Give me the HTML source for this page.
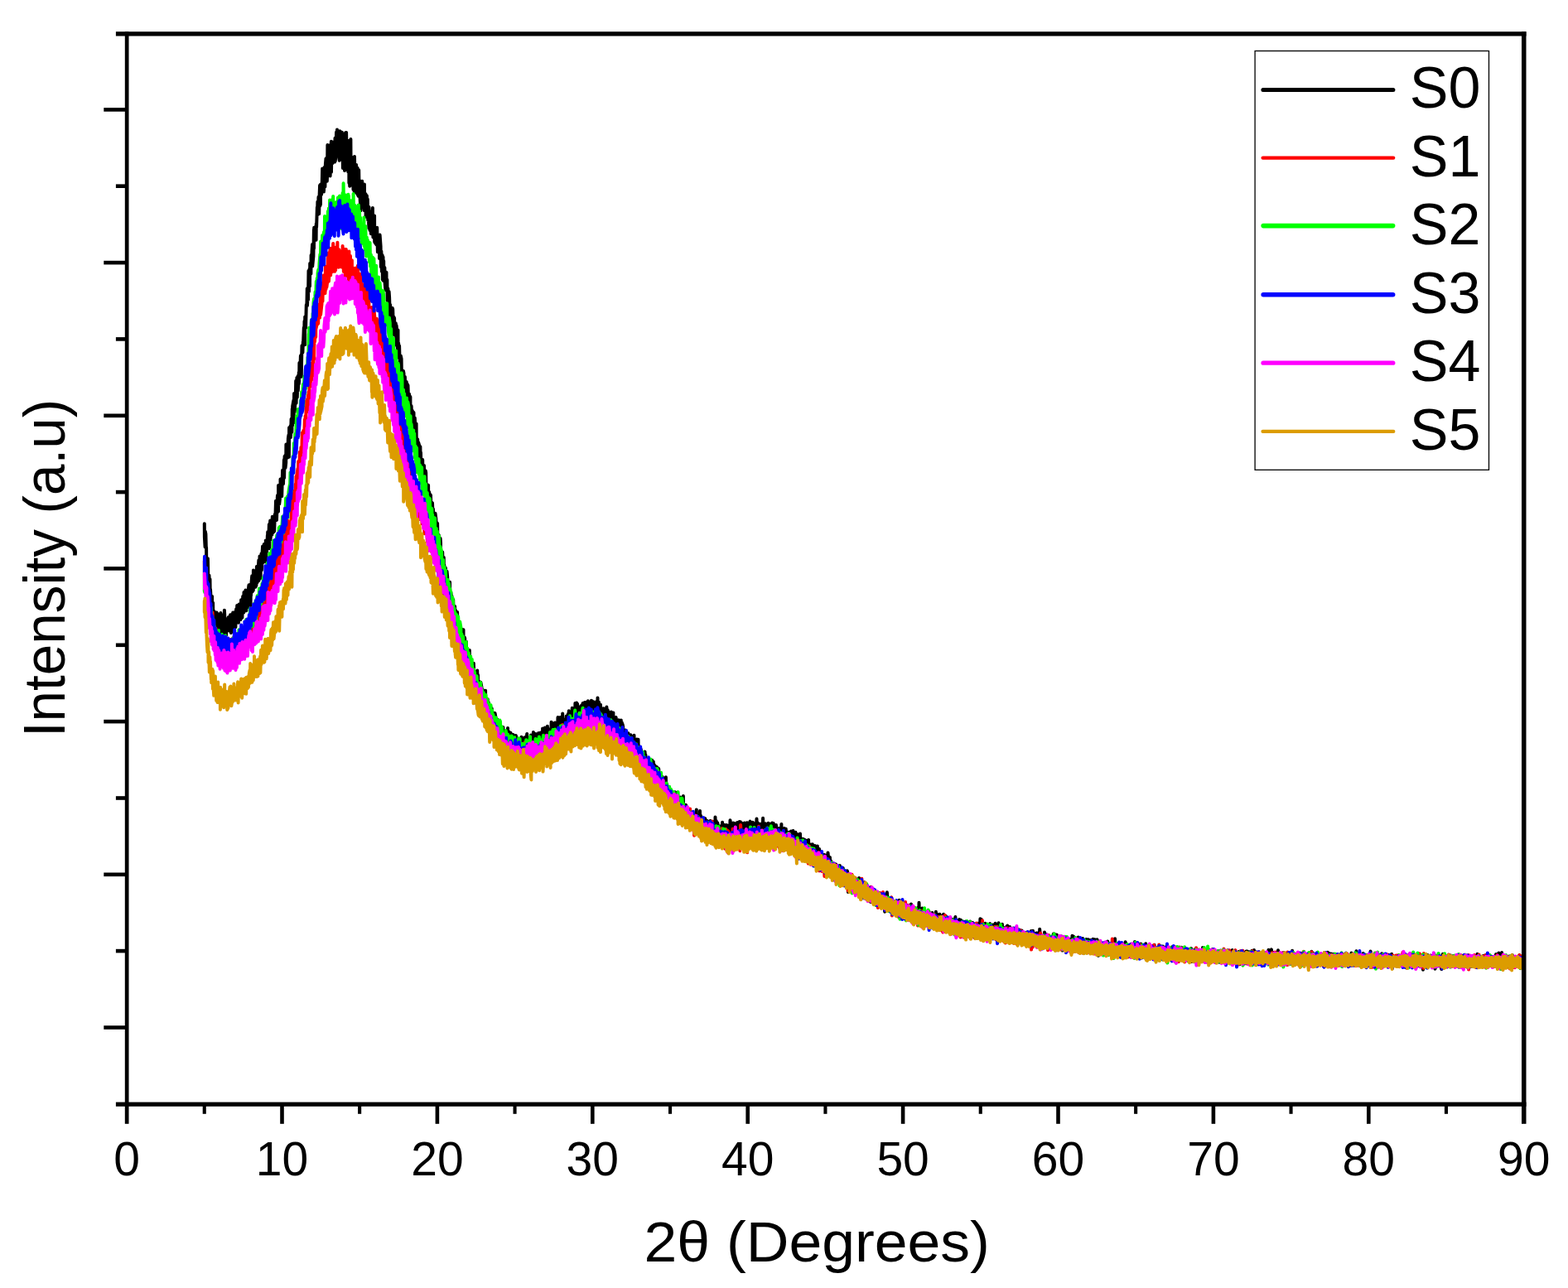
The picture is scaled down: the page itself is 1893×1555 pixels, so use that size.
<!DOCTYPE html>
<html><head><meta charset="utf-8"><title>XRD</title>
<style>
html,body{margin:0;padding:0;background:#fff;}
body{width:1893px;height:1555px;overflow:hidden;}
svg{display:block;}
text{font-family:"Liberation Sans",Arial,sans-serif;fill:#000;}
</style></head><body>
<svg width="1893" height="1555" viewBox="0 0 1893 1555">
<rect width="1893" height="1555" fill="#fff"/>
<g fill="none" stroke-linejoin="round" stroke-linecap="round">
<path d="M246.8 632.3l.1 16.1 .7 12.1 .2-18.9 .6 3 .4 15.2 .3 1.7 .1 16.4 1.2 5.6 .5-9.3 .2 9.6 .3 21.1 1.1-10.2 .3 16.7 .7-12.1 .3 24.5 .2-12.5 .9 15.8 .2-5.6 .7 12.1 .3-13.5 .1 19.4 .9-11.8 .3 17.3 1-7 .4 11.9 .2 2.3 .5-10 1 17.4 .1-20 .4 16.3 .6-16.4 .6 1.4 .2 15.9 .6 9.9 .5-19.5 1 13.6 .3-11.4 .6-8.1 .5 22.1 .5-23.5 .1 27.7 .6-6.4 .8-18.8 .3 4.7 .3 12.8 .7 6.5 .7-20.7 .1 23.6 .9-32.6 .3 4.9 .2 21.5 1-16 .1 11.8 .6 8.1 .7-19.6 .8-.1 .2 11.1 .3-1.4 .5-11.7 .6 .2 .2 15.7 .8-.3 .3-15.7 .6-3 .5 21 .4 .8 .1-21.7 1.1 1 .2 12.1 .8-15.9 .4 22.7 1-19.2 .2 14.3 .3-18 .5 14.5 .8 3.4 .4-18.4 .4-3.5 .4 12.5 .4 4 .2-20.7 1.4 5.8 .2 12.4 .2 2.4 .6-22.3 .4 12.9 .5-11.2 .9 17 .5-16.8 .2-7.1 .1 22.3 1-20 .2 19.2 .8-25.8 .2 17.6 .7 2.1 .4-24.6 .7 9.7 .2 12.5 1-24.6 .1 24.8 .9-.2 .1-23.3 .7 15.6 .7-16.7 .1 20.5 .5-19.8 1-7.3 .4 21.3 .6 .9 .3-22.7 .8 25.3 .2-25 .2 13.2 .5-15.8 .7-8.1 .4 19.2 1.2-1.8 .1-24.1 .2 20.1 .3-18.3 1 15.5 .5-16.6 .6 19.5 .4-16.2 .5 14.3 .5-22.9 .3 2.3 .4 17 .6-6.4 .6-12.8 .6-7.9 .1 24.8 .9-10.5 .1-19.1 1.1 26.6 .3-21.5 .6-8.2 .3 20.3 .4-4.8 .2-13.7 .7-10.7 .8 19.6 .5-1.8 .4-20.3 .6 2.4 .2 15.6 1-.5 .2-21.8 .2 25.9 .5-22.2 .6 9.8 .8-20 .1 14.7 .2-18.6 .8 16.4 .9-25.5 .5 29.2 .1-21.2 .7-12.5 .2 23.2 .6-4.9 .8-14.7 .7 13.3 .3-21.8 .3 19.7 .4-16.4 .7-2.9 .3 18.1 .7-1 .6-20.3 .6 3.8 .5-16 .1-4 .6 19.7 .4 3.5 .8-26.4 .2-3.4 .4 18.9 .6 .6 .1-31.6 .9 .9 .2 21.7 1.2-10.5 .1-19.6 .5 21 .8-16.3 .2-5.2 .2 21.1 .9-31.4 .7 15.6 .2 .9 .9-29.2 .2 21.9 .5-25.9 .8-1.2 .1 15.3 .7-6.4 .2-22.1 1.1 16.4 .4-16.7 .3 16.2 .7-23.2 .6-4.4 .4 26.8 .2-35.5 .5 10.8 .8-.1 .2-12.7 .4 13.7 .6-22.2 .8 15.9 .4-28.2 .2 20.5 .2-23.6 1.3-7.3 .1 27.2 .5-35.1 .8 21.8 .1-4 .9-14.5 .3-18.7 .4 27.1 .8-30.9 .4 23.8 .8-25.6 .2 17.4 .3-4.5 .7-17.6 .3 13.5 .3-24.8 .6 17.3 .9-25.6 .7-1.3 .2 26.2 .2-15.5 .5-21.9 .9 8.5 .5-13.6 .1 4.8 .8-21.5 .3 15.2 .4-22.9 .6 28.5 .1-33.7 .9 13.2 .7-27.8 .6 1.4 .4-21.1 .2 20.7 .6-15.8 .4 8.7 .5-35 .5 25 .5-26.8 .5 20.3 .2-27.5 1.2 12.5 .2-22.4 .5 10.9 .5-15.9 .5-7.9 .1 26.5 1.2-12.1 .5-32.4 .1 23 .2-25.4 1 14.4 .7-15 .7 15.7 .2-19.8 .3 4.3 .8-24.2 .2 9.5 .3-16.1 .7 9.3 .4-15 .7 20.5 .4-22.4 .5-12.2 .1 25.2 .8-2.3 .1-24 1 12.4 .7-14.7 .4-16.8 .7 25.9 .3 .1 .4-23.9 .4 25.8 .8-29.6 .6 23.7 .5-27.2 .6-6.9 .1 26.6 .6-27.2 .6 27.9 .2-4.5 .4-39.2 .7 9.3 .7 26.7 .2 .6 .5-36.1 .5 5.3 .6 31.6 .5-11.7 .8-29.9 .1 36.9 .4-30.2 .6-6 .6 25.4 .9-21.2 .1 17.3 .5-1.8 .7-20.1 .3 24.5 .4-28.8 .5 27.1 .9-28.6 .2-5.8 .7 22.7 .2-25.7 .5 21.2 .5-10.5 .1 16.9 1.7 9.7 .1-30.8 .3-4.7 .6 33.2 .3-32.6 .8 31.6 .6-7.1 .4-23.6 .6 10.4 .4 32.9 .3-37.2 .2 25.7 .8-21.1 .3 26.1 .5 9.3 .2-35.1 .8-10.5 .8 39.9 .3-40.3 .8 44.8 .5-34.5 .4 27.6 .3-28 .3 37.9 .8-32.4 .2 45.7 .7-50.5 .1 54.2 1.2-56.8 .2 30.7 .4-4.9 .8 23.3 .4 6.6 .4-33.3 .9 38.7 .1-38.6 1 5.8 .2 35.5 .2-42.6 .6 33.7 .6-18.5 .3 19 .6-24.3 .1 33.9 1.4-30.2 .2 32.3 .8 1.7 .3-25.5 .3-5.9 .4 23.4 .5-10.7 .5 21 .9 15.3 .4-32.7 .3 18.3 .2-14.9 .8-6.2 .6 27.2 .6 4.5 .1-21.5 1.3 25.1 .1-31.7 .2 12.2 .8 17.9 .6-18.2 .1 27.4 1.2-3 .1-22.4 .3 25.6 .6-21.3 .4 25.1 .2-13.7 1 23.7 .1-25.6 1 27.8 .1-23 .4 .7 .9 26.6 .3-27 .3 24 1.1 1.3 .3-29.5 .2 19.1 .3 16.4 1.2-2.6 .2-11.6 .3-11.8 .1 31.6 1.3 1.9 .3-15 .2-3.1 .4 19.6 .8-20.8 .7 29.5 .5-19.2 .2 14.1 1.2 6.2 .1-19.5 .1 26.1 .6-28.3 1 13.8 .3 24.9 .5-18.8 .5 24.2 .7-19.6 .3 29.7 .6-27.6 .1 28.5 .6-23.8 .2 22.7 1-14.6 .2 18 .8 9.2 .2-20.8 .9-.5 .1 18.4 .8-9.5 .2 25.3 .8-14.9 .4 12.5 .3 21.2 .5-29.9 .5 7.1 .8 23.9 .3-15 .6 10.2 .4-6.5 .2 14.2 .8 12.8 .6-26.6 .4 1.3 .7 21.9 .2 9.2 .4-21.7 .6 1.3 .4 19.4 1.1 .9 .2-14.1 .7 26.4 .1-23.7 .5 5.5 .7 24.1 .7-24 .1 23.7 .6-7.8 .7 17.8 .2-14.7 .8 29.9 .2-4.9 .7-13.1 .8 3.6 .3 22.9 .2-7.4 .8 11.9 .9 3.1 .1-15.9 .6 3 .4 13.7 .6 23.4 .4-32.9 .5 25 .2-17.5 .8 19.9 .4-21.3 1 27.4 .1-24.5 .3 33.2 .3-32.1 1.3 41.2 .1-21.3 .2-9.2 .8 30.5 .5-27.2 .1 22.5 .9 8.9 .2-20.4 1 20.7 .2-14.9 .4 1.3 .6 20.4 .7-19.5 .3 27.4 .7-.1 .3-20.8 .6 11.2 .2 19.5 1-23.6 .3 40.5 .1-23.7 .4 14.8 .8-12.6 .3 16.6 .6 .1 .1-13.1 1.2 4.4 .2 20.9 .8-20.2 .4 23.9 .2-16.9 .5 24.1 .7-11.8 .7 13.8 .3-17.4 .3 18 .5-9.6 .9 21.3 .1-22.6 .8 26.3 .3 4.1 .7-24.2 .4 2.4 .3 18.1 .9-4 .4 15.9 .4-.6 .7-13.5 .2-.9 .1 22.2 1-13.9 .3 27.7 .5-25.2 .8 18.9 .2-17.6 .6 27.6 .6 2.6 .2-19.3 .6-1.5 .8 20.1 .2-12.7 .6 22.5 .4-9.9 .1 12.9 .9-1.9 .5-18.4 .9 6.7 .4 20 .4 .1 .3-15.5 .6 .8 .4 21.7 .5 4.2 .8-11.7 .4 1.4 .2 16.2 .7 .5 .5-14.2 .4 5.3 .2 18.7 .9-7.1 .4 17.3 .7-17.7 .7 27.6 .9-21.1 .1 14.4 .2 11.6 .1-17.5 1.2 15.8 .1-12.2 .5 .7 .8 23.5 .2 2.4 .5-21.9 .7 6.7 .2 16.6 1-9.7 .4 15.8 .4-7.3 .7 9.6 .2-18.7 .1 21.9 1.3-8.7 .1 13.6 .8-10.2 .4 16.2 .4 7.5 .2-18.5 .8-.5 .4 22.7 .5-2.3 .3-12 .7-.5 .5 20.1 .5-15.3 .5 13.7 .9-9.6 .1 19.2 .5-21.1 .7 33.1 .6-20.1 .4 13.5 .3-13.7 .7 16 .4-10.6 .3 16.7 .7-13.9 .2 11.5 1.2 5.7 .2-17.4 .2 3.6 .9 16.6 .6-19.8 .1 30.5 1-.7 .3-20.5 .3 1.3 .3 18.9 .5 .6 .9-15.5 .2 12.4 .7 7.2 .6 7.6 .4-16.9 .2 .4 .4 17.2 1-.7 .4-17.1 .2 13.1 .4 16.7 .6-21.4 .5 20.4 .6-10.8 .4 12.8 1.3 7.1 .1-19.9 .1 17.4 .8-19.6 .2 5 .4 22.2 .8 .1 .3-15.8 .5-1.2 .5 9.2 .5 11.3 .6-11.2 .6-10.8 .6 22.3 .3-16.7 .1 18.7 1.3-2.7 .4-8.2 .3 18.4 .2-17.9 .7 20.8 .3-20.4 1.1 6 .4 17.9 .5-3.9 .5-11 .2 .7 .7 12.4 .6-8.6 .1 17.2 .7-1.1 .7-16.2 .2-3.4 .1 22.2 .9-9.9 .3 16 1-2.4 .4-15.5 .2 17.4 .9-11.5 .2-1.6 .7 16.2 .6-12.5 .4 14.5 .6-13.9 .1 20.9 .7-2.3 .6-15.8 .2 21.8 .9-17.3 .3 16.1 .3-15.4 .7 3.7 .7 14.3 .1 .9 .6-18.7 .8 4.8 .2 17.1 1.2-10.6 .1 13 .5-16.7 .2 17.9 .5-14.8 .8 13.1 .2-8.2 .8 14.6 .1-17.3 .8 11.3 .3 1.1 .3-7.5 .6 2.1 .5 10.7 .9-8.7 .4 12.7 .6-17.6 .2 29.3 .9-25.1 .3 14.1 .7 4.1 .1-15.8 1 1.5 .3 13.9 .1-16.3 .5 14.6 1-.1 .4-12.1 .1-7 .4 20.1 .6-2.9 .5-12.7 1.1 7.8 .3 10 .6-16.7 .1 16.2 1.2-14.5 .1 19.7 .2-16.8 .8 16.9 .1 2.8 .6-22.1 .8 5.5 .5 14.8 .5-1 .5-11.4 .2 8.7 .7-15.5 .3 1.4 .4 16.2 .5-14.1 .1 19.8 1-2.7 .8-11 .1-3.6 .5 13.7 .7-.7 .7-13.5 .2 1.4 .5 12.8 .5 2.3 .4-20.3 1 25.1 .1-23.6 .4 14.2 .2-12.6 1.6 11.7 .1-10.1 .2 12.2 .3-16.3 .6 15 .9-8.4 .1 11 .4-13.4 .8-8.6 .3 21.1 1.3 1.4 .1-16 .7 .6 .2 14 .2-12.6 .6 11.2 .9-2.8 .3-10.2 .2-5 .1 20.5 1.5-15.5 .3 22.7 .9-12.6 .1-18.8 .5 10.4 .2 10.3 .6-2.5 .7-13.8 .1 15.7 .8-18.1 .4 5.2 .7 10.8 .1-12.4 .1 12.5 1.4-2.2 .4-7.7 .2-7.1 .8 16 .1 7.1 .1-18.2 1.3 6.8 .2-12.3 .5 14.9 .5-13.9 .6 5.1 .2 13.3 .6-5.1 .1-19.3 1.3 15.6 .5-7.5 .3 16.7 .7-25.6 .9 4.9 .1 11.5 .1-15.5 .4 14.4 1.2-2.2 .3-15 .3 18.5 .6-15.5 .2 19.9 .8-17.3 .2-1.2 .6 11.1 .6-9.2 .3 13.3 .9 .6 .2-25.2 .6 21.2 .3-17.1 .9 3.6 .5 11.7 .6-17.9 .1 17.5 .5 5.7 .5-21.9 .4-2.1 .8 21.8 .4-4.3 .3-12.8 1-4 .4 10.6 .6-17.6 .1 17.3 .6-2.9 .6-10.4 .2 18.4 .5-14.4 .7 14.8 .2-22.8 .6 17.9 .1-12.5 1.1-4.5 .3 18.6 .7-24.1 .7 18.9 .3-12.1 .2 18.3 1.1-6.1 .4-8.9 .5-2.2 .5 13.4 .3-3.5 .6-14.8 1 5.6 .1 7.8 .6 6.2 .3-22.1 .3 10.1 .7-13.9 .6 22.7 .2-15.5 .4-1.1 .1 17.6 .9-19 .5 16.9 .5-7.6 .8-17.5 .6 3.8 .1 12.1 .9-.8 .5-11.6 .2 10.5 .4-12.4 .5 18.9 .4-26.3 .6 8.7 .2 14 .9-23 .7 26.9 .3-25.8 .3 11 1.2 3.2 .2-6 .8-2.2 .3 10.6 .2 1.5 .7-14.7 .6 16.8 .4-16 .3-2.3 .3 12.1 1.2-14.8 .2 13.5 .4-11.5 .2 13.6 .6-.7 .9-15.7 .3 2.5 .4 10.3 .4-9.7 .2 13.4 1.2-3.1 .1-14 .7 12.6 .7-13.8 .7 2.5 .3 15.9 .2 2.4 .8-15.4 .3-1.5 .7 15.1 .3-6.2 .7-13.3 .1 17.6 .8-12.2 .2-4.7 .1 20.4 1.3-19.6 .4 24.7 .6-19.4 .5 10.2 .6-2.9 .3-8 .2 .6 .8 7.6 .2 4.2 .1-17.4 1.3 15.1 .1-19.4 .5 22 .4-16.3 .7-.4 .1 16.7 1 .8 .7-11.4 .1-3.2 .5 13 .5 4.5 .1-13 .9 1.3 .2 11.6 .8-.5 .5-12.4 .7 18.4 .3-16.3 .6-1.7 .4 14.6 1.1-14.2 .2 13.6 .3 .8 .3-17 .6 21.1 .5-17.7 .6 2.2 .1 12.2 1.2 0 .5-11.2 .3 15.8 .2-11.6 1.1 8 .4-12.7 .9 21 .1-19.8 .5 19.6 .5-13.7 .5-6.3 .2 19.1 .5 3.9 .8-12.7 .5-3.5 .5 17.8 .1-4.5 .6-14.6 1.2 11.6 .1-5.7 .9-.2 .1 10.2 .5 9.8 .5-22.4 .1 4.2 .5 16.7 .5-12.2 .2 14.2 1.3-4.7 .3-18 .4 21.2 .7-18.1 .5 20.6 .2-18.8 .6 3 .6 21 .4-3.8 .4-11 .4-1.6 .8 15.2 .3-15.7 .4 24 .5-21.3 .5 15.6 .6-1 .1-13.1 1.2-.4 .2 12 .5-7.9 .3 9.6 .8 10.7 .6-19 .7-3.4 .4 12.3 .1-10.7 .5 14.3 .5-10.7 .8 13.9 .3-6 .7-7.1 .7-5.5 .3 18.9 .2-13.6 .1 10.6 1.1-9.5 .7 11.2 .7 .1 .2-12.8 .3 .6 .4 23 1-23.4 .3 16 .2-8.5 .1 12.9 1-6.7 .3 8 .8 2.7 .4-12.9 .5 1.9 .8 13.2 .1-11 .1 19.1 1 .2 .8-17.4 .5 11 .4-12.5 .8-1.2 .3 18.4 .5-14.8 .4 11.4 .3 7.9 .3-13.5 1.2 9.8 .3-10.1 .5 .9 .4 14.1 .7 .2 .3-11.1 .3 15.6 .4-16 .7 1 .3 13.7 .5-13.1 .1 11.9 1.1-16.2 .6 19.3 .8 1.1 .2-18.5 .2 18.4 .6-15.3 .6 2.1 .2 11.9 .6-11.9 .5 9.6 1 4.6 .1-11.9 .6-.9 .7 13.5 .1-10.8 .6 8.7 .6-9.6 .7 13.4 .1-9 .8 15.6 .8-14 .2 12.3 .6 2.1 .1-11.6 .9 8.5 .4-7.4 .8 4.4 .2 18.4 .4-15 .6 7.8 1 3.3 .1-15.9 .6 20.9 .4-23.6 .2 10.6 .3 11.4 .6-14 .9 18.7 .1-16 .8 11 .7 6.9 .3-13.5 .3 10.9 .7-11.7 .2 3.3 .5 13.8 .7-15.6 .6 12 .3-9.6 .3 10.3 1.1-8.6 .3 13.9 .2-13.8 .6 11.3 .8 2.4 .4-15.7 .3 .7 .5 17.2 .4 .4 .6-13.2 1-4.5 .2 15.6 .4-12.8 .3 14.6 .6 9.7 .8-20.9 .5 3.4 .5 14.8 .5-18.7 .5 14.5 .7-10.2 .2 20.6 .6-5.6 .2-9.3 .8 16 .5-27.5 .1 8.4 .6 12 .5-5.9 .1 6.8 1.2 2.6 .2-11.9 .5-1.2 .5 15.3 .4 1.5 .8-10.5 .3 .2 .5 10.6 .4-12.4 .8 16 .4-2.7 .7-12.9 .5 3.2 .2 13.3 .4-.4 .8-10.4 .3-.8 .5 10.6 .6-9 .3 10.3 .6-2.5 .5-7.2 .5 11.4 .1-11.4 1.3 4.8 .3 10.2 .2-.3 .8-21.2 .3 19.7 .7-11.7 .2 1.2 .8 7.5 .3-7.8 .8 9.8 .6-6.1 .3 10.3 .2-21.5 .5 26.6 .6-20.7 .8 10.9 .5-6.5 .4 9.2 .7-2 .3-8.2 .3 3.7 .7 13.3 .3 0 .1-17.5 1.2 .6 .1 13.4 1-8.8 .1 8.8 .6 2.3 .6-12.9 .8 15.2 .3-11.6 .2 .1 .7 13.2 .2-1.7 .4-8.8 1-6.4 .2 14.4 .4-1.4 .8-7.2 .2-2.8 .4 12.8 .8-2.6 .4-12.2 1 2.5 .3 9.7 .7 3.9 .3-13.4 .5 13.9 .1-22.1 .6 23.7 .7-19 .2 9.7 .5 8.3 .5-2.4 .4-13.3 .8 7.9 .3 9.8 1-4.1 .1-9.8 .6 11.2 .3-5 .5 0 .9-6.5 .1 17.7 .9-19.5 .2-2.5 .8 16.8 .7-.9 .2-7.7 .8-5 .2 15.1 .8-12.7 .3 10.8 .7-12.3 .3 18.4 .1-19.4 .5 13.5 .7-13 .2 10.2 1 4 .1-11 .5-.6 .9 18.4 .1-5.5 .5-21.6 .9 6.7 .4 9 .2-8.2 .8 12.8 .8-14 .2 10.3 .4-13.4 .3 12.1 .9 2.3 .4-13.8 .4 2.6 .3 13.6 .9-14 .4 10.4 .4-4 .4 4.3 .5-14 .3 11.1 .6 6 .8-15.2 1-2.8 .1 15.7 .6 1.2 .4-16.8 .2 6.8 .8 12.3 .3-17.7 .4 11 .6-9 .6 14.4 .3-10.6 .4 16.5 1.3-22.5 .1 16 .2-12.4 .3 13.6 .8-14.1 .2 10.7 1.4-13.9 .1 11.1 .5 9 .5-17.6 .1 .2 .1 12.7 1.7-2.4 .1-12.2 .7-2.5 .2 14.4 .6 0 .5-8.9 .2 12.7 .8-14 .6 4.8 .3-7.9 .2 1.7 .2 13 .8-11.6 .6 12.5 .5-13.7 .8 13.4 .9-.6 .1-8.6 .6-10.3 .4 13.1 .3 2.3 .4-10.7 .9 2.4 .3 17.1 .4-2.4 .2-15.8 1 12.1 .1-6.1 .9 9.5 .2-15.2 .4 14.7 .8-10.3 .7-5.1 .1 15.3 .5-21.7 .7 25.2 .3-16.1 .5 11.2 .5-11.5 .3 10.1 .6-12.3 .6 13.3 .9 5.8 .3-17.2 .2 3.1 .5 20.9 1.1-26.4 .2 18.8 .2-1.7 .5-13.7 .9-1.7 .1 14.5 1.1-4.7 .2-9.1 .2-1.8 .4 10.4 .8-11.4 .4 10.2 .6 .7 .6-10.3 .4 11.8 .2-7.6 .8 9.8 .4-9.8 .4 10.2 .9-8.7 .1-3.7 .5 15.6 .6-8 .7 12 .2-12.3 .5 5.9 .7-9.3 .2 9.5 .8-5.2 .2 13 .6-15.6 .9 14.2 .5-20.9 .4 20.6 .3-2.4 .3-12.4 1.1 11.9 .3-7 .4 7 .7-12.5 .7 2.2 .3 16.1 .1-7.1 .8-10.5 .2 4.5 .5 7.5 .6-5.8 .5 8.7 1.2-9.1 .1 9.5 .1-11.4 .5 14.7 .9-4.7 .2-9.8 .9 2.3 .1 8.6 .4-12.4 .8 12 .7 3.4 .3-9.3 .7-6.6 .3 17.2 .8-4.5 .3-7.7 .7-1.4 .2 14.1 .7-15.8 .3 14.5 .3-10.2 .8 10.3 .3 1.7 .7-13.9 .3 15.3 .4-10.5 .5-1.2 .7 9.8 .4-4.9 .7 6.4 .1-15.5 .6 19.2 .5-13.7 .5 10.8 .6-7.1 .6 13.5 .4-2.4 .7-14 .5 1.2 .4 13.1 .2 2.7 .8-15.8 .3 13.1 .1-8.5 1.3-3.7 .1 13.7 .4-10.6 .1 11.9 1.5 4.6 .2-16.3 .3-4.4 .3 16.7 1-.5 .1-7.6 .6-.8 .5 8.6 .4-10.8 .6 14.9 .6 3.7 .7-18.9 .5 18.9 .1-12.1 .9 5.5 .2-7 .6 7 .7-10.4 .5 13.6 .4-11.7 .2 1.4 .5 6.3 .6 3.2 .8-12.3 .3 6.8 .7 16.1 .9-17 .1 12 .2-14.4 .3 16.5 .6-10.3 .8 12.6 1-3.5 .1-12 .2 2 .8 13.2 .3-11.4 .4 10.7 .6-1 .3-10 .7 .1 .7 14.4 .3-9.2 .4 3.9 .8 11.5 .5-14.5 .9 6.5 .1-12.8 .3 15.8 .3-18.1 1 9 .4 13.9 .6-2.3 .4-15.2 .5 7.1 .4 4.7 .3 2.1 .1-9.3 .8 14.2 .4-9.4 .6 10.8 .2-11.4 1.3 0 .4 14.4 .1-5.5 .4-9.6 .6 1.5 .5 10 .7-10.9 .2 14.8 .8-11.7 .6 10 .6-8 .2 8.2 .6-5.7 .6 8.8 .6-.2 .5-14.7 .3 5.2 .3 12.8 .6-15.6 .5 13.8 .8 0 .5-8.9 .9-4.5 .1 13.7 .2 .7 .1-12.5 .9 1.7 .5 15 .5-14.4 .5 8.7 .4-7 .9 13.8 .2 2.5 .7-18.8 .7 2.6 .4 23 .3-15.1 .2 8.4 1.1-12.9 .3 11 .2-12.2 .9 5.8 .5 10 .5-8.8 .7-1.4 .2 7 .3 5 .7-13.4 .6-.5 .5 11.9 .5 1.6 .5-13.2 .3 12.1 .7-9.1 .3 12.1 .2-10.1 1.2 11.9 .2-13.3 .3 13.6 .3-12.8 .6 8.1 .4 4.3 .7-17 .3 22.3 .7-2.5 .7-9.9 .7-1.9 .1 17.6 .5-5.7 .1-9 1 8 .6-10.3 .4 4.3 .6 6.5 .7-14.1 .3 16.2 .2 .5 .4-11.6 1.1 11.9 .4-8.5 .1-3.3 .5 9.2 .5-4.6 .4 9 1.1-8 .3 8.4 .7-1.1 .1-10.2 .6 13.4 .7-15.3 .2 17.8 .3-12.6 .7-2.2 .1 9.4 .8 2.6 .2-11.5 1 9.4 .7-7.4 .2 2.3 .5 8.4 .5-9.7 .3 9.4 .6 .7 .8-10.6 .8 1.5 .2 10.9 .3-11 .8 13.5 .6 .6 .4-10.7 .6 10.6 .1-10 .5-1.9 .4 9.2 1.3-6.4 .1 8.3 .1-8.6 .9 8.9 .6-2.8 .1-7.9 .8 13.8 .4-11.1 .2 .8 .4 8.5 .8 7.3 .7-20 .3 0 .2 12.5 1.1-1.6 .4-14.3 .6 8 .1 11.2 .5-10.9 .8 10.3 .5-.3 .2-7.9 .6 3.1 .6 7.3 .3-9.7 .5 9.1 .5-12.6 .1 11.7 1 5.4 .6-14.2 .4 13 .3-12.6 .6 9 .3-6.3 .7 10.1 .3-11 1 8.5 .4-6.4 .6-1.7 .4 13 .4-.8 .7-11.5 .1 3.9 .1 5.5 1.4 .9 .1-14.7 .6 14.4 .6-11.5 .3 14.7 .3-11.4 1-5 .5 10.9 .1-2.9 .2 7.9 1-.9 .4-9.1 .6-1.6 .7 10.2 .1 1.3 .2-11.2 .9-1.9 .7 12.4 1-8 .1 11.3 .2-12.8 .4 11.4 .6 .9 .4-8.7 .5-4.1 .1 12.1 1-10.9 .8 11.4 .5-10.1 .5 9.4 .1-13.3 .9 15.5 .9 0 .1-9.1 .6-.6 .1 9.4 .5-10.6 .5 14.6 .6-13.2 .2 8.3 .7-7 .1 5 1.3 7.9 .3-13.1 .4 11.6 .3-12 .9 11.8 .1-14.3 .6 14.5 .4-20.6 .6 19.7 .7-12.6 .2 16.6 .8-12.9 .6 10.1 .1-7.8 .9-6.2 .2 14.1 1.2-1.2 .1-9.6 .1 15.3 .6-12.2 .9-3.8 .1 10.3 .8 4.1 .1-11.8 .6 13.8 .5-14.3 .4 11.6 .6-11.2 1-.4 .2 8.2 .4 1.4 .3-10.5 .5 14.3 .8-10.3 .4 9.2 .6-7.3 .3-.4 .8 7.6 .6-11.4 .3 8.8 .6 1.7 .2-7.4 .5 1.1 .1 8.5 1-10.5 .4 11.6 1.2 1.1 .1-16.2 .1 14.6 .2-7.4 1.2-4.3 .4 13.5 .7-11.2 .4 8.1 .1-3.9 .2 5.5 1 1.4 .3-13.4 1.1 14.3 .2-12.6 .4 6.1 .4 9.9 .6-12.2 .7 11.3 .5-5.7 .2-8.7 .5-2.4 .3 12.4 .7-10.9 .5 14 .5-1.4 .8-11.7 .2 5.5 .5 9.4 .4-10.3 .5 13.3 .7-7.8 .4-7.3 .5 11.4 .5-7.5 .6 11.1 .4-13.2 .5 6.7 .7-8.1 .3 12.4 .5-8.6 .9 7.4 .3-10.6 .6 9.3 .2-8.3 .6 9.8 .3-6.3 1.3 3.7 .1-7.1 .5-4 .4 15 .6-10.5 .1 8.7 1 .2 .3-8.3 .3 13 .4-9.1 .7-1.3 .7 7.6 .2-12.3 .1 11.6 .8-7.8 .9 11.3 .1-.1 .1-14.2 .9 5.9 .6 6.5 1-10.6 .2 7.3 .8 2.6 .3-8.1 .3 1.6 .7 8.7 .9-12.2 .1 9.1 .7-6.5 .3 8.1 .1-7.7 .8 9.5 .2-2.3 .8-8.1 .7 6 .4-3.3 .2-.8 .3 13.6 .8-17.6 .2 8.2 1-3.7 .1 6.3 .7-.4 .3-8.4 .6-.7 .4 7.2 .5-4.4 .8 11.8 .6 1.2 .4-14.1 .3 2.9 .4 5 .9 2 .2-7.3 .5-.8 .4 11.1 1-13.7 .4 12.7 .6-1.3 .1-8.7 .4-2.5 .9 7.9 .5-13.6 .2 15.8 .4 2.2 .8-17.2 .4 15.9 .6-8 .7 6.7 .4-6.6 .3 1.7 .4 6.9 .8-.9 .1-8.9 .6 7.7 .3-9.8 .8 14.7 .2-13.4 .7 10.1 .7-5.7 .2-2.9 .5 10.6 .9-11.7 .5 12.1 .6 1.9 .1-10.7 .8-4.6 .1 12.4 .9 2.8 .5-11.9 .5 2.2 .4 6.5 .3-1.8 .5-8.9 .6 14.1 .2-12.5 .6 2.2 .6 6.3 1-11.7 .2 12 1 4 .1-8.5 .1-2.4 .6 10.5 .6-9 .7 12.4 .7-19.6 .2 16.5 .7-.8 .3-7.1 .3-4.2 .5 8.1 .6-4.7 .7 11.7 .9-3.1 .1-14.8 .5 16.7 .2-6.4 1.2 5.1 .1-7.4 .1-2 .2 9.4 1.2-2.4 .5-9.4 .1 3.4 .6 8.7 1.2 2.9 .1-9.7 .3-7.2 .3 13.1 .9-5.8 .4 5.8 .6-1.9 .2-5.6 .5-4.1 .4 7.3 .6 9.1 .7-10.3 .8-2.4 .2 9.8 .3-9 .3 10.9 .7-13.9 .3 11.3 1.1-8.4 .1 10.2 .5-2 .5-10.8 1 6.2 .2 7.7 .6-11.4 .2 6.6 .4-3.2 .2 6.4 .8 0 .9-8.3 .2 7.8 .1-7.2 .8-2.8 .8 14.6 .3-10.6 .5 9.4 .6 .4 .3-13 .7 1.6 .6 7.8 .2 .1 .6-5.2 .6 5.9 .7-7.3 .1 2.5 .2 5.3 .9 1.1 .4-9.4 .5 10 .9-8.2 .3-2.2 .7 7.7 .2 1.3 .7-8.5 .8 1.7 .3 8.9 .3-2.5 .2-6.9 .6 8.2 .8-11.2 .3 .7 .7 17.2 .6-16.4 .1 10.7 .5-12.5 .6 11.8 1.2 1.8 .1-9 .2-1.5 .4 13.4 .5-1.6 .9-12.2 .5 8.9 .4-9 .6 13.9 .2-11.2 .8 2 .2 7.6 .6 3.7 .3-16.8 .6 12.7 .1-16.5 .8 10.6 .2 8.2 1.2-1.5 .1-9.2 .5 9.1 .4-7.1 1 9.4 .4-7.9 .4-2.3 .3 10.6 .5-16.1 .4 13.2 .8-5.1 .2 8 1-13.4 .1 13.1 .5-11.2 .6 9.7 1 0 .3-8.9 .3 11.2 .6-8.1 .3 6.9 .7-7.9 .6-.1 .4 10.3 .2-1.1 .8-10.5 .8-.2 .3 10.1 .9-14.2 .1 11.3 .7 1 .3-12.2 .5 11.3 .4-10.2 .2 11.4 .1-8.1 1.4 6.9 .3-10.2 .4 11.7 .7-5.8 .2-1.8 .7 12.8 .4-4.3 .7-10 .2 8.1 .7-4 .4 5.6 .7-10.4 .5 4.6 .5 5.6 .2-5.7 .5 12.6 .8-14.7 .2 4.3 .5 4.2 .5-8 .8 2.8 .1 8.2 .6-9.5 .3 8.2 .7-7.9 .7 8.7 .6-9.6 .2 10 .5 1.5 .5-11.4 .5 11.3 .7-10.6 .3 8.6 .5-6.2 .5-3.5 .3 8.2 .7 3.4 .7-9.3 .2 5.4 .5-12 1 6.6 .3 8.8 .2-14.5 .6 15.2 .5-14.1 .1 12.1 1.6-7.5 .1 8 .6-6.1 .3 6.6 .4-7.1 .4 6.6 1-1.1 .2-11.6 .4 7.4 .2 5.8 .7-10.8 .8 9.4 .6-8.7 .1 10.9 .5-11.5 .8 12.3 .7-10.6 .3 14.3 .1-8.8 .1-8.2 1 3.5 .8 11.5 .1-12.2 .6 10.6 .4-10.3 .2 10.9 1.2-13.2 .2 13.6 .6-3.2 .7-7.4 .3 9.4 .7-12 .5 9.6 .4-7.2 .6 7.6 .2-5.6 .6 4.7 .6-8.3 .3 12.6 .7-9.3 .2 6.7 .6-4.5 .8-6.8 .4 9.6 .3-4.1 .1 7.5 1.4-12.6 .2 11.6 .4-6.9 .2 6.6 .8-7.2 .6 7.7 .2-.1 .5-11.6 1 4.3 .3 11.5 .3 3.7 .8-12.3 .5-2.7 .1 5.2 .5-6.6 .8 11.2 .4 2.8 .6-13.2 .2 0 .2 8.5 .8 1.3 .9-8.7 .3 2 .4 5.9 .9-8.1 .1 9.6 .5-2.9 .5-7.2 .5-.8 .4 11.3 1.1-12 .3 13.2 .3-13.8 .4 11.7 .5-8.9 .5 11.6 1.2-3.1 .1-7.5 .1 .8 .9 7.1 .7-5.1 .2 6.5 .3-1.3 .4-5.6 .9 5.9 .2-12.9 .6 2.6 .2 9.2 1-5.1 .5 9.7 .2-18.8 .5 14.9 .4 .3 .4-6.8 .6 5.2 .1-5.5 .9 9.6 .2-8.6 .8-1 .6 6.3 .6 2.9 .6-11.7 .8 12.8 .2-11.8 .6 2.4 .4 9.1 .6-8.4 .2 6.7 .6-6.8 .7 7.1 .7-.8 .3-7.4 .1 5.6 .9-7.8 .2 11.1 .5-13.4 1 2.4 .3 11.3 .3-10.6 .2 12.5 .8-10.8 .4 9.4 1-8.6 .3 6.2 .1 3.9 .2-9.6 1.2-2.1 .4 7.4 .6 .7 .1-9.6 .6 5 .8 7.8 .2-10.5 .1 8.9 1.2-6.2 .5 7.6 .6-3.9 .4-4.5 .1-6.9 .6 13.9 .8 2 .4-11.4 .2 11.6 .8-9.9 .3 8 .8-11.8 .1 13.5 .6-10.3 .8 2 .2 5.8 .4-1.2 .9-5.1 .3-4.8 .7 13.6 .1-9.8 .9 9.5 .7-.4 .2-9 .6 9.6 .5-9.8 .6 10.8 .4-8.4 .1 7.2 .6-7.7 .6-5.8 .6 14.5 .4-1.8 .7-9.5 .2 10 .7-8.2 .6 2.5 .5 5.6 .3-6.8 .4 5.7 .5-7.2 .3 10.3 1.1-12.6 .4 9.4 .2 1.8 .7-9.6 .2-1.4 .2 13.9 1-13 .7 7.3 .7-9.3 .3 14.3 .5-11.3 .5 10 .5-8.9 .2 7 .6-7.2 .6 10 .3-3.6 .8-5.5 .1-1.2 .5 7.9 .5-9.9 .9 10 .5-10.3 .4 14 .6-11.2 .4 8.4 .2-5.7 .5 7 .6-2.8 .7-9.3 .3 13.6 .4-10.7 .6 1.2 .8 5.5 .7 .7 .2-7.5 .7 .5 .1 9.3 .4-12.2 .8 10.3 .7 1.4 .1-5.7 .8 3.8 .1-5.5 .5-2 .8 9.5 .7-2.1 .4-4.6 .3 7.1 .7-9.1 .6 11.3 .1-12.3 .4-1.6 .9 8.1 .6 3.6 .4-9.8 .2 4.5 .4 4 .9-7 .5 11.9 .3-13.1 .7 9 .2-11 .7 12.3 .6-10.2 .1 12 .5-10.3 .6 8.9 .4-.1 .9-5.2 .1 4.7 .4-11.2 .7 1.2 .1 10.2 1-12.1 .6 12.3 .3 1.1 .5-8 .5-1 .5 5.3 .9 1.8 .3-9.5 .2 3.2 .2 5 1.2 1.3 .5-7 .5 7.5 .4-9.9 .7 1.5 .1 8.7 .8 1.2 .1-9.7 .7 1.1 .7 8 .1-10.4 .4 9.1 .7-.8 .8-7.1 .1-2.6 .8 16.2 .3-11.8 .5 8.7 .4 0 .5-7.8 .5-.8 .6 10.1 .6-12.9 .4 9.6 .8-8.9 .5 10.1 .1-.5 .5-9.3 .5 9 .9-6.4 .6-1.6 .3 7.5 .2-5.9 .4 6.3 .6 2.1 .4-10.8 1 2.9 .2 6.2 1.2 1.3 .1-9.2 .6-.9 .4 7.5 .1-11.6 .2 14.8 1.3-3.1 .3-9.3 .7 9.7 .4-8.4 .2 1.2 .3 12.3 1.2-12.2 .3 7.7 .3 4.9 .3-14.9 .7 10.3 .2-5.3 1-2.8 .1 10.4 .9 2.6 .5-14.3 .5 0 .2 12.9 .9-5 .4-7.5 .7 12 .3-14 .1 5.1 .4 4.7 1.1-7.8 .3 9.4 .6-.4 .5-4 .1 3.6 .9-5.2 .3-1.8 .4 8.6 1-3.4 .3 5.9 .3-4 .2-8.5 1 2.8 .2 6.9 .4 3.8 .5-11.3 1.1 10.3 .3-11.7 .2 9.6 .4-10.7 .5 11.3 .2-7.7 1.2 7.9 .4-10.1 .4 12.2 .3-12.4 .6-.3 .8 6.6 .3 7.5 .6-13 .7 8.7 .4-9.1 .1 3.2 .5 5.4 .5-3.9 .1 5.1 1.1-7.5 .6 9.4 .3-13 .5 10.1 .5 2.5 .4-10.1 .5-1.5 .5 7.8 1 .9 .3-10.9 .8 3.2 .3 7.2 .2-8.9 .3 13.6 .6-11 .2 7.1 1 3.2 .2-11.8 1 1.6 .1 7.5 1 1.6 .1-6.6 .5 3.7 .3-6.6 .6 9.5 .6-11.3 .8 15.3 .1-15.6 .6 2.7 .8 8.3 .5-2.3 .2-4 .4-2.9 .6 8.5 1.2 3.4 .1-11.7 .3 9.6 .2-10.9 .8 1.4 .7 9.4 .3-10.1 .6 8.8 .4 2.9 .3-13.2 1.3 0 .1 13.1 .7-3.7 .2-4.1 .2-3.8 .4 8.7 .7-9.6 .8 11.3 .2-.7 .7-7.6 .6 .6 .5 8.1 .6-13.2 .1 15.7 .6-10.6 .6 9.9 .2-10.8 .4 7.1 .6-11.9 .4 9.2 1.2 7.9 .3-14.2 .3 7.2 .2-7.5 1.4 12.4 .1-12 .9 8.1 .1-8.5 .2 6.4 .8 6.2 .2-12.8 .7 11.9 .3-.6 .8-7.7 .5-2.6 .4 10.9 .6-2.5 .5-6.8 .1 1.3 .2 7.4 1 .2 .7-8.8 .1 11.2 .9-12.2 .1 7.5 .1-8.4 .9 10.5 .5-9.7 .5 9.7 .2-8.4 .8 7.8 .9-6.4 .6-7.1 .3 13.8 .2-3.1 .8-3.7 .2 6.6 .2-11.9 .9 14.7 .1-14.5 .8-2.3 .2 15.2 1.3-2.3 .4-8.6 .9-.5 .1 5.6 .3 6.5 .4-9.4 .4 8.7 .9-8.9 .3-1.2 .7 7.5 .1 3.1 .8-9.5 .3 10.1 .4-7.9 .5-7.4 .6 12.8 .4-.7 .2-7.3 .8 7.6 .9-7.7 .2-.6 .8 9.8 .6 1.3 .3-11.8 .2 9.9 .1-7.9 .9-1 .8 11 .4-3.2 .3-5.3 .7 9.6 .2-10.7 .8 7.7 .4-4.8 .8 5.7 .4-10.6 .2 1 .5 6.8 .7-.5 .2-8.1 1 10.4 .1-10.3 .5 .3 .4 9.2 .6-9.3 .1 13.1 .9-3.4 .5-8 .6-4.6 .4 12.6 .7-6.3 .7 6.3 .1 1.8 .9-9 .9 5.8 .1-2.9 .1-3.9 .8 8.2 .8-7.7 .3 8.9 .1-10 .6 12.2 .4-10.8 .5 7.2 .9-4.4 .5 9.8 .1-5.1 .6-5.6 .4-.8 .9 5.7 .3-9 .2 7.6 .8-5.6 .6 11.7 .3-10.7 .4 9.7 .6-1.1 .8-9.5 .3 10.8 .6-8.2 .3-.9 .5 2.8 .9 4.7 .3-8.5 .3 5.4 .7-6 .2-1.5 .6 11.1 .4-1.1 .2-7.2 .8 3.3 .8-4.9 .7 .8 .3 9.9 .6-14.5 .4 9.5 .7-4.1 .1 8.7 .4-12.5 .5 10.8 .5 1.2 .2-9.3 .8 9.6 .1-10.5 1.4 2.4 .1 8.2 1 1.1 .3-11.2 .1 13.6 .9-11.7 .2 8.4 .1-10.4 .8 6.7 .1-7.1 1 13 .1-10.4 1 4.3 .6-7 .6 9.1 .4-8.7 .3-.1 .8 8.2 .1-4 .6 9.4 .9-5.2 .3-10.6 .3 11.1 .5-5.6 .9 7.1 .4-8.8 .2 9.9 .3-9.3 .8 6.1 .7-10.9 .9 10.7 .1-6.2 .5 7.6 .4-10.8 .2 4.6 .2 7.3 1-8.6 .7 7.9 .2-10.7 .8 10.8 .5-7.7 .1 7.8 .7-3.1 .2-5.3 .6 6.8 .2-9.2 .8 1 .1 8.6 .9-9.5 .2 10.2 .8-7.5 .4 9.2 1.1-1.3 .1-9.9 .8 2.2 .1 6.8 1.1-5 .3 5 .7-8.9 .2 8.3 .4-5.5 .4 7.5 .5-2.9 .7-8.6 .2 1.2 .1 7.5 .9 2.1 .4-8.6 1 2.8 .5 6.9 .1 .3 .2-9.8 1.2 7.4 .5-5.1 .7-2.9 .2 7.4 .6-5.4 .5 4.6 .1-6.8 .2 10.9 1 .2 .6-10 .3 1.3 .7 8.1 .3-10 .8 9.9 .3 2.4 .3-15.3 .9 4.9 .1 5.3 .7 4 .7-8.8 .7-4.4 .3 9.9 .6-6.2 .4 7.2 .5-.4 .1-7.7 .9-6.1 .2 13.3 .4-.5 .6-8.9 .4 10 .1-6 .9-2.4 .1 7.1 1.4-6 .1 8 .4-9.8 .9 7 .5-5.7 .2 11.7 .8-3.7 .5-6.8 .1 5.6 .8-10.1 .4 12 .7-9.1 .7 12.2 .3-11.4 .9-1.6 .1 8.4 .1 3.1 .9-11.5 .1 .2 .2 8.5 1.3-.8 .4-8.1 .6-.6 .3 8.5 .6 4.1 .4-11.5 .6 7.3 .2-12.3 .5 5.5 .4 8.7 .7 3.7 .2-13.4 .8 .3 .3 11.2 .6-10.1 .4 7.6 .5 1.8 .2-9.6 .8 1.3 .1 6.4 1.4-7.4 .1 8.1 .5 .9 .8-7.9 .5 9.2 .1-12.3 1 14.6 .4-10.5 .1 6.8 .9-9.3 .5 8.9 .4-9.1 .2 1.9 .4 6.5 .8-11 .7 14.3 .2-11 .4 5 .5 1.5 .1-5.7 1 9.1 .1-11.8 1.4 2.5 .2 7.2 .8-7.5 .3 9.3 .1 .3 .9-10.3 .1-.4 .4 4.9 .7 4.2 .5-10.1 .6 10.2 .2-8.8 1.1 10.3 .1-8.9 .9 5.3 .4-6.9 .2-2.1 .4 9.1 .7-5.3 .2 5.2 1 2.4 .1-6.8 1 6.8 .3-8.3 .2 2.6 .5 3.8 .7 1.9 .6-8.7 .3 .9 .1 7.7 .8 2.4 .2-10.4 1.6-1.8 .1 8.6 .3 3.7 .2-9.9 .6 5.5 .1-6.5 1.3 2.2 .4 4.9 .4 1.6 .6-9.3 1 9.2 .1-7.8 .6-.5 .1 6.8 .4-8.1 .8 12.1 .2-3.8 .5-8.9 .9 9.9 .5-7.9 .1 13.4 .8-15.1 .7 1.7 .4 7.4 .5-1.4 .5-8.4 .6-.4 .1 10.4 .6-6.5 .7 6.4 .2-7.9 .1 7.9 .9-6.6 .4 8 .7-1.3 .3-11.3 1 2.5 .3 10.1 .3-11.9 .7 8.4 .7 3.5 .4-10.5 .6 .6 .1 10.1 .4-9.7 .9 6.8 .7 2.4 .2-7.5 .3 6.9 .7-9.1 .2 9.2 .6-8.2 .8 1.3 .4 5.4 .6-.3 .2-8.1 .9 12.7 .3-6.9 .8 4.5 .2-6.8 .2 13.9 .6-13.2 .6 5.3 .2-10 .6 .9 .9 9.9 .5 1.1 .5-9.3 .7 4.6 .2 4 .7-10.9 .4 11.9 .9-1.6 .1-9 .3 9.1 .7-6.4 .7-2.5 .2 7.4 .2-8.4 .6 10.2 .6-.4 .2-9.2 1.2 .1 .2 8.4 .7 1.5 .4-10.5 .2 10.6 .4-6.1 .9-3.3 .1 14.9 1.1-7.4 .2-8.1 .7 11 .3-10.7 .3 11 .8-9 .1-1.5 .8 8.6 .4-6.8 .6 4.8 .2 4.4 .5-10.3 .6-.9 .4 12.2 .9 3 .1-14.6 .7 9.5 .7-13.2 .7 10.5 .3-5.2 .9 6.6 .1-6.4 .1-2.4 .1 7.5 1 2.4 .1-10.7 1.4 .9 .2 7.7 .2-7.5 .2 12.2 1-5 .4-9.6 .8 4.6 .2 7.1 .5-2.7 .1-5.4 .8 8.8 .1-11.8 1.1 2 .3 8.8 .7-8.1 .3 5.7 1-7.9 .4 10.8 .1 .4 .2-7.3 1.3 5 .1-8.9 .6 .5 .3 12.3 .9-3.6 .2-8.6 1 1.8 .2 6.1 .3-7.6 .8 6 .1 4.1 .4-8.8 .8-2 .6 8.7 .7-9.4 .1 12.3 .8-12.3 .1 10.2 1-6.3 .3 6.1 .4 1.6 .2-11 .8-.4 .7 10.9 .1-11 .8 10 .4 1.2 .7-8.1 .6-1.2 .1 11.3 .4-11.2 .4 10.6 .6 .1 .5-8.4 1.1-2.3 .2 6.3 .3-7.6 .5 10.3 .6 2.7 .4-9.7 .5-.8 .8 7.7 .6-1.1 .1-2.6 .4-6 .6 10.9 .9-2 .4-7.5 .5 8.4 .5-6.7 .7 6.6 .3-10.5 .7 8.8 .3-8.3 .5 10 .1-12.6 .5 2.8 .8 12.4 .3-4.5 .3-8.6 .6 1.8 .5 7.4 .7 1.7 .3-9.8 .5 .8 .9 5.4 .5-4.3 .2 7.5 .6-10.1 .2 5.9 .6-6.1 .6 12.5 .4-5.7 .4-7.5 .7 10.4 .5-7.3 .6-.5 .3 8.8 1.1-10.7 .3 11.8 .2-2.1 .4-7.1 1-.2 .4 7.8 .1 .4 .5-11.4 .5 11.2 .6-9.9 .5 2.1 .8 6.5 .6 2.7 .1-9.6 .8 .4 .4 4.8 .2 3 .5-8 1.1 2 .2 6.7 .2-8.7 .5 9.4 .6-14 .3 11.3 .7 .8 .4-5.7 1-1.7 .3 7.4 .4 .5 .2-14.1 .6 13 .4-7.6 1.1-3.7 .1 10.5 .5 7.1 .7-13.9 .3-5.8 .7 11.3 1 2.1 .1-10.7 .9 14.8 .1-11.1 .1 8.5 .2-10.8 1.4 8.6 .3-7.8 .6 2.9 .3 7.1 .3-9.3 .5 7.4 1.2-7.4 .1 9.8 .1-1.6 .1-5.6 1.1-3.6 .4 11.9 .4-8.8 .4 6.6 1-.2 .5-9.2 .6 6.1 .3-7.9 .3 1.8 .1 8.3 1.4 .2 .3-7.4 .2 5.9 .7-6.3 .2 .8 .9 7.6 .2-6.2 .1 6.6 .8-.1 .1-8.1 1.3 .7 .1 6.4 1 3.7 .1-8.1 .9-5.7 .1 9.2 .8-3.8 .4 4.7 .2 5.8 .8-10.1 .2-1.9 .5 4 .5-4.5 .8 6.8 .6 1.5 .2-9.9" stroke="#000000" stroke-width="4.0"/>
<path d="M246.8 677.2l.2 24.7 .4-1.7 .1-15.7 .6 25.3 .3-16.1 .6 3.5 .5 22 .5-12 .4 18.1 .6-11.8 .1 24.9 1.3 7.4 .4-12.6 .2-3.1 .8 20.3 .3-8.8 .8 16 .2 2.1 .5-20.2 1 0 .3 26.6 .1 6.7 .6-19.9 .6 19.7 .2-13.2 .7 6.5 .8 15.4 .2 1.2 .5-23.7 .8 7.8 .1 13.7 .5 6.8 .2-17.3 1.2 17.1 .1-16.6 .7 5.3 .2 13.4 1-20.1 .2 21.3 .8-3.1 .1-11.4 .7 .9 .4 19.7 .4-2 .5-18.3 1.1 .8 .3 15 .1-19.4 .6 20.3 .8-3.1 .2-13 .4 6.7 .4 13.1 .6-20.4 .5 17.4 1-15.6 .4 10.7 .1-10.2 .4 14.9 .8-1.1 .3-17.7 .5 14.6 .6-10.8 .4-6.3 .9 20.5 .5-18.5 .2 18.9 .4-2.2 .5-17 .7-3.3 .3 25.9 1-18.9 .1 11.7 1 7.3 .3-26 .5 2 .2 17 .6 2.6 .7-17.2 .1 12.1 .1-16.1 1 18.5 .7-14.5 .2 15.6 .8-21 .2 16.9 .8-18.8 .2 14.9 .9-17.3 .1 25 .8-21.3 .8 13.2 .2-23.8 .3 19 .8-13 .2 2.6 .3 13.8 .6-1.5 .9-14.5 .2 10.6 .7-17.1 .3 2.5 .4 18.2 1-5.8 .3-16.4 .8 15.5 .2-23 .6 4.8 .4 15.4 .4-16.1 .3 20.1 1.1-5.6 .2-13.4 .4-8.3 .6 21.6 .2-2.8 .6-18.3 .9-5 .3 27.1 .7-6.7 .1-19.2 .8 12.8 .1-12.2 1.1-2.4 .3 14.2 .1-1.7 .4-15.9 .8 13.8 .4-20.4 .5 .3 .7 18.2 .2-19.5 .9 17 .2-2.8 .7-11.2 .3 9.7 .4-15.5 1-5.5 .4 14.2 .3 1.4 .2-20.3 1 18.5 .5-13.7 .2 9.3 .4-15.3 .6 12.3 .8-18.9 .2 27 .8-19.5 .2-2.7 .3 24.2 1.2-21.2 .3-8.9 .1 8.7 .2-13.1 1 9.5 .6-13.4 .2-5.6 .9 25.1 .2-8.2 .3-23.1 1.2 4.8 .3 19.7 .2-12.4 .3-19.3 .8 27.7 .2-21.8 .6 23 .9-28.5 .1 24.1 .6-25.2 .4 15.7 .1-18.5 1.3 14.6 .5-18.6 .2 17 .8-15.7 .1 13.8 .8-17 .2 12.1 .9-19.5 .1 24.4 .8-25.6 .3 15.7 .8-18.1 .3-3 .2 19.1 .8 7 .2-36.1 1.1 3.7 .4 18.3 .6-20.6 .1 17.2 1.2-21.1 .1 21.1 .2 .3 .3-30.2 .6 8.9 .2 14.7 1.6-18 .1 13 .1 1.2 .5-27 1.1 33.8 .3-29.8 .3 12.2 .3-14.3 1 21.9 .3-21.8 .3 7 .8-21.1 .5 11.7 .2-20.1 .9-9.8 .1 24.2 .6-1 .2-28.5 .8 12.3 .2-10.8 .6 17.8 .8-28 .4 15.2 .3-24.6 .5 13.4 .2-13.8 1.3-8.8 .4 23.2 .1-6.7 .2-25.3 1 15.5 .7-26.7 .2 .9 .5 18.8 .8-25.5 .1 20.7 .7-6.4 .6-31.8 .3 20.5 .3-19.9 .7 12.4 .1-15.6 .8 14.6 .9-28.1 .3 26.1 .4-30.3 .8 12.2 .1-30 .7 13.6 .3-15.5 .6 13.9 .8-18.9 .1 15.8 .6-20.2 .8 9.9 .1-22.9 1.1-3 .2 9.5 .4-6.2 .7-19.3 .2 17.8 .4-20.5 1 15.6 .4-28.8 .5 22.8 .4-33.2 .3 19.2 .5-32.1 .4 10.4 .8-15.5 .4 10.3 .3-26 .6 14.1 .3-19.3 1.2 15.5 .3-16.8 .3 15.8 .3-14.2 1.1-9 .3 9.6 .1 6.8 .8-27 .2-.9 .1 24.4 1.4-13.2 .3-25.3 .7 22.2 .4-21.2 .5 12.4 .5-22.7 .6 17.9 .4-7.2 .7 10.9 .3-32.1 .7 27.2 .3-24.5 .2 4.6 .3 17.7 .6-4.7 .8-27.5 .6-9.1 .5 34.2 .6-8.7 .1-18.8 1-12.4 .2 27.9 .4 4.6 .3-20 .7 13.5 .3-9.3 .5 11.8 .5-18 .7-16.4 .3 31.6 .5-23.3 .5 25.4 .7 .1 .2-22.4 .8 20.6 .4-27.5 .9 2.3 .3 16 .6-23.9 .1 24.5 .9-16.5 .4 21.9 .6-21.2 .1 18.2 1 2 .1-14.6 .4-3.5 .1 11.6 1-6.2 .1 13.4 1.3-7.9 .1-17.5 .4 6.3 .9 24.6 .3-21.6 .6 21.8 .3-27.1 .4 22 .5 10.8 .8-32.9 .4 5.8 .7 26.3 .3-18.9 .2 16.3 .8 2.7 .6-23.2 .2 33.2 .4-39.7 .7 37.7 .5-24.2 .4-7.9 .2 31 .9 3 .8-28.7 .2 32 .1-16.2 1.4-1.1 .2 20.6 .3 3.3 .5-25.1 .5-4 .4 25.3 .6 .7 .1-26 1 0 .4 31.5 .9-4.6 .4-29.9 .1 40.2 .1-36.9 1.3 36.5 .2-29.6 .4 30 .2-30.6 1.3 3.4 .1 29.7 .5-22.1 .4 15.9 .5-11.5 .8 15.9 .4 4.6 .3-22.9 1 4.3 .3 13 .2-13.8 .8 19.9 .7-16.8 .4 16.1 .1 14.8 .6-36.5 .6 7.6 .4 32.8 .5-3.6 .8-18.7 .5 2.6 .2 13.7 .6-6.2 .3 14.5 .7-3.3 .6-12 .3 15.2 .7-15.9 .4 16.3 .7-12.9 .2 2.5 .8 22.3 .3-1 .3-24.7 .9 9.9 .2 16.4 .6 7.7 .2-20.4 1.4 23.5 .1-26 .3 25.4 .6-21.2 1-1.3 .1 20.5 .2-12.7 .4 28.1 .5-10.2 .1-14.5 1.1 4.1 .6 26 .2-1.7 .8-23.1 .4-1.4 .7 23.7 .1-10.3 .8 19.7 .6-28.7 .4 30.5 .2-14 .8 22.2 .8-23.2 .3 24.4 .2-17.1 .7 28.7 .4-25.1 .7 28.5 .3-7.5 .3-12.4 .7-5.3 .7 29.6 .2-20.2 .5 25.6 .5-16.1 .4 18.6 .7 6.7 .3-24.7 .5 25.6 .4-19.2 1 2.1 .2 19.1 .8-19.7 .2 27.7 .8-15.5 .5 21.5 .1-26.6 .5 20.7 .6 13.7 .3-22.2 .6-.3 .2 23.2 .8-16.7 .4 22.3 1.1-18.6 .4 18.5 .1-5.6 .9 19.9 .5-18 .4 14.7 .2-4.4 .1 11.2 1.1-7 .3 18.1 .5-23.3 .9 18.6 .1-11.7 .4 28 .8-22 .6 24.5 .8 .9 .2-12.6 .8 20.2 .2-13 .2 5.5 .1 15.3 1.1-14.2 .2 14.9 .7-13.2 .7 20.4 .2-20.4 .6 24.6 .4-23.2 .5 28.4 .6-20.8 .8 17.1 .9-18.3 .1 32.5 .2-22.3 .7 19.1 .6-15.8 .2 18.6 .4 7 .4-22 .8 4.3 .3 13.7 .9-12.4 .5 20.7 .7 3.7 .2-21 .7 22.6 .4-25.5 .3 1 .6 30.2 .2-15.6 .8 21.7 .7-1.1 .3-24.1 1 23.5 .1-18.7 .3 3.4 .3 22.5 .5 .2 .6-13.6 .8 13.9 .2-18.7 .6 15.2 .2 14.7 1.1-1.5 .1-19.7 .5 5.5 .5 14.6 .5-14.6 .7 25.2 .6-15.2 .5 14.3 .2-14.7 .4 21.2 .7-22.4 .6 20.3 .2-.2 .4-6.9 1-2.8 .2 18.5 .4-13.2 .4 11.6 .6-9.2 .4 9.8 .7-7.7 .1 17.8 .8-17.1 .2 19 1.3-16.5 .4 18.7 .2 4.1 .1-18.7 1.2 4.6 .5 19 .7 2.2 .2-17 .6 3.1 .4 16.2 .6-9.7 .4 18.4 .3 1.8 .5-17.9 .5 16.8 .4-14.6 .7 20.8 .2-18.3 .7 18 .3-10.1 .7-3.4 .1 28.6 .8-17.2 .6 25.4 .5-22.2 .7 15.3 .6-20 .1 28.3 1 3.4 .4-17.7 .1 16.8 .4-13.3 1 18.4 .2-6.7 .4 2.7 .1 8.6 1-15.9 .7 23.9 .2 .3 .4-10 .6 9.7 .4-12.8 .8 2.1 .6 24.3 .2-20.1 .9 20.2 .1-12.4 .5 9 1.3-9.1 .1 22.3 .1 3.5 .6-15.1 .5-.2 .8 10.9 .1-20.2 .9 31.3 .3-17.5 .3 18.1 .7-.2 .2-13.6 1 3.7 .2 10.6 .4 9.6 .1-18.5 .9 5.6 .5 11.9 .6-3 .5-13 .6 9.1 .6 11.6 .2-9.9 .9 22.2 .2-13.1 .3 8.7 .7 2.6 .8-14.2 .3 6.6 .7 9.7 .2-16.1 .3 24.4 .6-3.8 .2-18.4 .9 6.9 .7 17.2 .3-2.2 .5-11.7 1 5.7 .3 12.6 .3-19.4 .6 21 .3-10 .3 16.1 1.2 .9 .3-13.8 .3 6.2 .3 12.9 .9-4.2 .2-10.9 .4 4.5 .9 9.5 .2-8.6 .5 14.7 .5-18.8 .3 19.9 .8-.3 .7-15.6 .5 20 .5-21.3 .6 25.1 .4-14.7 .3 2.3 .4 13.4 .5-22.4 .8 21 .6-10 .3 8.1 .7 12.9 .3-23.9 .3 16.3 .3-14.4 .7 1.9 .8 20.5 .3-14.1 .4 11.1 .6-12.2 .3 16.3 1.1 3.5 .3-14.9 .3 16.4 .4-18.7 1 24.7 .3-12 .1 15.8 .4-14.6 .6 .2 .4 15.2 .6-9.1 .8 12.6 .4-18.1 .7 14.9 .5 .9 .5-9.2 .1 15.3 .9-17.2 .5 .3 .2 22.9 .4-11.8 .9 12.1 .5-14.5 .5 12.8 .5-14.6 .1 15.1 1.3-1.2 .1-15.6 .1 9.2 .2 10.5 .9 4.6 .5-18.3 .4 20.8 .8-15.7 .2 2.2 .1 13.5 .9 3.7 .6-16.3 .9 11.9 .1-10.1 .4-1.1 .4 16.5 1-17.9 .5 16.2 .7-10.5 .3 11.6 .2 3.7 .8-17.2 .1 12.9 .4-12.4 .7-1.7 .4 16.6 .5-14.9 .5 14.3 .6-1.6 .1-12.3 .9 15.6 .3-11.9 .6 14.2 .5-14.3 .6 12.8 .1-12.5 .9 2.6 .1 9.5 1.3 5.4 .4-11.9 .5-5.3 .5 15.6 .1-3.4 .9-11.9 .1 10.6 .1-9.3 1.7 1.1 .1 15.9 .6 .7 .4-18.9 .1 7.2 .9 13.1 .6-22.8 .3 15.3 .2-14.7 .2 13.4 1.2-6.2 .2 11.4 .5-11.3 .8 14.2 .1-13.3 .2 11 1.2-1.6 .5-10 .7 17 .3-28.7 .5 23.7 .2-15.4 .8 16 .1-12.6 .5 15.6 .2-20.7 1.3 22.1 .4-21.1 .2 .2 .4 11.4 .9 5.4 .4-18.1 .6 18 .5-18.2 .3 18.9 .4-17.8 .9 14.4 .4-16.1 .3 5.2 .4 16.8 .5-4 .7-14.3 .7 12.4 .3-8.9 .8-6.2 .2 15.8 .6 4.8 .4-16.8 .8-4 .3 17.4 .2-21.8 .7 18.2 .4 2.4 .6-13.7 .7-2.4 .3 9.2 .6-6.6 .2 11.3 .8-12.8 .1 13.5 .7-22.9 .2 23.1 .7-4 .8-13.6 .1-3.8 .5 19.2 .5-17.9 .5 15.8 .7-21.2 .2 17.5 .6 1.8 .9-17.5 .6 16.2 .1-12.6 .4 .1 .6 11.5 .8 5.4 .4-17 .6-1.5 .2 9 .5 10.7 .1-28.6 1.3 19.7 .3-14.6 .8-.4 .3 12.3 .3 .2 .4-12.5 .6-1.2 .6 15.2 .2 5 .6-24.4 1.2-.2 .1 17.4 .7-12.8 .3 13.3 .1-19.1 .2 23 .9-18.3 .5 9.4 .8 3.2 .4-21.4 .6 3.3 .5 17.6 .1-4 .6-14.8 .9 24.5 .4-19.3 .3-4.9 .2 13.7 .6-21.7 .4 25.8 .8 .2 .3-16.8 .5 13.2 .8-13.4 .2-2.5 .2 14.8 1.3-7.5 .3-11 .6 2.1 .2 15 .4-12.9 .6 14.9 .4-20.7 .8 19.9 .4-5.3 .4-21 .4 7.9 .9 14.6 .2-4.3 .7-16.9 .2 14.8 .1-12.5 1.4 12.4 .4-10.5 .1 13.3 .5-18.1 1 2.4 .4 16.7 .6-4.8 .3-19.5 1 2.5 .1 25.5 .6-19.5 .4 10.1 .9-5 .1-9.2 .1 15.2 .8-18.4 .2 7 .2 8.7 1.3 1.3 .1-9.4 .5 6 .4-14.7 .6 15.5 .1-13.9 1.6 4.9 .1 11.3 .1-2 .2-12.8 .9 14.4 .8-17.1 .1 15.1 .9-11.3 .1 13.8 .9-18 .5 17 .2-16.7 .5-.8 .5 19.9 1-15.9 .3 15.8 .1 1.5 .5-17.7 .6 11.6 .4-13.1 .9 12.1 .1-12.1 .7 16.6 .4-14.7 .4-3 .1 17.3 1.3 3.4 .2-17.6 .5-4.6 .7 18.1 .3-2 .7-16.7 .6 18.4 .5-10.4 .2 7.2 .4-15.1 .5 4.7 .4 14.7 .8-2.7 .7-12.8 .1 3.6 .4 13.1 .7-10.8 .4 10.7 .6-1.4 .5-11.8 .4 19 .5-19.6 .5 12.4 .5-11 1 16.1 .3-14.3 .6 7.5 .5-13.4 .6-3.5 .3 26.7 .4-12.4 .2 15.3 1-14.1 .2 7.4 .8 7.3 .1-17.4 .6-4.3 .3 13.7 .8 7.8 .3-17.1 .7-.7 .4 16.8 .6-9.7 .2 17.1 .8-22.4 .2 14.2 1.4 1.3 .1-14.1 .7 14.7 .2-16.8 .2 7.1 .9 13.5 .1-13.6 .2 11.8 .9-1 .1-8.8 1-5.3 .4 15.5 .8-12.3 .2 12.4 .6-8.7 .4 10.8 1-7.2 .3 12.6 .1-15.5 .9 12.7 .1 6.9 .6-20.3 .4 21.8 .9-17.4 .1 11.4 .5-13.9 .6 19 .1-19 .8 22.6 .6-20.2 .9-3.8 .1 22.5 .8-13 .5 10.6 .5-13.7 .1 17 1-15 .3 11.7 .3 3.8 .7-13 .2-2.9 .2 17.1 1.4-16.2 .2 12.5 .7-9.5 .1 15.6 .5-14.9 .7 14.6 .2 2.7 .1-16.8 1.3 3.5 .4 12.2 .4 .6 .2-15.8 .6 4.1 .4 15.9 1.2-15.1 .2 13.5 .6-7.8 .2 10.1 .6-16.9 .2 15.2 .7-8.6 .5 13.6 .6-1.1 .3-14.1 .6 15.3 .4-12.4 1 17.5 .4-14.5 .2 22.4 .5-26 .5 4.2 .5 19 .6-16.7 .3 14.1 .9-14.5 .2 13.1 .9-16.7 .3 20.6 .4-15.1 .2 17.5 .8-3.3 .3-12.9 .5 4.8 .5 10.2 .9-10.5 .5 10.1 .5 5.7 .2-16.4 .6 .4 .4 19.7 1-3.6 .3-13.6 .2 2.7 .3 17.2 1.1-13.2 .4 11.3 .1-10.4 .5 13 .5-15.9 .9 18.5 .3-5.1 .4-10.5 .4-.6 .8 13.7 .8 .2 .3-6.2 .3-6.9 .7 16.7 .3 2.5 .2-18.9 .6 17.1 .5-6.6 .7-6.8 .7 16.5 .3 .8 .6-11.5 .4 1.7 .6 16.2 .2-12.2 .6 10.1 1.2-13.2 .1 16.5 .3-13.2 .3 8.9 1 3.5 .4-11.1 .5-5.1 .4 14.8 .6 6.9 .1-12 .6-7.1 .8 19.3 .1-1.4 .4-10.2 1 .2 .5 16.1 .2-16.1 .1 12.3 1.2-10 .5 15.3 .6-14.1 .4 13.7 .3-17.7 .6 21.2 .8-6.7 .3-14.1 .1 15.1 .1-7.3 1 10 .3-12.9 1.4 5.4 .1 11.2 .5-.6 .4-11.6 .2 13.6 .9-11.4 .2-1.3 .8 8.5 .2-4 .4 10.7 .5-20.5 .8 17.5 .2-14.8 .8 18.6 .4 .3 .2-6.1 1 7.1 .4-11.3 .2 .7 .9 16.7 .2-20.1 .4 21.6 .5-17.5 .9 15 .1-15.3 .6 15.3 .8-10.5 .2 9.5 .8-10.1 .5 12.8 .5-10.4 .1 8 1.1 2.4 .2-10.6 .6 .9 .4 12.2 .2-20.1 .8 20.2 1 2.8 .1-14.2 .1-1 .9 12.4 .6 4.5 .3-14.7 .4-.9 .3 13.2 .6 10 .5-20.7 1-3.4 .3 18.5 .1-17.2 .5 11.7 .9-7.5 .5 6 .9-2.9 .1 10.1 .6-2.7 .4-9.7 .1 3.7 .2 8.4 .9 .4 .5-9.5 .8 13.7 .4-16.7 .2 13.1 .4-7.6 .7 5.8 .4-5.6 .5 13.7 .6-14.5 .8 2.2 .2 5.4 .8-6.6 .5 9.1 .1-13.2 .4 16.2 .8 3.1 .3-9.7 1 9.2 .4-11.6 .1-4 .8 11.7 1 .9 .1-8.9 .6 4.9 .3 11.6 .4-.1 .7-16.7 .6-7.9 .4 26.8 .5-6.3 .1-7.7 .9 8.3 .5-14.2 .1 13.2 .2-4.7 .8-2.9 .4 12.7 1.4-16.5 .1 15.2 .3 1.9 .2-10.2 .6 10.9 .1-16.9 1 4.1 .5 9.7 1-7.8 .2 13.8 .6-11 .5 10.3 .2-9.6 .5 11.7 .8-22 .5 21.5 .1-5.6 .2-5.5 .8-2.6 .1 7.9 1-14.6 .1 12.8 1.2 10.7 .4-18.4 .3 12.5 .4-17.8 1 9.6 .3 13.9 .6-3.3 .1-17 .5-1.2 .4 18 .6-16.2 .5 12.6 1.1-9.4 .2 12.9 .4-13.9 .2 16.5 .6-7.9 .5-9.2 .6 13.8 .5-19.5 .5 21.5 .3-14.2 .7 3.1 .3 7 .6-7.5 .4 8.7 .6-8.7 .5 9 1.1 1.9 .2-10.4 .6 8 .5-11.3 .3-.4 .4 13.6 .4-.9 .6-11.8 .8 18.8 .1-13.6 .5 7 .1-24.6 1.1 22.2 .3-14.8 1 17.1 .1-11.7 .6 12.3 .4-10.8 .9-5.6 .1 14.1 .8-11.6 .4 10.9 .7 .3 .1-10.7 .8-.1 .1 10 .5-11.1 .1 22.8 .9-13.2 .4-8 .7-.7 .7 11.4 .4-.7 .7-11.7 .2-7.2 .7 19.1 .6-.1 .5-9.3 .1 8.7 .4-9.7 .8-1.2 .2 15.6 1.1-2.5 .4-16.9 .6 1.4 .3 13.2 .4-10.1 .3 10.5 .7-6.6 .4 10.7 .5-15.6 .1 15 1-2 .3-10.3 .5-11.3 .6 21.2 .5-1.1 .4-12.3 .5 9.4 .9-5.6 .3 6.3 .2-10.2 .7-2.8 .8 14.8 .3-.4 .3-10 .5 13 .8-15.5 .2 2.5 .9 7.6 .1 2 .5-12.3 .5 12.3 .4-12.5 1.4 10.7 .1-12.1 .2 13.6 .8-7.7 .1-2.1 .9 17.5 .2-9.8 .4-7.5 .7-1.3 .7 13.9 .2-.9 .1-14.3 1.4 16 .3-11.8 .1 8.1 .9-12.2 .2 2 .4 11.4 1.3-11.3 .1 15.6 .6-1 .1-14.3 .8 9.4 .1-10.2 .6 11.4 .1-8.6 1.3 13.2 .1-13.1 .9-.4 .3 7.5 .2-8 .1 16.2 1-3.3 .1-14.7 .8 10.6 .6-10.5 .8 19.5 .1-12.5 1.1 11.8 .3-15.7 .1 9.8 .2-11 1.4 3.6 .2 11.3 .2 .7 .6-14.8 .8 13.8 .5-13.7 .3 .7 .3 15.7 .7-3.5 .4-13.3 .8 4.4 .2 12.7 .5-3 .7-10.7 .7 17.9 .3-15.2 .3-3.9 .3 16.3 1.1-2.8 .1-10.4 1.2-1.7 .1 13.6 .2-.5 .7-9.5 .4 2.5 .6 6.8 .3 1.6 .7-9.5 .2 2.9 .1 8.5 1.5 .1 .2-7.9 .4-5 .6 16.2 .7-15.5 .1 16.7 .9-1.5 .1-10.7 .8-3.5 .2 15.7 .5-.4 .8-11.7 .2 13.9 .4-11.8 .5-1.7 .8 9.5 .6 2.2 .1-17.4 .5 18.8 .4-14 .8 15.8 .4-12.7 1 7.8 .3-9.6 .9 12.3 .1-12.1 .6 1.8 .4 18.7 .6-7.9 .4-13.3 .1 16.1 .5-11.5 1 1.7 .3 10.8 .2-8 .2 11.2 1.2-12.8 .1 12.6 1.1-12.9 .2 12.2 .8-11.9 .2 8.5 .8-6.5 .3 9.3 .3 1.5 .2-7.6 .7-4 .3 14.8 1.1 .7 .1-12.3 .6 9.2 .7-13.3 .2 2.7 .5 9.9 .5 9.7 .8-15.4 .3 11.5 .2-16.7 1.2 7.3 .3 7.5 .3 6.2 .6-17.8 .4 16.1 .3-12.5 .7 1.9 .2 9.3 .6-8.4 .4 17.5 .7-21.1 .3 7.4 1-6.3 .2 9.4 .6-6.9 .6 9.6 .6-12.8 .1 15.9 1-7.9 .4 8.3 .2-1 .7-11.1 .3 14.8 .7-13.9 .2 5.4 .8 7.6 .6 3 .5-10.6 .5 .9 .5 11.1 .2-1.6 .3-15.6 .7 17.3 .5-9.8 .6-3.7 .7 10.9 .6 7.5 .1-14.3 .9 7.5 .3-6.7 .7-2.6 .4 11.8 .1-11.7 .5 14.9 1-2.1 .3-9.3 .2 13.1 .4-16.5 .8 14.8 .3-12 .9-1.5 .5 15.9 .3 .7 .4-10.7 .9 8.8 .1-10.5 .4 13.7 .1-11.5 .9-3.2 .2 10.4 .9 1.3 .1-8.2 .8 11.3 .2-10.8 1.2 1.5 .4 16.3 .8-4.8 .3-9.9 .3 13.2 .4-15.9 .4 3.5 .4 13 1-16.6 .2 12.3 .4-.8 .5-13.4 .5 1.5 .5 18.2 .5-4.3 .2-9 1-1.2 .7 14.3 .1 .6 .9-15.6 .2 18.3 .5-9.9 1 8.5 .3-14.2 .1 14.5 .8-11.4 .6 0 .4 7.1 .3 5.1 .1-11.6 1.2 11.7 .1-10.5 .5-1.1 .2 9.7 1.2-15.7 .5 15.4 .3 3.1 .4-9.9 .4 11.3 .1-11.9 1 6.4 .7 6.7 .4-10.2 .3 11.3 .5-11.9 .9 14.5 .5-11.1 .4 11.1 .3-2.1 .5-9.2 .6 .9 .6 12.2 .2-1.6 .4-11.6 .8 1.2 .4 7.4 .8-12.1 .1 12.9 .9 3 .1-11.6 .9 8.4 .5-6.3 .5 13 .4-14.1 .2-.2 .5 11.5 .5 2.9 .5-6.1 .7-6.9 .7 10.4 .1 1.2 .5-10.6 .7 1.1 .7 16.7 .5-4.6 .1-9.9 1.1-1.1 .3 9.3 .5-11.6 .2 14.9 .5-2.1 .5-11.5 .9 12.3 .3-8.7 .4 2.3 .7 5.7 .1-14.1 .4 12.5 .6-3.3 .8 4.9 .4 5.7 .6-12 .8 .3 .2 10.8 .6 .6 .2-10.2 .6 .8 .4 9.7 .4-12 .8 13.9 .4-.6 .4-12.5 .5 .9 .5 13.5 1 0 .2-14.6 .4-2 .7 22.1 .5-17.4 .2 12.4 .6-8.2 .3 9.1 1.1-9.9 .2 7.7 .6 3.4 .4-12.8 .7 10.5 .3-9.4 .2-1 .1 14.2 1.5-1.9 .3-7.6 .1 5.9 .2-6.3 .9 13.3 .8-12.9 .2 10.2 .5-12.6 .6 11.6 .6-7.8 .4-.8 .6 9.9 .3 2.5 .8-14.5 .6 11.1 .3-13.2 .7 5 .4 7.7 .2 1.8 .5-6.8 .5-9.6 .4 17.2 .6 2.1 .8-14.9 .5 14.7 .5-9.5 .7-5.5 .2 12.3 .6-2 .1-4.9 .9 7.9 .4-9.2 .4 12.4 .2-14.5 .6 .4 .6 14.6 .4-2.8 .1-6.6 1.3 8 .1-10.7 .6 1.2 .8 9.4 .1-13 .6 15.7 .5-4.7 .7-9.5 .4 14.2 .3-11.4 .6 14.5 .7-13.6 .2 16.8 .5-15.7 .5-1.5 .6 10.3 .4 1.6 .2-7.1 1.6 6.1 .1-9.8 .6 9.6 .1-8.8 .4-2.4 .2 13.2 1 1.2 .4-7.6 .4 5.9 .5-11.8 .5 12.6 .8-6 .7 3.9 .3-8.1 .7 2.7 .4 8.5 .7 2.8 .3-10.9 .2 11.3 .4-14.4 1 1.6 .4 10.5 .6 .9 .4-8.8 .5 1.8 .4 5.6 .6 .7 .1-8.6 1 0 .3 8.6 .3-10.3 .7 15 .8-16.3 .3 12.3 .6-8.7 .1 9.8 .4-9.2 .6 8.3 .4 1.7 .2-10.7 1.4 8.8 .3-5.8 .7 8.8 .3-12.5 .3 12.5 .7-8.2 .2 .1 .4 12 1.1-15.4 .3 11.2 .2 2.9 .8-7.8 .3 9.8 .2-12.5 1 14.2 .1-13.1 .7 8.1 .7-8.6 .9-6.9 .1 13.7 .1 6.2 .6-11.2 .4 5.5 .2-8.2 1-.2 .2 11.2 .7-6.8 .3 5.5 .7-.4 .1-6.3 1-1.5 .4 12.9 .8-9.9 .4 11 .7-12.2 .1 8.6 .4 4.1 .4-9 .6 3.1 .9-5 .1 5.2 .9-6.9 .3 .6 .4 11.5 .5-8.9 .3 6.2 .8 1.2 .2-9.9 .6 8 .2-6.1 .9-.7 .3 6.9 .6-8 .8 10 .6-7.7 .4 8.9 .6-10.5 .2 15.5 .4-7.9 .1-4.9 1 7.7 .4-10.6 .6 11 .7-8.8 .8 6.5 .2-9 .4-1.2 .4 10 1 2.1 .3-6.7 .5 7.6 .5-8.9 .3 11.7 .4-11.7 .5-1 .3 9.2 1 4.2 .4-12.9 .8 10.7 .3-14.8 .5 3.8 .4 10.6 .2-8.4 .2 7.2 .8-.4 .2-5.4 1-5.5 .4 7.8 .6-6.3 .3 13 .7 2.1 .6-12.9 .6-1.7 .1 11.8 1.3-5.2 .1-9.7 .2 4.7 .1 4.2 1-3.6 .6 7.4 .7-7.4 .3 9.8 .4-11.5 .3 10.2 .5 1.4 .8-8.5 .8 5.7 .2-5.6 .6-6.6 .4 12.1 .2-15.5 .5 22 1-3 .3-12.1 .6 10.2 .5-7.3 .2 8.3 .3-6.6 .7 4.5 .8-5.2 .1 9.7 .8-7.1 .2-5.8 .9 12.1 .5 1.4 .5-10.8 .1 11.4 .1-10.7 .9 11.2 .4-12.4 1.1 2.1 .3 8.9 .2-6.8 .8 6.1 .4-10.3 .7 11.8 .2-2.8 .5-7.2 1 9 .2-5.4 .4-7.8 .3 11.8 .6 3.5 .3-8.7 1 4.3 .4-10.9 .3 4.2 .7 5.9 .3-.8 .8 6.5 .2-2.1 .1-12.3 .8 5.6 .4 6.6 1.1 .8 .3-8.6 .3 9.4 .8-10.5 .3 1 .6 6.8 .2-6.9 .5 11.8 .6 .3 .5-9.8 .8-3.7 .4 15.5 .4-8.1 .2-7.4 .6 12.3 .2-9.9 .9-4.9 .4 12.5 1.1-8 .3 7.1 .1-8.6 .4 10.5 .6 .3 .6-10.2 .6 1.9 .7 9.3 .3-9.1 .2 7.1 1-8 .5 11.2 .1-8.4 .2 7.8 .9 3.2 .3-11.5 .7 10.4 .7-8.2 .7-2.4 .3 11.3 .8-12.7 .2 13.9 .4 .6 .4-16.7 .4 14.4 .4-9.9 1.1 8 .4-7.6 .2 7.7 .7-13.1 .2 4.5 .9 7.7 .3-.1 .2-8.2 .6 13.9 .8-14.1 .2 9.7 .9-8 .3 6.6 .2-5.1 .6 1.9 .2 3.8 1 3.4 .2-9.4 1 7.1 .2-7.4 .6-1.4 .6 10.9 .3 .6 .8-8.3 .2-2.2 .8 8.8 .2-9.7 .8 10.3 .6-.2 .3-10.3 .3 18.6 .1-17.5 1 .6 .6 13.7 .3-14.2 .1 11.7 1-.4 .4-9.9 .9 9.1 .3-8.1 .6-1.3 .4 9.1 .3-6.3 .7 10 .4-3.7 .6-5.6 .7-4.7 .3 8.3 .3-6.3 .8 10.8 .1-1.9 .2-5.5 .8-7.9 .1 10.1 .9 6.9 .4-11.7 1.1 6.4 .4-9 .5 6.2 .4 4.9 .4 .8 .3-10 .5 10.6 .8-11 .6 1.4 .2 8.1 .6-7.6 .4 8.2 .9-6 .1 8.5 .5 3.8 .8-15.5 .1-2.7 .1 12.5 1.4-9.9 .3 11.3 .4-10.4 .6 8.9 1 1.1 .1-8.6 .1 10.6 .1-12.9 1.7 9.8 .1-4 .5-1.2 .1 6.7 .5-9.2 .9 12.6 .3-11.5 .6 7.5 .3-9.9 .3 10.5 .7-6.6 .8 8 .2-11.2 .8 12.3 .9-2.2 .1-9 .7-2.1 .2 9.5 .4 2 .6-7.1 .3 .9 .5 9.3 .5-9.3 .1 5.1 .9 1.3 .1-9.4 1-.6 .2 9.8 .7 .7 .1-6.6 1-1.2 .7 8.9 .1-7.1 .9 5.8 .1 1.6 .5-11.7 .6 1.5 .8 12.2 .1-11.8 .1 11.5 1-3.9 .7-6 .8-2 .3 10.4 .2 4 .7-11.5 .2 8 .8-10 .4 12.8 .3-13.3 .6-.6 .4 10.8 .6-9.6 .3 11.6 1-2.8 .1-7.3 .9 7.5 .2-7.4 .6-.6 .4 10 .8-8.5 .5 4.4 .3-9.2 .4 10.6 .5-10.7 .4 13.2 .5 1 .6-13.6 .5 5.8 .4 9.4 .5-5.3 .1-6.8 1-.2 .4 8.3 .9-7.4 .4 7.5 .4-.8 .2-9.1 .8 9.3 .2-7.4 .8 9.5 .3-5.7 1-4.1 .3 11.1 .8-11.2 .3 10 .1 .7 .2-7.1 .8 .6 .6 6.1 .8 2.4 .1-10.5 .6-3.3 .1 12.2 1-8 .6 4 .3 2.8 .7-9.5 .2 8 .5-5.9 .7-.8 .3 12.3 .5-4.8 .6-8.3 .8 .7 .5 11.1 .5-10.3 .1 8.2 .9-8.8 .5 11.2 .6-3.4 .1-6.7 .6 .4 .7 7.5 .1 .4 .4-8 1.2 10 .2-8.6 .4 9.2 .7-12.4 .9 .9 .1 10.7 .7-1.7 .3-8.6 .1 1 .1 6.2 1.4-9.2 .4 12.5 .3-9.4 .4 6.6 .4 3.4 .6-8.8 .5-1.6 .8 7.6 .2-5.4 .5 9.4 .4-2 .5-9.6 .5 1.5 .6 7.6 .6 2.1 .2-10.1 .8 7.4 .6-15.9 .4 16.6 .7-3.2 .2 1.8 .8-4.1 .3-2.8 .4 6.7 .5-6 .4 10.2 1.1-3.4 .2-9.9 .2 3.4 .2 9 1-6.9 .3 4.9 .5-7.5 .5 6.3 1 2.1 .3-8.8 .2 10.9 .6-10.2 .8 2.7 .4 6.1 .2-7.8 .8 9.5 .2-2.8 .2-10.8 .8 3.2 .8 8.5 .8 .6 .3-9.8 .6 10.7 .1-9.1 .4 7.3 .1-6.8 1.3 8.5 .5-9.2 .5 8.6 .5-8.2 .1 11.6 .8-14.2 .6 4.6 .1 5.4 .5-5.2 .9 8.5 .6-4.3 .3-7.8 .6 .3 .2 11 .4-.1 .5-7.9 .9-.9 .2 9.6 .6-15.3 .6 11.8 .3-.4 .1-4.9 1.6 10.2 .1-11.1 .3-3.7 .2 12.6 .8 1.7 .7-9.5 .2-1.9 .8 10.6 .5-9.4 .1 8.2 .7-13 .2 10.1 .6-7.4 .1 8.9 1.5-8.2 .3 10.3 .1-11.9 .2 7.4 1.2-5.5 .4 9.5 .6-8.2 .2 8.9 .8-6.5 .5 5.2 .7-10.8 .3 14.6 .3-4.4 .4-8.9 .8 12.3 .4-6.8 .3-2.6 .7 10.1 .4-9.5 .7 7.7 .9-11.3 .1 11.1 .9-11.6 .1 9.5 .6 2.6 .4-10.5 .1 10.8 .6-9.2 .4 0 .4 7.8 .6 1.6 .1-14.7 1 6.6 .3 8.7 1.1-10.2 .1 7.7 1.2-5.3 .1 6.2 .9 2.1 .1-11.7 .6 .3 .3 9.7 .4-14.4 .3 15.5 .9-.6 .2-10.2 .5 2.5 .5 9.2 .6-.9 .7-9.3 .3-.3 .6 7.5 .3 1.1 .7-9.9 .7 3.2 .3 6.9 .3-4.6 .8 7.1 .2-8.2 .1 4.1 1 1.8 .7-6.3 .3 3.2 .3-6.3 .7 10 .4-7.9 .4 8.3 .8-11.6 .7 .2 .1 12.4 .8-10.6 .5 6.8 .3-7.2 .6 9.3 .7-5.9 .1 7.6 .9 .1 .4-5.3 .5 6.6 .5-15.3 .7 1.9 .2 11.3 .3 1.6 .1-11.4 .8 1.6 .8 6.1 .4 1.7 .3-7.4 .5 0 .4 7.3 .6 5 .6-14.6 .4-3.2 .4 14.4 1.2-12.4 .3 13.4 .2-13.5 .3 12.8 .8-3.1 .3-8 .5 8.8 .5-10.9 .7 13.5 .2-9.5 .7 12.5 .4-13.3 .5 .8 .4 11.1 .7-2 .5-11.8 .8 10.3 .2-4 .5 7.2 .7-10.6 .3 5.1 .3-6.7 .8 7.4 .2-7.3 .6 8 .5-9.1 .5 1.6 .8 6.6 .2-5.7 .4 9 1.1 1.3 .4-10 .1 1.8 .5 7.3 .9-8.8 .2 6 .5-6.5 .4 10.3 .6-15.2 .4 11.6 .6-5.3 .5 6.8 .4 1.4 .9-8.4 .1 11.1 .4-14.8 .6 14.4 .9-8.5 .5-1.6 .4 10.1 .3-13.3 .3 7.4 .6 1 .6-4.8 .8-2.9 .4 8.2 .2-7.3 .8 8.8 .2 .4 .4-8.7 .6-.7 .5 5.4 .5-7.3 .8 11.7 .2-11.7 .5 10.1 1.1-10.1 .3 13.8 .2-12.6 .7 10.3 .2-1 .2-10.8 1.2 3.4 .2 8.9 .4 3 .2-13.7 1.2 9.6 .5-9.6 .3 5 .6 5.1 .6 .5 .5-9.9 .1-.6 .2 9.9 1.6 3.7 .1-11 .6 10 .3-12.3 .6 1.1 .5 8.7 .2-6.6 .5 6.1 .4-9.8 .5 12.4 .7-7.4 .6 5.5 .6-10.4 .5 11.1 .7-9.1 .3 7.7 .9 3.7 .1-10.4 .5 7.6 .5-7.4 .1 7.5 .5-13.6 .9 3.1 .5 8.9 .7-5.9 .2 9.8 .3-9.8 .8 8.4 .1-8.6 .5 9 .5-11.6 .8 9.9 .2-11.5 .6 12.3 .5 .3 .1-12.7 1 2.7 .2 6.9 .7 6.5 .5-10.6 .4 7 .6-8.1 .4 1.3 .8 9.3 .7-14 .1 13.8 .8-2.8 .1-8.4 1-3.7 .1 10.1 .5 2.4 .3-9.5 .6 .9 .6 14.8 .8-14.8 .2 9.7 .4 .6 .1-9.8 1.3 12 .5-10.9 .7 8.7 .3-13.4 .1 4.1 .5 8 .7-1.9 .2-7.5 1-2.9 .1 11.8 .7-.9 .7-7.1 .2 7.4 .3-5.6 1-.2 .1 8.7 .6 1.5 .4-13.2 1.3 4.6 .1 9 .3-12.7 .7 10.1 .5-8.8 .2 9.6 .8-11.3 .4 8.8 .6-4.9 .1 7.7 1-12.7 .1 12 1.2-5 .1-8.3 .6 12.1 .4-10.5 .2 2.8 .7 7.4 .6-7.3 .4 9.9 .8-1.6 .3-8.4 .3 12.6 .4-13.8 .6 .8 .3 6.3 1.1-7.1 .2 8.3 .4 0 .6-6.4 .2 .6 .9 4.4 .1-4.8 .8 10.5 .2-2.8 .9-8.5 .1 8.2 .5-9.2 .5 10.3 .8-7.8 .2 .5 .2 7.6 .8-1.3 .5-7.4 .5-1.8 .4 10.9 1.4-11.4 .1 10 .1 .7 .9-11.5 .1 12.4 .2-8.3 .9-.2 .3 8.5 .8 .6 .3-7.6 1-1.7 .1 8.6 .5-10.2 .8 8 .6 1.6 .3-12 .3 10.8 .7-7.1 .3 8.1 .8-9.6 .1-1.5 .5 9.3 .7-.2 .3-10.5 .7 3.7 .3 6.7 .6-8.7 .7 9.9 .3-5.5 .1 5.4 .8 .5 .6-7.5 .9-1.3 .3 8.4 .4 .3 .6-7.1 .6-3.2 .4 11.5 .6-10.4 .4 10.3 .3-9.6 .5 7.1 .5-10.1 .8 10.6 .6 4.3 .1-11.8 .4 9.8 .6-8.7 .4-3 .4 8.6 1-7 .4 7 .2 5.4 .4-15.5 .6 15 .4-8.9 .7-1.8 .5 8.3 .6-2.6 .6-7.3 .7 3.3 .3 8.3 .6-10.4 .4 7.1 1-7.4 .1 8.9 .1-7.9 .5 10.1 .6-11.1 .5 8.2 .8-10 .5 9.9 .6-.4 .1-7.4 .6 9.9 .6-7.2 .4 7.2 .2-11.8 .8 3.6 .2 4.5 1.1-6.2 .1 7.6 .4 1.5 .6-8.5 .6 .9 .6 5.6 .8 3.3 .2-12.6 .6 2.8 .4 6 .7 2.4 .4-13.8 .1 4.6 .6 7 .5-6.3 .1 8.6 .8-4.9 .6 4.2 .6 .3 .3-10.2 .7 11.2 .2-5.9 .6-4.7 .5 11.8 .5-3.6 .6-7.1 .5 .1 .3 9.1 .6-10 .6 10.3 .6-.9 .3-13 .7 12.4 .7-7 .3 7 .6-9.7 .2 3 .1 6.3 .9-5.1 .4 5.9 .6 .9 .6-7.9 .4 8.3 .4-8.7 .7 4.3 .8-7.2 .1 10 .9-9.4 .2 11.4 .1-10.2 .9 2.1 .1 5.3 .9-7.2 .4 9.3 .9 .8 .5-10.4 .5 9.5 .1-8.9 .5 8.9 .5-8.3 .6-.7 .8 9.8 .1-6.7 .8 9.3 .2-4.7 .9-5.5 .1 6.2 .8-10.8 .8 12.1 .3-7.4 .1 8.4 .2-12 1.4 2 .2 7.1 .2 .9 .1-9.9 1 2.8 .8 6.1 .2 1.3 .1-8 .9 9.6 .8-10.2 .3 7.6 .4-6.9 .4 1.5 .8 7.7 .7 1.1 .4-13.3 .2 9.6 .7-8.8 .4 2.5 .2 7.6 .7-8.2 .3 9.6 1.4-4.8 .1-3.9 .7 10 .3-8.2 .1 1.2 .2-4.7 .8 1.2 .8 7.2 .4-.2 .2-6.6 .7-.4 .3 5.5 .6-6.8 .2 10.9 1.4-12.6 .3 9.6 .1 2.2 .5-9 .6-.3 .8 8.2 .7 .5 .3-11.2 .6-.6 .4 13.4 .5 1.2 .5-11.5 .6 2.3 .3 7.7 .4 1.3 .4-12.6 .9 8.8 .1-7.2 .4 7.1 .6-8.1 .6 8.2 .6-8.9 .2 10.6 .8-8.1 .8-1.9 .2 9.4 .7-10.5 .3 8.3 .4 4.9 .3-9.1 .5 7.4 .4-6.2 .6-1.3 .8 6.4 .6-6.7 .5 6.3 .1-7.3 .9 10 .2-12 .4 9.8 .7-7.3 .3 6.6 1.1 .5 .2-9.2 .6 9 .4-8.5 .2 1.3 .1 8.1 .9-1.8 .6-3.2 .5 4.4 .1-9.7 .8 10.3 .1-7.2 1.4 7.3 .4-10.8 .3 12.2 .4-11.2 .4 4.4 .1 6.2 1 .9 .4-12.3 1 9.7 .3-10.4 .2 .4 .8 15.1 .4-4 .2-9.7 .8 1.7 .4 11.6 .4-11.7 .2 7.4 .8-9.3 .5 12.3 .5-13.5 .5 8.9 .5-11.2 .5 10.5 .7 4.6 .3-10.5 .6 .5 .1 10 .8 .2 .4-14.3 .6 6 .9 7.1 .1-.1 .8-8.9 .6-.8 .4 11 .7 .6 .3-10 .4-3.7 .7 13.4 .7-11.9 .2 8.7 .7 3 .4-8.4 .1-2.1 .1 7.3 1.3-8.8 .5 9.7 .3-4.5 .6 4.6 .7-11.6 .3 12.5 .7 .1 .4-7.5 .2-1.7 .3 5.7 1-6.1 .1 12.1 .7-12.3 .4 6.2 .5 5.8 .3-9.2 .8-.1 .6 5.6 .3 .2 .5-10.1 .4 1.3 .6 11.5 1-4.5 .2-5.7 .4-1.7 .6 9.1 .6-10 .2 11.7 .8-11.5 .4 10.5 .4 2.7 .7-13.5 .2 11.7 .7-10.2 .4 10.7 .6-11.5 .4 9.6 .3-7.1 .6 6.1 .5-8.6 .8 9.9 .4-8.2 .7-5.9 .3 13.4 .2-.5 .1-6.5 .9 6.1 .1-5.7 1.4 8.1 .1-5.5 .9-1.9 .3 10.4 .2-1.7 .5-7.7 .7 10.4 .7-15.3 .7 2.7 .2 5.4 .3 1.9 .7-10.4 .2 13.8 .6-14 .6 4.1 .2 4.5 1.1 .3 .3-9.1 .2 11.4 .1-9.1 1.3 .5 .5 9.5 .3-12.1 .7 11.2 .6 1.7 .1-6 .4-1.8 .5 7.2 .9-9.1 .4 8.6 .2-1.7 .9-8 .6 1.5 .1 6.5 .5 2.8 .7-14.5 .7 13.3 .1-9.8 .8 1.8 .1 7.3 .9 .6 .2-10.6 .4 11.9 .4-6.7 1 9.9 .5-17.8 .1 14.8 .5-10.6 .5 7.5 .5-4.8 .5 0 .2 7.4 .8 2.1 .1-10.1 .9 .5 .1 4.8 1.1 1.6 .6-7.2 .6-1.4 .2 9.7 .4-4.5 .2-6.6 .8 10.6 .8-10.1 .4 8.7 .3-6.1 .5 6.9 .2-7.4 1.3-3.7 .4 12.2 .3-.4 .3-10.4 .5 9.7 .5-9.4 .7 8.7 .2-8 .8 9 .6-10.4 .3 9.1 .1-5.5 .8 2 .9-5.9 .3 9.6 .7-8.4 .3 .6 .3 8.6 1.1 2.9 .2-8.2 .7-2.9 .4 10.3 .1-7.6 .5 9.3 .6-1.6 .4-12.2 .5-.6 .4 9.6 .8 4.3 .3-13 1.1 12 .3-9.1 .1-.2 .8 5.7 .2-4.6 .6 7.6 .8-9.5 .4 9.5 .3-13.4 .5 9 .5 2.6 .1-10 1.3 11.5 .3-8.4 .7 6.7 .3-5.4 1 5.8 .1-9.2 .1-.5 .6 7 .4 .6 .9-5.3 .7-2.2 .2 10.6 .6-9.4 .2 7.8 .9 1.1 .4-8.5 .2 9.3 .7-10 .6-.2 .2 5.5 .4 5.8 .4-9.9 .6 10.4 .4-12.1 .6 9.9 .6-8.4 .6 3.8 .6 6.3 .4-5.9 .2 4.5 1.1-9 .3 9.1 .3-8.7 .7 10.7 .6-12.1 .2 9.4 .4-1 .4-5.3 1.1 2.2 .1-5.6 .8 1.3 .4 8 .7 .1 .4-11.5 .1 17.6 .4-12.5 .8 7.3 .6-7.8 .3-2.5 .5 8.4 .8-.6 .4-4.8 .4 1 .2 7.9 .6-12.6 .8 10.4 .7-.6 .4-8.3 .1 8.8 .1-11.8 1 7.5 .7 7.7 .2-11.1 .8 7.6 .2-.1 .5-5.8 1.1 6.4 .2-11 .2 12.1 .6-13.6 .4 13.7 .8-7.9 .7-2.9 .1 10.8 .8-10.4 .2 10.2 .5-.5 .5-8.5 .9 8 .1-10.3 .9 2.7 .4 7.6 .3-.3 .4-10.7 .9 5.5 .1 8.3 .5-4.1 .3-11.3 .7-.3 .4 14.7 1.1-1.8 .2-9.5 .4 2.2 .2 6.3 1.2-5.1 .2 6.9 .8-8.1 .2 7 .3-7.5 .8 6.7 .6 1.8 .1-8.2 .4 .6 .9 9.2 .3-10.5 .4 10.2 .4-10.4 .2 10.3 1.6-1.4 .1-10 .1 2.5 .4 5.2 .6 2.6 .4-13 .7 3.9 .7 6.8 .4 3.7 .6-11.5 .2 2 .5 6.6 .6 5.1 .7-10.2 .2-2.9 .8 8.6 .4-9.4 .7 7.8 .2-9.9 .8 9.3 .3-.2 .6-5.4 .3-1.4 .1 10.9 .8-11.7 .2 11.2 .8-.5 .1-10 1.1 2.2 .2 8.8 1 .8 .1-12.4 .5 10.7 .2-8.7 .8 .2 .6 12.2 .6-14.1 .6 12.5 .4-4.4 .2-5 .7 9.5 .5-11 .8 8.3 .4-9.1 .4 1.1 .4 10.6 .4-8.2 .8 8.6 .2-1.3 .4-11.5 1 2.7 .5 6 .2-7.4 .3 8.6 1 1.7 .2-10.7 .6 7.9 .2-7 .6-4 .8 12.3 .2-12.1 .6 15.4 .5-1.5 .1-6.9 .8 8.1 .6-9.8 .8 5.1 .4-6.9 .5 10.8 .1-14.7" stroke="#ff0000" stroke-width="4.0"/>
<path d="M246.8 713.8l.1-20.2 .1-4.8 .1 26.2 1-13.5 .8 16.5 .5-16.2 .5 27.5 .1-1.7 .9-20.2 .7 7.8 .2 20.2 .2-11.8 .1 8.9 1-3.7 .5 22.4 .8 0 .4-17.6 .2 4.7 .6 15.4 .4 6.8 .2-16.1 .8 21.2 .2-13.4 .8-4 .5 17 .6-8.5 .8 14.9 .2 9 .8-18.4 .3 2.3 .3 16 .5-11.9 .9 15.2 .2-17 .4 19.8 .5-25.6 .2 27.9 .9-19.8 .7 19.5 .4-20.6 .6 23.4 .7-1.8 .4-23.8 .3 1.9 .3 20.8 .9-2.1 .4-18.6 .4 9.9 .3 9.2 .5-11.6 .2 14.7 .9-22.7 .3 25 .7-4.5 .5-15.6 .5 1.8 .1 16.7 .9-5.8 .8-11.4 .2 16.9 .7-16.7 .4 1.4 .4 13.6 .4-6.4 .5 10 1.1-4.8 .2-9.9 .6-4.4 .4 19.8 .3 .2 .1-22.8 .8 23.1 .9-17.3 .3-3.8 .7 8.9 .6 3.8 .3-18.3 .8 20.4 .2-18.3 .4 11.9 .6-14.5 .3 2.1 .1 15.1 1.2-23.2 .2 20.9 .4-3.1 .5-8.7 .5 13.2 .2-19.3 .8 26.5 .4-24.9 .7 13.6 .5-12 .8 9.6 .5-13.1 .5-5.1 .1 23.3 .9-20.7 .5 9.4 .5 3.2 .2-16.9 .5-8.2 .4 20.3 .7-3.5 .7-11.4 .1 18.6 .1-19.7 1.1 .6 .7 13.3 .7-7.4 .2-23.9 .2 21.9 .6-12.8 .5-2.8 .4 14.1 .7-15.2 .3 15.2 .6-19.8 .1 20.6 1.3-25.2 .3 21.6 .2-23.7 .8 20.6 .3-4.9 .4-18.5 .5 23.5 .8-26.6 .3 15.3 .5-19 .4 .8 .6 14.8 .6-4 .6-14.8 .2-5.4 .2 17.8 1.2-17.6 .5 18.9 .7-7.6 .2-9.9 .7-8 .4 13.4 .3 7.6 .6-27.6 .3 3.9 .4 11.1 .6 2.6 .7-20.2 .3 11.1 .7-10.2 .2 8.2 .9-14.3 .9-10.4 .1 24.9 .5-1.3 .2-23.7 .8 .6 .5 18 .3-12.6 .2-17.1 .8 2 .6 17.3 .2 3.5 .9-27.2 .3 17.7 .3-16.5 .6 14.3 .8-20.7 .2-5.8 .5 24.8 .8-5.2 .2-12.9 .5 12.4 .7-20.2 .8 18.1 .2-17.8 .4-5.7 .4 13.9 .6-8.4 .7 10.9 .5-2.8 .4-22.9 .6 2.8 .5 20.5 .1-24.5 .4 15.2 .6-12.9 .4 16.3 .6-14.7 .9-11.6 .2-4.5 .1 19.6 .8 .2 .9-19.3 .1 12 .8-13.8 .6 8.8 .1-13.7 .6-15.9 .3 23.2 1-4.6 .5-20.5 .7 25.1 .2-25.6 .2 20.1 .4-25.2 1.4-8.8 .1 14.2 .1-6.9 .5-22.1 1.1 23.3 .3-23.3 .1 12 .5-18.1 .9 4.2 .2-17.6 .5 17.6 .8-33.4 .6 3.4 .4 8.8 .2-5.9 .1-17.3 1.2 14.2 .1-25.1 .7-10.7 .6 26.2 .2-3.1 .8-31.5 .6 25.4 .2-14.6 .4 .7 .8-11.1 .6 9.2 .5-16.8 .3-3.9 .6 13.9 .2-23.7 .2 9.6 .8-2.7 .9-16.2 .2-.1 .1 26.3 1.2-35.5 .4 21.3 .3-.7 .8-28.6 .3 22.4 .7-24.4 .5 8.6 .1-12.7 .5 13.4 .5-22.7 .7 7 .6-35.2 .2 26.1 .2-33.3 1.2 23.3 .4-22.2 .8 9.2 .2-19.3 .3 .5 .3 16.2 .7-4 .5-21.3 .4 12.2 .5-25.1 .6-4.6 .1 22.1 1-5.9 .3-24.3 .5 13.1 .8-25.9 .7 18.4 .3-22.3 .7 14.8 .1-21 .8-4.4 .1 21.5 .7-16.8 .3-11.9 .9-11 .1 16.4 .5-4.4 .2-27.6 1 29.1 .7-28.4 .3-8.1 .7 25.6 .5-7.5 .5-22 .1 15.6 .9-19 .1-15.7 .4 34.5 1.2-4.8 .3-20.7 .9 17.9 .1-25.7 .2 18.1 .8-25.4 .7 22.7 .3-26.2 .7 7.4 .2 15.5 .3-32.8 .7 26.3 .3-23.6 .1 21.7 1.4-14.9 .3 31.1 .7-42.1 .2 24.1 .4-27.1 .2 33.6 .8-25.6 .2 28.6 .7-10.1 .7-18.5 .2 3.8 .9 17.1 .1-21.9 .4 21.9 1-22.6 .5 22.7 .1-27.5 .2 27.8 1.2-28.2 .4 24.1 .3-25.8 .1 33.1 1-31.3 .3 28.9 .7 8.7 .7-29.9 .1 25.7 .6-38.7 .6 27.3 .4-39.1 .8 43.1 .5-19.6 .5-8.4 .4 27.4 .4-1.9 .2-26.2 1 2.2 .1 26 .7-8 .2-12.3 1-8.7 .4 41.2 .2-39.5 .2 36.9 1.4-10.3 .2-20.6 .4 20.4 .4-20.7 .8 19.9 .2-8 .8 3.3 .1-14.6 .9 24.6 .2-33.4 .8 33.1 .1-14.4 1.1-4.8 .2 18.8 .2-17.6 .2 20.6 1.4-19.6 .3 42.9 .3-42.6 .4 23.3 .8 .7 .4-27 .4 8.7 .3 31 .5-32.3 .9 29.1 .1-21.5 .2 20.6 .9-11.4 .8 22.2 .9-19.4 .1 15.7 .2-2.5 .8-15 .5-10 .2 34.5 .6-21.1 .4 25.5 .6-28.6 .7 22.5 .3 14 .6-23 .7 15.3 .3-12 .3 1.1 .7 14.4 .8-9.1 .2 17.8 .3 2.5 .5-23.4 .6 28.7 .7-14.3 .3 26.3 .2-22.5 .7 21.4 .8-22 .1 .5 .9 19.6 .2 1.1 .3-19.5 1.1 31.1 .4-14.3 .5-1 .2 27.6 .5-35 .5 29.1 .4-12.6 .6 16.9 .5-12.3 .1 14.8 .8-22 .5 30.9 .5-5.7 .6-18.3 .6 7.1 .6 25.2 .4-23.9 .7 25.8 .3 3.3 .7-25.9 .1 24.9 .6-26.8 .9 11 .3 17.7 .4-10.5 .7 23.3 .1-22.6 .2 14.4 1.2-18 .1 20 .7-20.2 .2 25 1-5.6 .5 13.5 .7 6.8 .3-22.5 .9 6.3 .1 30.3 .7-18.4 .2 18.7 .4-23.3 .3 33.1 .5-24 .1 20.5 1-9 .8 28.9 .1-37.9 .1 42.2 1.3-6.4 .1-15.9 .7 20.4 .7-22.8 .2-2.6 .4 23.9 .9 9.9 .4-17.7 .8-1.1 .3 19.7 .1-18.2 .9 38.8 .5-11.4 .1-13.7 .7 .4 .7 26.1 .7-.7 .2-29.3 .7 7.8 .1 20.5 1.2 11.7 .1-19.5 .1-.2 .5 24.9 .6-20.2 .8 17.7 .1-11 .6 13.5 .9 7.1 .4-17 .1-5 .9 32 .2-13.2 .3-14.2 1 6.4 .4 25.4 .2-8.6 .8 20.8 .8-27 .3 26.1 .5-2.5 .2-13.9 .9 9.6 .4 16.5 .7-15.8 .3 20.4 .3-23 .2 24.9 .8-21.1 .7 29.4 .9-14.1 .1 17.2 .1-11.6 .6 25.7 .5-29.3 .3 20.7 .8 4.1 .2-11.1 1.2-.1 .2 18.7 .3-8.4 .8 13.8 .2-16.9 .8 21.6 .2 .3 .8-19.5 .3 .8 .4 26.9 .5 3.8 .3-18.3 1 19.8 .4-16.4 .7-5.3 .4 23.4 .1-7.3 .6 25.2 .5-32.2 .4 30.2 .9 .4 .4-19.8 .4 14.9 .6-10.3 .6 4.6 .4 18 1 3.1 .1-23.4 .1 6.3 .6 17.1 1.2-12 .1 25.7 .5-24.8 .5 25.8 .3-18.7 .2 21.2 1.1 1.3 .1-19.1 .5 12 .5 11 .5-22.3 .4 32.3 1.3-19.8 .1 15.2 .5 9.3 .5-21 .3 18.2 .4-14.3 1 22.7 .3-14.4 .1-6.7 .5 26.5 1.1-13.6 .3 19.3 .3 5.2 .2-21.8 .6 4 .8 18.4 .3-9 .7 20.3 .3-20.4 .5 27.2 1-18.6 .3 13.4 .6-4.1 .3 13.1 .2-18.5 .8 26.5 .3-14.9 .8 11.6 .2 3.7 .7-15.3 .3 19.4 .8-14.8 .5 6.3 .1 19.9 1-19.6 .4 27.3 .5-24.1 .1 24.3 1-18.1 .4 17.6 .5 1.3 .2-17.4 .9 10.7 .3 12.1 .6-10.5 .4 12.6 .7-7.2 .4 14 .6-12.1 .4 19.3 .3-18.9 .2 13.4 .7-6.2 .8 20.9 .2-5.7 .1-20 1 24.4 .4-13.7 .5 17.2 .1-22 1.2 6.9 .1 21 .9-12.9 .2 12.8 .5 9.9 .8-19.9 .3 3.3 .4 17.1 .5-12.7 .8 10.2 .5 9 .1-13.3 1.3-6.8 .1 23.2 .3-16.5 .4 16.9 .8-15.8 .2 20.6 .9 3.4 .3-18.5 .2 5.5 .1 16.1 .9-10.9 .6 7.4 .6-14 .6 26 1-22.5 .1 25.7 .1-.1 .1-18.5 1 21.3 .1-16.4 1 .3 .7 12.7 .2-9.1 .5 15.1 1.2-10.7 .1 11.5 .3 6.5 .4-18 .4 6.2 .5 17.2 .5-13.7 .1 10.6 1.1-6.3 .2 7.4 1.1-12.5 .3 8.8 .3-9.9 .5 16.8 .6-11.1 .6 19.1 .3-15.9 .4 16.2 1-12.7 .3 10.9 .2-11.1 .1 10.5 1 6.6 .7-10.9 .2 10.1 .5-13.6 .5 5.7 .6 12.6 .9-12.7 .3 17.5 .7 1.5 .3-14.6 .4 14 .2-12.1 .8 15.4 .7-11.1 .6-3.8 .1 15.3 .6-8.4 .3 13.3 .6-14 .5 16.1 .9-10.7 .3 15.6 .4-13 .4 9.5 .8-6.4 .4 11.4 1 1.3 .1-15.1 .2 1.7 .3 12.7 .6 3 .4-14.3 .6 4.9 .6 10.6 .6-11.9 .6 21.8 .6-25.1 .5 16.7 .1-15.6 .5 16.2 .5-10.3 .5 15.3 .6-13.8 .1 13.5 1.3 6.2 .3-12.1 .8 .3 .2 10.2 .2 2.6 .2-11.4 1.2 14.6 .1-20.1 .7 2.4 .2 18.7 .8-16.8 .7 12.8 .1 6.7 .1-19.2 1 26.5 .8-20.6 .1-3.1 .9 16.6 .7 .6 .3-18 .6 16.5 .3-16.4 .2 2.2 .2 21 .8-19.8 .8 16.2 .3 .3 .5-12 .6-6.3 .7 25.3 .3-4.4 .4-14.6 .4 13.6 .8-11.7 .4 12.4 .4-16.8 1.2 12.1 .1-8.5 .1 17.3 .2-23.6 1.2 24.3 .2-23.7 .4 22.9 .8-12.5 .2-2.1 .5 7.5 .9-9.3 .4 14.2 .3-14.9 .5 20.4 .4-4 .9-15.5 .9 14.2 .1-12.4 .7 9.4 .3-7.4 .2 9.3 .1-18.4 1.6 3.2 .1 22.2 .1-20.4 .1 15.8 1.3-12 .4 5.3 .4 10.7 .2-24.8 .7-4 .4 25.1 .9-2.5 .5-7.6 .5-5.9 .4 11 .6-.5 .1-9 .5 11.7 .2-12.8 .9 0 .8 15.2 .6-22 .1 16.1 .5 6 .1-19 .8 17.6 .2-17.4 1 8 .7-11.4 .9 15.7 .1-18.1 .6 19.2 .3-10.4 .2-4.9 .4 15.4 .7-15.1 .3 13 .7 8.1 .4-20.2 .5 16.2 .1-17.2 .9-5.8 .1 21.8 1.1-15.2 .3 13.1 .6 1 .5-18.3 .4 1.8 .4 13.4 .7 .1 .8-13.8 .6 10 .3-10.2 .2 12.1 .2-15.4 1.3 16.8 .3-15.3 .2-5.8 .2 20.7 1-3.3 .6-17.3 .4 16.9 .7-14.6 .6-5.2 .1 16.7 .5-10.6 .4 14.8 1-1.3 .3-13.7 .2-6.5 .9 17.5 .6-14.3 .3 11.2 1-13 .1 13.4 .3-6.9 .2 13.6 1-21.9 .4 16.7 .4-12 .2 18.4 .6-21 .6 11.5 .4-17.4 .1 19.7 1.1-5.2 .6-12.1 .2 21.2 .5-18.3 .7 8.5 .3-14.3 .9 15.4 .2-15.7 .5 18.4 .3-14.2 .6 9.1 .1-12.1 1.4-2.9 .3 12.3 .3 2.8 .3-13.3 .6-4.1 .6 26.1 .9-20.2 .1 7.3 .4-20.4 .8 18.9 .4 3.8 .3-15.3 1.1-4 .3 19.9 .3-3.6 .2-15.3 .8 12.4 .7-11.8 .2 13.3 .3-13.2 .8-11.9 .4 19.9 .8 4.9 .4-19.8 .7 26.5 .3-23.5 .3 14.7 .3-14 .6 .6 .8 11.4 .4-.6 .4-16.8 .5 3.7 .1 16.6 1.4-5.6 .3-14.1 .5 13.8 .4-13 .8-7.5 .2 22.5 .3-2.4 .4-14.9 .6-.9 .5 21.4 .4-4.4 .5-9.6 .6-6.3 .7 18.3 .3-18.8 .3 19.1 1-16.4 .1 11 .7 .6 .4-7.7 .6 12.8 .7-17.7 .2 2.1 .4 17.8 .7-7.8 .2-12.3 .8 20.3 .4-17.7 .6 10.3 .6-14.7 .8 4.1 .2 6.6 .7-3.3 .4 7.6 .9-1.5 .1-10.2 .9 12.3 .1-12.5 .3 10.2 .6-12.2 .6-3.2 .4 21.9 .8-4.9 .2-12.5 .6-1.9 .2 18.4 .9-12.3 .1 17.3 .5-11.2 .1-9.9 .8 2.3 .5 17.5 .9-15.8 .4 13.3 .6-11.8 .1 11.5 1 4.6 .4-17.2 .7 14.8 .2-15.9 .7 3.9 .3 10 .3 3.3 .3-13.8 .8 15.5 .7-8.9 .1-6.5 .9 16.4 .1-14.6 .9 13.5 .6-10.7 .1 17.2 .5-6.9 .4-14.6 1 4.4 .1 10.6 .8 2.1 .4-8.4 .4-4.4 .4 12.6 .5-6.2 .8 8 .9-10.5 .1 7.5 .2 4.3 .7-11.7 .4 10.8 .4-7.8 .4-2.1 .9 13.7 .2 1.4 .4-10.3 .6 14.3 .4-18.5 .5 4.1 .5 17.2 1-3.7 .3-12.4 .6-.5 .4 16.7 .3 1.1 .5-14.7 .9-.8 .3 17.6 .3 .5 .1-13.7 .8 .2 .8 10.8 .6-9.5 .4 19.1 .2-9.4 .1-6.6 1.1-1.8 .4 8.3 .8-12.8 .4 8.6 .6 7.7 .5-14.1 .5 20.1 .5-12.1 .6 14.7 .1-21.8 .5-.8 .5 18.4 .4-10.2 .6 18.5 .5-22.2 .3 21.1 .6-14.3 .6 6.8 .4 9.1 .8-17.4 .2-.7 .8 14.3 .3-16.2 .8 19.5 .3 4.6 .7-19.7 .1-.6 .9 20.9 .3-2.7 .6-14.5 .6 16.2 .1-16.4 .6 4.7 .4 13.9 .6-16.6 .3 18 .7 3.1 .3-17.3 .7-3.4 .3 15 1-8.8 .1 18.1 .7-18.2 .2 17.2 .6-2.5 .1-7.7 1.4 6.1 .1-7.6 .5 5.1 .4 9.9 1.1-16.4 .2 15.7 .2-10.6 .8 11.1 .4-2.3 .7-5.5 .3 15.7 .2-25.6 .6 7.5 .5 12.3 .9-6.8 .4 9 .2-12.6 .9 13.3 .2-9 .1 10.6 1.2-13.1 .4 9.6 .2 6 .2-13.7 1 2.5 .3 15 .7 2.4 .2-21.6 .6 20.5 .2-18.4 .8 19.6 .4-17.5 .6 16.4 .5-11 .9-2.5 .2 9.8 .5-12.1 .8 19.7 .3-13.8 .4 10.1 .4 7.4 .5-14.2 .6 7.6 .5 9.8 .6-12.2 .7 16.9 .2 1.1 .4-14.7 .7 10.9 .4-15.9 .8 19.2 .1-13.6 .6 3.8 .7 10.6 .2-13.1 .9 15.4 .3-18 .4 16.9 .4 1.4 .9-15.3 .1 4.4 .9 11.6 .3-13.8 .3 22.3 .9-9.1 .1-9.4 .6 14.9 .5-17.4 .8 18 .1-8.8 .5 8.5 .6-10.8 .6-.5 .6 15.8 .2-13 .1 9.5 1.5-18.8 .3 17.9 .5-6 .5 11.1 .1-8.6 .4 9.3 .7 .8 .8-8.8 .7 6 .2-14.3 .2 19.4 .6-18.9 .9 21.1 .4-15.1 .2 5.8 .4 9.4 1-6.4 .3 7.9 .3-8.1 .4 10.7 1-1.5 .3-10.1 .4 2 .2 12.4 .7 3.4 .1-13.7 .9 13.2 .8-15.5 .5 3.9 .1 10.9 .6-8.5 .5 9.5 .8 .3 .1-10.6 1-2 .4 14.7 .5-15.4 .5 9.2 .2 3.8 .1-10.3 1.2 8.1 .5 8.6 .7-12.1 .2 9.2 .3-10.4 .3 10.8 .7-12.3 .5 13.2 .6 1.2 .3-15.3 .9 1.3 .1 13.1 .7 3.6 .4-15.2 .8 3.1 .4 13.1 .8-5.4 .2-6.4 .7 18.8 .4-21.3 .3 .9 .2 10 .7-.4 .5-7.9 .8 1.3 .4 15.4 .4-4 .3-12.5 1.1 2.8 .3 12.8 .3-9.2 .6 9.2 .2 .3 .2-13 .8-1.1 .4 10.5 .6-12.8 .1 13.2 1.3 3.8 .1-10.3 .7 13.2 .3-14.5 .9 1.7 .4 12.5 .6-2.2 .4-11.2 .2 13.5 .4-9.5 .6 6.3 .4-8.1 1-3.7 .1 10.2 1-10.7 .3 12.9 .7 4.2 .1-13.8 1 1.6 .3 11 .1 2.3 .5-17.5 .6 6.6 .1 12.5 .8-1.4 .4-12 .8 1.1 .4 10.2 .5-10.8 .4 11.8 .7-10.6 .4 11.3 .4-16.3 .5 19.5 .6-5.8 .8-5.7 .2-7.1 .5 16.6 .4-.1 .5-13.3 .6 3.1 .7 14.1 .6-15.7 .4 15.1 .4-12 .6 12.9 .2-12.1 .1 3.8 1.5-5 .2 10.3 .3-10.1 .4 11.4 .9-.3 .5-14.6 .5 4.3 .1 12 1.1-4.5 .3-8.5 .2-.9 .3 7.9 .6-11.3 .8 12.3 .3-10.4 .3 10.2 .7-5.9 .4 8.9 .5-2.3 .5-12.4 1 12 .4-11.3 .9 15.5 .1-12.2 .5 11.9 .5-15.4 .1 4.2 .5 8.8 .9-2.8 .4-9.2 .2-.1 .9 14.4 .7-4.3 .3-11.1 .2-1.7 .4 16.9 .9-16 .5 11.4 .2-12.5 .8 12.8 .2-9.2 .4 10.6 .7-12.7 .6 11.1 .8-9.8 .2 9.9 .4-12.6 .7 8.1 .2-3.5 .1 5.6 .8-15.1 .5 20.2 .5-12.2 .8 12.2 .2-15.4 .4 10.8 1.1 5.1 .3-13.5 .4 10.1 .4-16.7 .5 18.9 .1-15.3 1 1.5 .4 16 .8-14.3 .5 10.7 .7 .3 .2-15.2 .8 7.5 .2 4.8 .4-.8 .2-7.6 .7 12.4 .7-15 .2 2.5 .9 10.4 .6 .3 .4-12.4 .5 4.2 .2 7.1 .8-1.4 .5-9.7 .1 10.6 .9-9.1 .6 13.6 .3-17 .6 4.1 .4 11.7 .7-15.4 .3 17 .7-19.9 .1 21.4 .5-6.8 .4-14 .5 18.1 .1-12.6 1-4.6 .5 17.3 .6-.6 .7-20.5 .3 16.2 .2-10.2 .6 13 .4-9.9 1.1 12.8 .3-17.8 .6 11.5 .5-5.9 .2-1.7 .7 11.4 .6-.9 .1-6.7 1.3-.2 .1 5.8 .1-9.4 .1 13.7 1.3-11.8 .5 12.4 .5-13.4 .1 14.6 .5 .4 .6-14.5 .8-1.6 .5 13.4 .3 3.2 .4-10.6 1 8.2 .3-13.2 .5-.1 .4 15.7 .3-3.2 .1-6.6 .8-3.2 .1 12.6 1.1-10.1 .7 8.3 .1 3.3 .8-15.3 .2 3.8 .5 11.7 1-16.7 .3 13.6 .3 1.4 .7-12.6 .4-2.1 .2 14.5 1-10.2 .2 8.9 1-1.3 .3-6.2 .7 14.1 .2-11.9 .4 11.9 .2-11.8 .6 9.5 .5-7.4 .6 6.4 .8-8.3 .3 .5 .3 13.4 .9-12.9 .5 13 .3-4.7 .4-12.7 .5 5.3 .5 11.3 .4-1.1 .1-8 1.4 7.7 .1-8 1 8.9 .2-12.5 .2 3.3 .2 15.9 1.3-5.2 .4-9.1 .3-5.5 .6 20.6 .8 4.3 .2-20.6 .2 0 .2 15.2 .8-1.2 .6-13.7 .9 5.7 .1 12 .4-5.9 .4-10.3 .8 2 .7 13.6 .5 .7 .4-13.4 .6-.1 .4 13.6 .2-9.1 .2 6.2 1 4.6 .6-14.7 .2 3.9 .6 13.3 .5-3.7 .7-9.4 .2 9.8 .5-13.3 .5 5.6 .2 15.7 .8-10.1 .9 5.4 .7-3.2 .3-6.7 .2-.3 .1 10.4 .8-7.5 .5 6.2 .7 3.9 .2-12.7 .8 3.4 .3 11.3 1 2.5 .4-13.8 .6 .8 .4 9.1 .7 1.4 .2-13.2 .7 4.4 .4 11.3 .5-11.1 .1 14 1-13.8 .1 13.5 .4-2.5 .6-11 .8 14.7 .2-10.1 .5 9.9 .1-8.3 1.4 13.9 .3-18.8 .3-.3 .7 12 .5 2.1 .4-8.5 .2-.4 .1 10.2 .9 3.1 .1-15.7 1.7 5 .1 8.3 .2-8.6 .1 13.7 .8-10.8 .6 9 .4-10.3 .8 13.8 .4-3.6 .6-12.6 .2 13.6 .2-13.3 1 5.2 .2 14.9 1.2-18 .3 11.9 .3-13.4 .4 11 .9 12.1 .1-20.9 .4 16.6 .4-12.9 1.2-.4 .3 8.7 .2 4.4 .8-15.3 .5 14 .2-9.8 .4 13.6 .8-14.4 .4 14.3 .3-16.4 .5 16.9 .1-14.3 1 3.3 .3 6.4 .6 3.3 .1-7.4 1 11.9 .8-10.2 .2 7.8 .7-11.6 .2 12.3 .8-13.1 .2 5.8 .9 9.6 .7-12.2 .3 13.9 .5-9.2 .2 14.6 .9-17.1 .4 12.9 .1-15.3 .1 12.5 1.1-12.1 .4 12.3 .9-5.5 .1 7.4 .4-11.8 .5 11.3 .6-6.3 .8 9.7 .5-14.3 .4 12.8 .2-.7 .8-10.9 .2 3.9 .6 7.3 .5-7.1 .1 12.2 1.3-10.4 .3 11.8 .6-5.4 .2-5.7 .4 8.8 .6-12.6 .6 2.6 .2 11.6 1 .7 .5-11 .1 2.6 .6 7.6 .4-8.8 .2 8.4 .8 5.3 .1-18.4 1.3 5 .5 10.7 .5-8.7 .4 6.8 .7-4.9 .3 10.6 .4-3.8 .6-4.1 1 9.7 .1-12.1 .2 10.4 .1-9.6 .9 10.3 .5-11.9 .8 11.3 .2-7.8 .8-1.5 .5 11.9 .1-10 .5 9.9 1 4 .3-13.4 .8 8.3 .3-6.9 .1 9.6 .1-9.4 1-4.1 .7 14.2 .6-1 .4-6.7 .7 8.8 .1-9.4 .9 11.2 .1-12.4 .4 10.9 .5-7.8 .5 9.6 .6-5.9 .6-4.2 .4 11.5 .8-12.4 .1 8.4 .5-9.4 .6 9.1 .6-7.8 .6 10.6 .3-.7 .1-10.8 .9 12.4 .3-8.4 .6 12.7 .2-8.8 1.2 9.4 .2-16.4 .8 2.6 .5 10.9 .3-10.9 .6 9.4 .3-5.3 .7 12.2 .2-3.8 .4-10.2 1 9.2 .5-8 .1 12.2 .9-13.9 .2 .7 .1 10.7 1.2-.5 .1-8.4 1 3.4 .4 6.4 .5-7.4 .5 12.2 .6-12 .1 9.4 .5-9.6 .7 6 .3-2.2 .4 12.8 .6-21.7 .8 13.1 .1-8.9 .6 12 1 4.7 .3-16.5 .6-.2 .4 11.7 .5-9.4 .5 8.9 .1-7.3 .8 7.5 .2 1.8 .4-10.2 .6 16.2 .9-14.9 .3 .8 .7 8.4 .3 2.5 .3-11.9 .6 9 .5-7.2 .4-4.4 .9 13.8 .5-2.6 .1-3 .7-6 .4 10.4 .4 .7 .1-7.1 1.1 0 .6 4.6 .8-5.3 .3 8.5 .2-8.6 .1 7.4 1.2 5.3 .2-15.5 1 13.5 .3-6.7 .1-1.8 .9 8.2 .3-8.1 .6 15.4 .7-13.1 .3 6.5 .4-11.3 .7 12.8 .2 2.2 .5-11.4 .4 9.5 .9-8 .2-2.8 .4 12.2 1-7.9 .4 6.6 .7 1.7 .2-11.5 .3-6 .5 21.2 .5-2.2 .7-10.6 .3-.2 .5 6 .6-2.2 .4 8.9 .8-2.8 .2-15.8 .8 7 .1 10.5 .7-11.3 .3 13.8 1-3.2 .1-9.5 .9 .5 .3 8.4 .3 1.7 .5-8.9 .6-1.4 .4 11.5 .5 2.4 .8-15 .1 13.9 .2-14.6 .8 15.6 .2-10 1.3 6.7 .3-8.4 1 3.7 .1 9.7 .2-11.4 .8 9.1 .5 2.6 .2-13.8 .4 10.5 .6-5.9 .8 7.8 .5-8.3 .1-3.4 .8 10.5 .4-9.6 .4 6.8 .8-6.2 .2 8.7 .6 3.4 .2-8.1 .6 .9 .1 6.1 1.7-.8 .1-12.9 .2 3.4 .7 9.9 .8 1.9 .2-9.1 .2 5.6 .6-6.1 .6 2.7 .7 6.1 .1 1.3 .4-14 1.1 1.1 .1 13.6 .6-.6 .6-10.1 .3 0 .3 7.9 .6 2.1 .1-12.7 .9 4 .5 9.3 .5-7.6 .8 12.3 .4-4.8 .2-7 .7-3.9 .7 7.7 .4 2.8 .6-5.9 .2-1.5 .1 10.7 1-12.2 .5 5.6 .6-5.3 .4 10.3 .6-4.9 .3-5.1 .6 2.6 .5 10.1 .4-4.3 .9-11.2 .3 15.6 .4-13.2 1 2.9 .3 6.3 .1-.4 .4-6.8 1 6.7 .4-9.5 .7 14.3 .4-11.9 .2 10.6 .4-15.1 1 3.5 .4 11.2 .6-3.6 .4-7 .1 3.1 .5 11.1 .7-1.7 .3-15.6 1.1 4.9 .3 5.8 .7-7.7 .2 10.2 .4-9 .2 9.7 .8-8.5 .3 12.1 .9-11.7 .1 11.6 .5-4.2 .4-8.2 .6 13 .4-14.3 1.2 1.8 .3 9.8 .1-7 .6 6.9 .5-.1 .1-9.4 1.2 10.5 .4-11.1 .4 9.9 .4-7.3 .9-.9 .3 12.3 .3-1.6 .5-12.1 .4 12.5 .9-15.1 .1 5 .8 9.6 .3-9.4 .8 8.4 .9-11.3 .1 9.8 .7-1.5 .2-5.3 .2 1.9 .8 5.9 .6-13.3 .2 13.6 .6-9 .3 9.7 .6-10.8 .8 11 .3-10.1 .3 6.9 .6-10.3 .5 16.9 .4-5.7 .2-7.9 .8 6.8 .4-6.5 .8 5.5 .2 5.2 .7 .6 .1-6.2 .8-2.6 .4 8.1 .6 1.4 .8-12.6 .3 9.8 .8-7.2 .9-.9 .1 10.1 .1-7.2 .2 7.8 .9-1.8 .8-5.9 .1 11.3 .2-12.4 .9-6.9 .7 18.1 .3-13 .5 10.6 .9-11.3 .4 13 .6 .2 .4-8.5 .3-3.1 .4 11.3 .5-1.4 .8-7.1 .1 7.2 .1-8.7 1.1 9.3 .4-8.3 .6 1.5 .7 6.1 .3-1.7 .2-6.2 .8 7.8 .3-7.5 1.3 12 .1-10.9 .3 9.4 .2-9.4 .6 .9 .9 8.2 .1-.8 .6-7.9 .8 9.9 .1-11.1 .7 2.6 .4 8.4 .9-7 .1 6 .9-7.7 .3 9 .3-13.4 .1 11.7 .9 1.7 .8-14.5 .1 1.6 .5 13.9 1-12.8 .3 13.7 .6-.9 .2-12 .4-.2 .8 10.5 .2 4.1 .9-11 .2-1.8 .7 6.5 .2-6.5 .4 8.1 .6-5.3 .8 3.4 .2 5.3 .1-10.9 1.3 .2 .5 8.7 .9-10.1 .1 10.2 .3 .6 .6-8.2 .4 8.4 .2-9.4 .7 2.3 .5 7.6 .5 2.6 .1-7.9 .8-6.6 .9 11 .1-1.4 .9-6.6 .1 8.1 .5-4 .7 6.7 .3-8.3 .6 6.4 .4-9.5 .5 3.7 .9 8.6 .3 1.1 .6-8.5 .4 5.4 .4-8 .4-.8 .4 8.4 .8-6.4 .3 5.5 .5-1 .8-4.4 .4 9.8 .4-11.2 .4 .5 .2 7.5 .8-4.8 .6 10.6 .5-13.2 .3 4.2 .7 6.1 .3-8 1.2-3.9 .2 13.1 .4 .1 .4-12.7 .8 4.3 .2 7.3 .6-1.5 .6-8.3 1 8.9 .1-10.6 .1 10.7 .9-10 .1 9.6 .4-7.3 .6 8.7 .6-6.8 .6-4.2 .3 8.2 .7-8.2 .4 11.3 .6-9.3 .6 9.7 .4-9.1 .6 11.2 .4-4.2 .4-12.6 .4 5.6 .6 8.9 .5-11.4 .5 14.2 .4-2.2 .9-7.7 .3-.3 .2 10.6 .6-.3 .2-9.7 .9 7.3 .1-10.8 .9 3 .3 9.5 1.1-1.1 .3-10.7 .2 10.7 .2-13.1 1.4 4 .3 9.1 .1 3.4 .1-10.2 1.7 7.9 .1-11.2 .3 2 .3 7.3 .5-11.6 .8 13.3 .3 .5 .1-7.8 .8-5.9 .6 15.7 .4 .7 .2-9.4 1.6-3.1 .1 10.7 .3-9.1 .2 9.8 1-10.3 .4 11.3 .4-10.5 .6 6.1 .7 .1 .4-8.5 .6 9.3 .4-7.7 .3 0 .7 11.9 .1 .6 .1-13.3 1.1 12.7 .2-16 1.2 15.6 .2-10.1 .2 9.7 .5-12.8 .7 4.1 .6 7.4 .2-.2 .4-10 1 2.3 .4 11.1 .2-4.5 .8-8.6 .3 .9 .7 5.2 .2-6.2 .6 7.6 1 3 .2-9.3 .2-1 .5 11.4 .6-13 .5 16 .6-4.4 .4-9.1 .6 6.8 .6-6.8 .3 6.5 .5-7 .5 .9 .7 9.4 .6 1 .4-11.1 .4 5.4 .2 5.8 .6-9.9 .9 10.3 .1-9 .4 7.4 1.1 1.7 .4-7.2 .5 .1 .2 4.9 .5 1 .8-5.5 .3 6.2 .6-11.1 .6 2.7 .2 8.1 1 0 .3-11.2 .9 14.5 .1-11 .3-1.5 .2 9 .8 3.7 .2-11.6 .6 13.1 .1-11.3 1.3 8.5 .4-10.8 .2 2.3 .2 6.1 .9-8.8 .7 11.7 .7-8.4 .1 5.1 .4 6.6 .4-12.9 .7 2.3 .8 10 .5-2.9 .4-9.8 .2 1 .6 10.3 .6-11.4 .3 7.9 .5-9.4 .9 11.4 .3 3.1 .6-11.6 .7 .8 .3 5.7 .3-8.9 .7 12.7 .3 .2 .3-11.8 .6 13.5 .4-9.4 1.1 5.1 .3-6.6 .7 14.2 .1-14.8 1 9.2 .3-9.4 .1 11 .1-11.6 1.3-1.2 .5 9.7 .3-10.9 .4 9.6 .4-6.1 .4 6.8 .8-6.1 .3 7.8 1.1-2.3 .3-7.1 .7 1.1 .2 7.1 .4-7.7 .3 5.6 .5-5.1 .5 7.7 .5 3.6 .8-9.9 .4 5.9 .3-8.2 .7 8.8 .7-9.3 .1 9.6 .8-7.4 .2 9.6 .2-11.7 .9 6.8 .8-8.3 .1 11.4 .1-10.1 1 .6 .8 9.9 .5-.7 .2-7.8 .4-.9 .8 11.4 .3 1.1 .7-10.2 .4 9.4 .4-12.7 .9 14.1 .1-10.4 .4-3.5 .1 8.8 1.1-3.3 .3 9.9 .7-4.7 .6-14.4 .2 7.5 .4 6.8 .7-8.7 .8 7.4 .2 2.9 .4-11 .6 2.5 .1 8.9 .9-12.7 .1 11.2 1.2 .7 .4-8.6 .4-.6 .3 9.7 .7-7.9 .7 4.6 .5 5.2 .2-15.3 .6 5.2 .3 4.6 .6-2.6 .8 6.2 .2-10 .7 8.6 .2-6 .2 8.4 1-9.3 .2 5.5 .6 2.5 .6-7 .5 9 .4-10.9 .5 1.6 .8 6.9 .3 .9 .1-9.8 .9-.7 .1 12.8 .8-3.2 .2-7.8 1 .2 .7 5.3 .1 6 .8-9 .7 7.5 .4-9.1 .6 3.8 .4 9.4 .2-12.9 .1 6.4 1.2 6.2 .4-14.8 .7 9.8 .4-7.4 .5-.9 .5 8.8 .3-2.2 .4-8.3 .4-.9 .4 15.2 .7-13.8 .7 11.4 .2-13.6 .8 14.2 .7-9.3 .3 11.5 .4-12.7 .4 8.2 .6-8.2 .6 6.2 .8-5.4 .2 7.4 .2-7.5 .1 8.3 1.4-8.3 .3 8.3 .6 7.5 .5-12.6 .2-2.7 .4 7.9 .6-8.5 .1 10.9 1.3-2.3 .1-11.5 .5 13.1 .8-10.1 .2 9.1 .5-9.9 .5 10.2 .4-8.5 .7-.3 .2 5.7 1.2-1.7 .2 4.1 .6-7.2 .4 7.4 .2 5.7 .6-11.6 .8-5.2 .2 10.9 .4 .9 .4-13.3 .7 10.6 .8-7.7 .9 10.5 .1-8.3 .6 .2 .3 8.9 .3-13.4 .4 14.9 .6 0 .5-8.9 .5 6.6 .5-6.5 .9 7.1 .3-5.6 .4-2.6 .7 6.9 .2-12.6 .8 12.1 .2 1.3 .7-8 .6 1.7 .4 4.4 .4-3 .2 5 .7-9 .3 7.4 .7 6 .5-14.1 .6 12.8 .7-14.3 .6 1.7 .3 9.3 .2-10.1 .4 13 .8-3.2 .6-7.1 .4-1 .7 10.5 .3-1.2 .2-4.3 .7 4.9 .3-9.4 .8 9.5 .7-11.6 .1 8.6 .5-4.8 .5 1.9 .4 4.3 1 .3 .4-9.7 .7 1 .3 8.8 .2-6.5 .6 5.5 .5 .1 .8-7.2 .1 .2 .8 8.5 .4-7.3 .2 10.7 .6-12.3 .4 7.6 1.4-12.2 .1 15 .1-14 .2 14.6 .8-.1 .8-6.1 .2 6.1 .2-8.4 1.4-3.9 .3 11.5 .2-16.2 .3 14.1 .8-10.6 .2 11.2 .6 1.9 .5-10.9 .5 8 .9-8.5 .3 11.2 .7-8.1 .3-1 .7 8.2 .1-.3 .8-6.2 1-3.8 .1 12 .2 0 .5-7.6 .8-3.4 .1 8.6 .5-5.3 .6 4.4 1 2.1 .2-8 .4 8.8 .7-11.1 .6 12.7 .4-11 .7 7.3 .3-7.4 .2-.7 .4 8.7 .6-5.7 .3 4.6 .7 2 .5-11.3 .6 11.6 .4-9.1 .8-3.2 .5 12.4 .2-3.5 .4 4.5 .7-9 .7 6.9 .2-.2 .8-5 .5 7.3 .5-9 .7-1.1 .2 9 .3-7.9 .5 10.5 .5-10.6 .4 8.9 .5 3.5 .2-13 1.2 8.8 .5-7.5 .3 2.2 .7 5.5 .1 1.6 .6-7.5 .4 4.8 .2-4.5 1.3 6.5 .3-10.3 .2 12.5 .8-12.8 .3 .9 .1 7.3 1-4.9 .3 7.6 .6-9.3 .7 6.8 .2-7.4 .4 7.8 1-5.9 .2 8.9 .5-12.1 .7 10.1 .7-7.7 .4 8.1 .2-6.3 .1 5.4 1-9.1 .3 15.9 .6-2 .7-9.5 .2-2 .1 9.1 .9 0 .1-10.1 .9-.3 .9 7.9 .3 1.5 .6-6.7 .8-1.3 .3 10.2 .6-3.1 .1-9.2 .6 .4 .3 8.7 .5 1.6 .8-9.8 .2 11.5 .5-12.6 .5-1.1 .8 16.5 .6-6.7 .4-8.6 .7 3.1 .3 6 .8 2.1 .3-10.7 .3 13.2 .3-9.8 .9-.5 .4 4.9 .6 5.9 .4-12.2 .3-1.6 .4 7.6 .6 5.1 .8-10.9 .2 .9 .8 5.9 .1 1.4 .5-9.4 1.3 10.1 .1-10.7 .3 1.6 .2 7.4 .6 1.1 .4-8.6 .6 6.2 .8-7.4 .8 4.1 .3 5.3 .3-8.6 .6 11 .4-11 .4 11.1 .6-4.1 .3-2.8 1.3-3.7 .1 7.5 .2 5 .8-12.1 .1 10.3 .1-11.9 1.3 9 .4-3.2 .3 5.6 .5-9.9 .5 10.5 .7-7.6 .6-2.4 .4 5.7 .2-2.3 .2 6.9 .9-.5 .5-8.7 1 1.6 .2 6.3 .3-9.6 .3 12.5 .6-12.7 .5 9.3 .6 1.2 .4-11.6 .6 .7 .8 6.9 .6-7.5 .3 7.8 .3-4.7 .8 3.8 .1-5.7 .2 8.8 .9 .7 .7-9.6 .3 10.3 .5-8 .5-2.8 .3 15.8 1.4-13.5 .1 7 .2-7.4 .3 7.6 1-1.4 .4-5 1-1.2 .1 6.7 .1 1 .5-5.8 1.1-3.9 .2 8.1 .7-6.4 .4 10.9 .5-4.1 .5-7.6 .1 1.5 .6 6.6 .9-1.9 .3-7.5 .4 13.2 .7-11.2 .2 6.2 .3-9.6 .7 4.9 .3 5.4 .6-6.9 .6 6.4 .8-.4 .1-4.9 1.1 6.5 .2-7.6 .7 9.2 .4-12.3 .6 2.9 .3 8.8 .8-9.4 .3 9.7 .2-8.9 .4 9.7 1-9 .1 12.7 .9-13.9 .3 12.8 .4-9.9 .7 6.2 .1-10.4 .8 12.8 .4-15.2 .7 12 .1-.4 .5-7 .6 6.4 .3-4.5 1-2.9 .1 11.7 1.1-10.3 .2 6.4 .3-9.1 .3 10.2 .7-1.3 .1-10.2 .8 9.4 .1-5.2 1.7 6.3 .1-8.5 .2 10.7 .8-7.4 .2 6.4 .7-8.8 .4 11.7 .6-12.9 .6 2.7 .1 7.8 .5-9.5 .4 9.2 1.1-6.7 .3 7.6 .2-.9 .5-9 .7 8.7 .7-12.3 .6 12.3 .1-9.7 .5 10.3 .5-9.8 .8 .5 .4 9.9 .3 2.3 .8-13.7 .1 3.1 .5 7.9 1.1-1.3 .3-7.3 .9 10.2 .1-11.8 .3 1 .6 10.5 .6-9.1 .4 9.9 .7-13.2 .1 9.2 .9-2.5 .3-2.5 .2-1.8 .9 9.4 .2-1.8 .8-5.3 .2 10.6 .5-13.7 .4 7.5 .5-5.9 1.1 8.4 .3-7.4 .1 4.6 .1-4.3 1.4-2.2 .1 6.8 .5-6.7 .1 8.5 1.3 .5 .1-8.3 .9-2.8 .3 8.3 .4-6.3 .4 9.6 .6-9.6 .4 8.8 .5-10.3 .3 11.8 1.2-10.8 .2 8.1 .7-6.5 .3 6.3 1 1.2 .1-7.1 .3-.8 .4 8 .4 1.9 .6-14 .6 16.8 .2-13.8 1.2 7.4 .3-7.3 .2 2 .4 7 1.1 1.2 .2-10.2 .3 1.6 .8 9.6 .1-13.3 .4 13.3 .7-1.4 .7-8.2 .4 .2 .6 6.7 .6-7.3 .2 10.9 .8-3.4 .2-9.3 .8 .2 .5 10.7 .2 2 .7-10.6 .3 1.1 .5 6.4 .5-10.5 .7 11.1 .2-7 .6 6.9 .4 .9 .5-10.1 1.1-3.6 .3 14.3 .6-1.8 .4-8.5 .1 10.7 .8-13.8 .4 8.8 .3-7.8 .7 2.9 .2 9.3 .6-7.8 .4 7.2 .6 2.3 .5-8.3 .6-4 .4 9.3 .7-7.3 .7 7.5 .7 1.7 .3-11.1 .3 7.2 .4-5.4 .4-3.6 .8 9.5 .2 3.3 .9-8.6 .1-1.3 .9 6.1 .1 3.9 .8-11.7 .3 12.4 .5-12.6 .8 6.9 .2-3.1 .4 .3 .4 7.9 .8-10.9 .2 10.3 .8 .6 .7-10.6 .1 11.3 .5-9.9 .9-1.2 .1 9.1 .7-9.5 .4 8.5 .9 1 .1-11.7 .8-1.3 .5 8.9 .1 10 .2-15.9 .8 3 .9 6.8 .2-14.1 .5 15.8 .9-11.6 .3 11.2 .4-1.7 .6-7.2 .7 5.3 .1-4 .6 10.7 .2-11.3 .6 9.9 .8-10.9 .6 11.4 .4-12.9 .4-2.3 .3 11.7 .7 1.6 .4-11.4 .6 8.2 .4-4.7 1 8.2 .3-8 .6-1.7 .3 4.8 .6-4 .2 7.4 .8-.5 .2-6.8 .4 10.3 .4-11 1-2.1 .5 8.6 .3 1.7 .7-7.1 .5 4.9 .5-5.9 .5 .7 .1 8.9 .5-10.8 .9 10.6 .2-7.9 .8 6.3 .6-.2 .4-6.6 .3-1.2 .7 8.1 .1-4.5 .5 3.6 .5 2.2 .9-9.8 .1 1.1 .2 6.4 .9-10 .1 10.5 1 1.8 .3-9.8 .5 8.7 .5-6.9 .9-.3 .4 4.9 .7-2.4 .1 3.8 .9 2.4 .3-9.2 .2 5.1 .9-7 .5 8.8 .2-10.9 .6 9.6 .7-8.9 .1-.1 .5 13.8 1.3-1.4 .1-9.6 .6 .7 .1 10.4 .4-12.3 .1 13.5 1.5-10.4 .2 9.3 .4-12 .6 11.5 .2-.6 .4-11.4 .6 1.6 .5 9.4 .7-16.2 .4 13.9 .9 .4 .3-8.7 .6 11.9 .1-11.7 .9 10.7 .5-10.6 .2 3.4 .1 6.1 1.3-14.3 .3 12.7 .6 1 .4-7.3 .6 7.6 .4-9.5 .4 3.5 .4 5.3 .8-1.2 .5-6.3 .6 1.2 .4 6.3 .2-10.6 .1 10.2 .8-11.2 .4 11.2 .8 .9 .2-6.2 .7 6.5 .7-5.3 .3 8.4 .7-12.3 .2-1.4 .2 7.5 1.2 2 .4-6.3 .4 1.7 .6 5.7 .4-10.7 .3 8.8 .7-8.6 .2 10.8 1.1-9.7 .3 6.8 .3-5.8 .4 6.9 .5 2.1 .5-8.6 .6-1.1 .4 7.4 1.1-11.3 .3 13.5 .6 2.4 .3-10.7 .4 9.9 .4-10.4 .8 7.4 .2-6.6 .8 8 .4-8.9 .4 8.2 .4-13.5 1.2 3.5 .1 8.2 .2-6.8 .1 6.8 .8-.5 .1-4.8 1.3 1.2 .4 8 .8-9.4 .3 6.2 .3 2.7 .4-9.6 .4 6.8 .9-4.2 .2-7.7 .1 10.6 1.2 4.1 .1-11.8 1.1 12.3 .3-12.5 .3 3.9 .6 5.2 .4-6.9 .3 6.2 .5 2 .1-7.4 1.1-1.7 .7 12.4 .2-12.8 .7 9.4 .3-1 .3-9.5 1.1 3.4 .4 8.1 .7-2.3 .3-8.4 .9-.9 .1 11.9 .6-7.2 .1 4.8 .6 .3 .6-8.3 .2-1.7 .2 9.1 1.3-6 .3 8.3 .3-1.2 .7-7.3 .3-4.4 .5 14.7 .4-3.1 .9-8.6 .2 .5 .4 10.4 .5-2.3 .2-6 1.2-2.2 .2 7.4 .8 5.1 .2-12.7 .6 11.4 .2-12 1 5.7 .1-7.6 .9 .3 .5 12.1 .7 1.3 .3-11.2 .5 11.4 .1-10.6 1.1-1.4 .2 7.7 .3-7.7 .4 8.2 .9-6.9 .1 6.5 .5-3 .9 5.6 .1-10.5 .6 11.5 1-2.7 .2-5.6 .2 9.3 .4-6.3 .8 3.1 .6-8.4 .8 3 .2 6.7 .7-9.6 .1 9 .8-8 .1 7.8 .5-8.2 .5 9.7 .7-1.9 .7-5.2 .2-5 .7 10.3 .4-5.9 .6 8 .3-10.9 .4 7.7 .7-6.2 .7 5.4 .7-2.9 .3 3.4 .1 2.3 .1-8.9 1 10.1 .1-6.3 .8 5 .1-7 1.3 7 .4-5.9 .2 0 .4 9.9 1-4 .5-13 .1 5.9 .9 6 .1-8.6 .1 7.9 1.1 1.5 .6-11.3 .3 6.4 .5 4.4 .8-9.4 .2 10.9 .5-1.5 .1-8.4 .8 .9 .1 8.4 1.1-6.1 .2 7.8 1-1.6 .5-7.8 .3-1.7 .2 9 .7 0 .5-9.1 .9 10.6 .4-9.7 .7 8.4 .2-6.9 .4-1.2 .6 5.8 .2 2.2 .2-5.5 1.4 10.6 .3-12.4 .6-.4 .3 9.9 .2-11.1 .5 9.9 1-.7 .3-5.7 .8 6.7 .3-9.6 .6 8.6 .1-10.5 .8 13.6 .1-13.7 .5 9.7 .2-11.1 .8 3.6 .5 6.5 .5-7.2 .1 7.1 1.1 3.2 .3-9.2 1 10.8 .4-10.7 .6 5.4 .4-8.5 .3 3 .3 12.4 .5-3.2 .5-8.1 .7-.4 .3 7.6 .6-1.2 .8-5.1 .6-1.9 .4 9.3 .1-9.1 .5 9.8 .6-3.4 .3-8.4 .6 10.3 .9-8.5 .7 .2 .2 7.3 .4 2.3 .6-7.4 .8-2.2 .3 4.5 .5-5.4 .1 13 .5-4.3 .8-7.9 .7 10 .1-8.8 .4 4 .4-6.5 1.1-1.1 .1 9.2" stroke="#00ff00" stroke-width="4.0"/>
<path d="M246.9 691.4l0-16.6 .1-3 .9 31.5 .6-15.3 .4 19.1 .3-21.5 .4 27.9 .6-11.1 .6 12.6 .7-10.1 .4 24.9 .5-17.2 .5 18.4 .2-15.3 .8 31 .6-17.9 .4 27.5 .6-13.9 .3 15 .4 1 .3-14.1 .5 4.6 .4 16.6 1-16.8 .2 16.1 .9 6.2 .3-12.9 .4 18 .3-15.2 .6 16.7 .7-13.2 .2-.5 .1 14.9 1.4-9.4 .1 11.3 .9 5.9 .4-21 .3 7.9 .7 13.5 .5-1.9 .1-13.5 .5 9.2 .6-8.4 1 9.5 .2-14.4 .3 5.9 .7 17 .3 .8 .8-17 .5-3.5 .4 12.9 .4-15 .3 30.5 1-9.8 .3-16.8 .2 .7 .1 13.3 1.3-16.1 .2 23.8 .9-3.8 .3-16.9 .7 1.8 .4 14.6 .1-16.6 .9 15.6 .6-17 .3 12.5 .4-8.6 .6 15.9 1-3.3 .1-15.7 .3 9.4 .2-9.6 .8-12.3 .7 21.1 .9-13.7 .1 17.7 .1-20.2 .1 12 1.4-9.4 .4 15.7 .5-18.5 .4 19.4 .6 6.7 .4-22.3 .6 7.8 .1-15.9 .9 1.9 .4 16 .4-24 .7 28.1 .5-10.3 .5-12.2 .5 12 .5-11.6 .3-1 .7 12.8 .5-21.9 .2 15.6 .4 9.7 .1-22.2 .9 17.8 .9-22.1 .6-1.7 .4 14.2 .5-13.7 .1 16.6 .7-6.1 .6-16.2 .6 23 .4-19.7 .6 8.6 .2-19.7 .5 21.1 .5-18.4 .8 12 .4-10.5 .3 9.8 .8-12.8 .3-6.3 .3 18.8 .7-16.6 .4 17.6 1-4.2 .2-20.1 .2 1 .8 15.9 .2-4 .6-16.9 .8 14.6 .1-13.1 .6 1.4 .7 13.2 .3-3.2 .7-19.4 .2 12.8 .4-10.4 .8 7.8 .3-15.2 .6 16.7 .8-17.1 .2-3.9 .5 17.3 .4-20.7 .8 22 .4-5.5 .2-23.7 .8 16.8 .2-28 .7 29 .5-26.1 .6 2.7 .4 18.3 .9-23.5 .1 17.3 .4-5.3 .2-22.2 1.2 24.5 .5-17 .2 10.3 .1-18.6 1.2-.3 .1 26 .5-14.6 .6-11 .9 7.3 .3-16 .2 19.9 .6-14.1 .5 12.5 .7-30.5 .2 23.2 .9-21 .5 18.7 .2-14.9 .8 11.5 .1-20.2 .5 20.9 .5-26.2 .5 5.2 .6 16.1 .9 3.6 .3-27.4 .3 19.5 .3-18.8 1.4-4 .1 13.4 .3-15.7 .3 8.9 .7-2.1 .4-10.5 .4-8.3 .6 18.7 .9-21.8 .1 18.9 .4-25.9 .9 20.9 .5-1.3 .1-19 .5 11.2 .9-12.1 .1 11.1 .4-22.8 .7 15.4 .8-19.2 .1-.8 .1 19.4 1.7-29.2 .1 15 .6-6.2 .3-30.7 .8 24.9 .2-19.7 .3 1.6 .8-20.6 .5 19.4 .2-16.6 .4 4.1 .9-17.6 .5 11.2 .2-20.3 .4-3.2 .4 18.7 .6-7.5 .8-16.3 .7-5.3 .4 10 .1-23 .1 22.2 1.5-15 .3-9.8 .2 2.7 .8-14.4 .5 10.9 .1-17.4 .6-3.3 .5 16.9 1-4.2 .3-19.3 .1 12.7 .9-18.3 .3 11.1 .6-19.3 .2 13.3 .8-27.4 .4-4.3 .7 18.7 .2 .1 .8-19.4 .7 23.5 .2-28.5 .2-10 .2 27.8 1.3-11.9 .1-16.7 .5-8.5 .4 16.5 .7-5.4 .7-39.4 .3 28.8 .2-32.1 .7 4 .3 16.4 1-36.1 .2 34.7 .5-10.2 .4-28.5 1.3-3.1 .1 23.2 .7-29.5 .3 25.3 .2-13.9 .7-15.8 .6 6 .1-13.3 .9-6.8 .5 18.5 .6-26.7 .3 19.7 1-6.2 .1-22.5 .1 10.5 .5-21.2 .6 16.4 .5-15.3 .4 3.5 .8-21.2 .3 7.6 .3 16.4 .8 1.7 .7-30.3 .3-2.8 .3 21.2 1 .3 .1-23.8 .5 12.4 .7-18.2 .6 13.6 .5-22.4 .3 29.4 .6-23.3 .8 9.3 .2-17.1 .2 20 .5-18.2 .9-24.2 .1 38.9 .6-24.9 .7 13.5 .4-17.7 .3 26.3 .7-30.1 .6 25.4 1 8.4 .1-25.7 .2 15.9 .8-18.3 .7-3.5 .3 21.4 .2 2.6 .5-26.8 .5 18.9 .8-20.4 .5 5.1 .2 30.4 .4-16.2 .1-25.3 1-1.2 .8 23.3 .6 9.1 .3-26 .4 24.1 .3-17.7 .7 2.1 .2 15.9 1.2 9.6 .3-26.9 .1-5.9 .8 25.5 .3-27.1 .1 27.3 1.2-20.4 .2 19.6 .8 5.5 .1-21.2 .9-12.2 .5 24.5 .5-19.6 .2 18.4 .5 8.3 .7-25 .3 24.3 .1-16.5 1 13.6 .3-10.6 .6-5.6 .3 28.8 .8-21.6 .6 17.5 .2-21.9 .8 21.8 .7-7 .4 12.7 .1-.1 .2-19.5 .9 28.7 .1-21.5 .9 25.3 .3-24.4 .6 32.6 .9-33 .3 30.5 .3-19.6 .5 7.5 .1 27.4 1.3-6.4 .4-20.5 .6 7.8 .1 20.2 .7 2 .4-23.9 .9 26.9 .3-25.5 .2 28.5 .2-18.4 .9 26.5 .4-23.4 1 20.4 .3-23 .2 31.7 .4-21.3 .6-7.5 .6 19.3 .6-7 .3 20.6 .5-18.7 .8 16.4 .6-1.8 .5-14.1 .1 2.6 .9 26.5 .3-20.7 .6 13.9 .8-17.4 .2 25.9 .3 1.7 .3-27.1 .7 23.5 .1-12.6 1-3 .4 30.8 .4-24.4 .2 14.9 1.6 3.4 .1-15.4 .1 15.2 .6-16 .8 15.6 .4-17.3 .2 1 .1 22.7 1.1-12.9 .2 11 .8-17.7 .7 27 .1-12.7 .1 20 1 5.3 .4-18 .6 23.9 .7-19.3 .2 13.1 .9 16.6 .1-18.8 .5 16.4 1-17.1 .3 31.5 .3-17.5 .4 16 .6-8.1 .8 22.5 .1-27.2 .4 25.4 1.1-12.9 .3 11.2 .3-13.1 .8 16.9 .5-6.9 .1 6 .5-18 .4 30.2 1.2-19.7 .2 28.2 .6 3.6 .1-25.5 .5 8.8 .6 17 .8 7.4 .4-22.5 .8 7.8 .3 15.1 .5 7.7 .4-23.3 .6 11 .2 22.9 .5-22.4 .8 22.1 .7-24 .2 33.1 .2-5.3 .8-14.2 .2 15.4 .1-8.1 .9-3.8 .2 32.5 .9-20.2 .4 11.6 .5-9.4 .9 8.5 .5 12.6 .2-17.4 .4 2.6 .5 21.8 .9-14.2 .2 17 .8-10.5 .2 24.5 .4 2.5 .4-25.5 .8 10.9 .6 26.4 .4-26.8 .2 23.1 1.2 5.9 .3-23.7 .2 8.9 .4 13.8 .5 3.8 .9-19.1 .3 28.2 .4-16.6 .5 3.7 .7 19.6 .4-16.9 .6 12.2 .2 8.1 .1-16.8 1.1 6.6 .4 13.5 .6-5.8 .6 9.8 .2 12.5 .8-18 .2 .5 .6 17.5 .8 16.9 .4-31.6 .7 .4 .3 23.4 .6 4.2 .1-17.9 1.1 24.2 .3-23.4 .1 .8 .8 29.6 .3-17.3 .8 13.2 .1-12.2 .1 18.9 1.3 7.1 .5-30.9 .5 30.9 .5-25.8 .9 28.9 .1-10.5 .5-4.6 .1 14.8 .7 7.4 .2-23 .6 6.6 .9 23.7 .2-12.8 .1 12.6 1.3-9 .3 10.8 .6-12.9 .2 12.4 .5-13.3 .7 25.6 .3-13.7 .3 14.2 .7-14 .7 16.9 .8-17.3 .2 27.9 .6-29.5 .5 20.7 .5 7.2 .1-11.4 .9-1.2 .4 15 .2-10.9 .5 17.3 .6 .4 .8-13.2 .6 25.9 .4-22.2 .2 .7 .3 19.4 .8 12.7 .2-20.9 1.1 .7 .4 24.1 .6-5.4 .3-18.6 .8 6.3 .3 12.1 .6-5.5 .3 12.2 .3-16.3 .8 19.6 .5-10.1 .5 25.9 .2-21.6 .8 12.7 .3-10.1 .6 15.1 .6-4.7 .1 10.8 .6 3.1 .5-22.7 .8 15.2 .4 15.2 .6 3.2 .1-19.2 1.1 3.9 .3 17.4 .6-10.1 .1 5.7 .4 13.7 .6-14.2 .4 10.5 .2-10.9 1 23.4 .7-17.3 .1 5.2 .9 19.8 .2-18.1 .3 12.4 .6 4.7 .5-7.5 .9 2.6 .1 13.8 1.1 2.4 .3-16.3 .2 1.9 .1 12.2 .8 3.7 .6-12.4 .6 5.8 .3 12.9 1-1.1 .4-15.5 .2 8.2 .8 18 .2-20.8 .7 20.2 .2-15.5 .8 19.3 .4-1.6 .2-19.4 1.1 28.5 .4-23 .7 23.2 .2-21.2 .4 7.6 .7 15.9 .1-14.2 .8 11.3 .4-4.1 .7 16 .3-14.3 .6 14.5 .3-13.6 .4 12.1 .7 7.5 .2-14.5 1.2 .5 .2 11.4 .2-10.6 .8 15 .2 3 .1-13.7 1.5 4.2 .3 19.9 .6-8.8 .1-15.6 .4 19.4 .4-14.5 1 14.3 .2-9.4 .6-.8 .3 12.1 .5-9.4 .1 12.6 1-13.7 .8 18.1 .3-13.3 .7 18.1 .7-13.1 .3 13.4 .5 2.7 .2-13.5 .4-1.7 .5 13.6 .7-10.6 .6 15.9 .4 1 .6-14.8 .3 14.8 .4-10 .7-3.1 .4 15.8 .5-2.9 .5-6.5 .9 7.1 .3 7.5 .3-13.2 .7 19.1 .6-12.2 .4 11.2 .7 1.2 .1-12.9 .5 19.8 .4-16 .6 15.7 .1-9.7 .8 10.2 .8-12.7 .8 17.1 .2-17.3 .2 2.2 .9 20.5 .2-16.7 .8 15.9 .2-18.6 .5 15.6 .5-13.9 .8 20.9 .5-14.5 .2 15.5 .6 4.4 .4-15.2 .5 11.9 .4-11.2 1.1 4.1 .2 5.8 .4-5.7 .4 8.1 .4 3 .9-13.5 .3-3.1 .3 20.1 .5-3.4 .9-12 .7 12.3 .3-7 .3-3.8 .3 15.5 .6-20.1 .1 15.7 1.6 5.9 .1-13.2 .2 8.6 .7-8 .3 .4 .7 13.4 .6-16.9 .1 17.3 .9-19.4 .4 16.6 .8-14.6 .3 19.8 .7 2 .2-17.2 .7 5.3 .1 7 .6 2.9 .7-16 .6 17.2 .4-11 .2 11.4 .1-24.7 .8 9.6 .9 11.8 .5-11.6 .2 15.3 .8-14.6 .5 16 .3 1.4 .4-25.2 .4 6.5 .2 16.8 1 7.6 .6-23.5 .3 4.4 .1 14 1.3-16.9 .3 15.7 .2 1.6 .8-19.6 .3 15 .7-10.6 .2 12.4 .6-16.8 .5 16.5 .4-14 .6-2.6 .4 17.1 .7 2.6 .4-23.4 1 19.8 .2-9.7 .2-3.8 .6 13.1 .4-1.5 .9-11.4 .1 16.2 .9-18.3 .6 17.2 .1-12.8 .4-3.1 .9 14.7 .7-.7 .3-17.3 .2 2.9 .4 16 1.3-15.8 .1 15 .1-.5 .6-15.4 .5 13 .5-15.4 .8 4.2 .2 12.5 .8-16.2 .5 14.5 .3 4 .2-12.7 .6-6.5 .5 12.3 .5 5.5 .5-20.2 .6 14.9 .3-11.2 1 9.7 .5-10.5 .5-.6 .5 17.1 .2-18.8 .7 13.9 .3-16.1 .3 16.1 .8-1.6 .6-14 .7 18.8 .1-20 .4-.2 .8 16.6 .3-18.2 .8 15.5 .2-9.8 .3 12.1 .7-2.2 .7-16.6 1 3.1 .1 13.4 .6-7.6 .1-12.8 .5 2.4 .1 7.8 .9-6.4 .8 11.1 .5-3.5 .2-7.6 1 3.7 .3 6.1 .5 6.2 .5-16.1 .9 13.3 .1-19.4 .7 3 .3 8.8 .2-13.7 .1 11.2 1-17.6 .3 21.4 .5-17.2 .5 11.5 1 2.2 .4-8.9 .2-4.5 .5 13.4 .6 3.5 .4-21.9 .6 .2 .6 16.7 .2-11.1 .9 7.9 .2 3.7 .8-11.3 .2 9.8 .7-21.5 .3 4.7 .3 12.5 .7-1.6 .4-9.5 .6 8.9 .1-10.6 1 11.9 .2-23.1 .6 24 .1-14 1.7-1.6 .1 12.2 .5-13.3 .4 13.3 .4-16.6 .4 13.5 .5 1.3 .7-14.6 .2 3.2 .1 13.1 1.1-16.4 .6 9.6 .4-10.1 .2 13 1.1-20.3 .4 26.7 .6-11.9 .1-11.3 .6 1.8 .2 15.8 .8-6.9 .6-10.1 .8 17.4 .2-16.9 .8 .9 .3 15.6 .6 .6 .3-14.9 .3-.8 .8 7.3 .1 1.3 .2-13.1 1.3 16.1 .1-14.6 .4 1.5 .4 11.4 .8-3.3 .2-17.7 1.1-.4 .1 20.7 .4-5.3 .4-9.5 .7 11.5 .3-13.4 1 17.8 .5-23.8 .5 5.5 .5 14.1 .1-11 .8 14.4 .8-1.4 .2-19.6 .2 24.1 .9-15.9 .2 10 .8-10 .2-2.7 .5 19.6 .8-2 .1-17.2 .5 13.7 .9-19.8 .1 5.1 .8 14.4 .3 1.1 .4-20.1 .9 19.7 .1-22.3 .9 7.9 .5 11.5 .1-14.6 .2 14.3 .9-11.6 .1 18.6 .9-13.8 .8 14.1 .2-.2 .4-11.2 .5 9.4 .1-12.6 1 13.5 .3-12.9 1.2-.1 .2 13.5 .3-1 .8-16.3 .2 16.4 .4-12.7 1.1 1.1 .2 15.5 .4 4 .2-14.3 .7-1.1 .7 10.6 .4-13.9 .2 23.6 1.1-4.5 .4-14 .1-1.8 .1 9 1.1-3.1 .7 5.4 .1-12.2 .1 12 1.4 9.8 .4-15.8 .7-3.5 .2 18 .3-16.2 .5 17.3 .9-13.4 .1 18.9 .6-16.2 .2 4 1.2-11.5 .2 17.4 .2-7.7 .9 15.2 .1-18.2 .6 14.4 1-.1 .3-12.6 .2 15.6 .8-10.7 .6-4.7 .1 13.3 .4 1.9 .4-20 .7 30 .4-20.2 .5-2 .6 14.4 .8 6.1 .1-19.4 .5 4.9 .1 10.7 1-20.5 .5 16.9 .8 4.6 .2-14.9 .8 15.9 .1-8.8 .7-5 .4 17.7 .8-12.9 .2 12.1 .6 2.2 .2-17 .7 19.3 .7-20.9 .4 18.8 .2-13 1.4-.4 .1 15.9 .3 2.9 .4-19.3 .5 2.7 .8 16.1 .5-14.7 .4 11.8 .7-13.2 .1 17.2 .8-12.8 .2 9.3 .9 9.2 .3-16.3 .6-1 .5 16.7 .2-12.8 .4 12.2 .6 2 .1-20.8 1.2 23.9 .2-17.8 .4 2.2 .8 12.5 .2-7.7 .9 8.5 .1 6.3 .1-10 1 11.3 .3-16.2 .6 16.7 .8-13.6 .6 1.4 .1 16.2 .6-3.9 .7-10.9 .2 2.3 .6 12.9 .4-21.4 .6 19.6 .4-9.9 .2 9.1 .8-11.8 .2 20.6 1.4-1.8 .3-17.7 .2 18.9 .1-12.6 1.3 15.4 .3-18.4 .2 12.7 .1-12.9 .9 15.8 .4-12.5 1.2 10.2 .3 10.9 .2-19.3 .3 16.1 .7 1 .1-12.3 1.3 2.8 .1 10.1 .9-15.5 .4 17.1 .1-15.9 .6 17.5 .5-.1 .5-10.4 .6 1.4 .7 14.3 .3-3.2 .2-8.9 .7-4.9 .7 17.9 .2-7.3 .5 11.3 .5-10.5 .4 7.6 1.1 1.1 .3-10.6 .7 19.8 .4-20.1 .1 .5 .6 13.4 .5-10.1 .1 17.7 .8-12 .6 7.5 .5-11 .3 17.1 1.2-6.8 .3-9.9 .1 3.5 .9 13.6 .1 1 .6-13.3 .6 2.2 .4 14 1-13.8 .2 8.3 .2 5.8 .1-15.4 1.3 5.6 .5 5.9 .1 3.8 .4-11.2 1 14.4 .5-13.3 .2 15.7 .1-15.5 1 3.3 .2 14.6 .8 .5 .2-13.9 1 .3 .2 9.7 1-8.6 .2 13.2 .2 .9 .5-11.6 .6 .8 .7 7.7 .4-5.3 .4 6.7 .9-7.2 .1 11.4 .6-12.9 .2 11.4 .7 1.2 .1-14.9 1.2 9 .2 12.7 .8-4 .5-14.1 .1 3.6 .9 13.1 .3-11.5 .4 8.5 .9-6.5 .3 10 .7-.1 .4-10.9 .2 11.9 .3-14.5 .8 15.8 .7-17.2 .2 5.3 .8 12.9 .3-13.3 .4 16 .5-3.3 .1-6.8 .8 9.9 .9-10.2 .1-5.2 .6 16.6 .6-15.8 .7 14.6 .7-7.8 .2 9 .7-.3 .1-13.4 .4 2.3 .9 9.6 .6-1.2 .1-9.3 .4 .1 .1 16.9 1.3-16.5 .5 13.3 .1-16.1 .8 22 .6-16.8 .5 14.2 .3-9.8 .6 11 .3-8.8 .1 8.5 1.3-15.1 .3 18.3 .8-2.2 .3-11.3 .2-.4 .4 13.2 .6-1.3 .8-10.4 .1 12.7 .8-18.8 .7 12.3 .4 7 .1 3.5 .2-20 1.2 15.3 .2-15.9 .4 16.2 .4-8.2 1-.2 .1 13 .5-3.9 .1-6.9 1.4 5.1 .4-4.9 .6 7.8 .3-9.4 .8 1.9 .2 15.1 .7 .3 .3-14.5 .4-.4 .7 11.8 .5-13.5 .1 11.7 .5-8 .8 13.8 .4-4.5 .7-12.3 .7 .8 .2 12.4 .2 1.3 .2-11.5 .9-1.3 .5 8.5 .4 6.1 .2-16.5 1.6 11.4 .1-6.9 .3-3.6 .6 13.8 .3-13.4 .4 13.9 1.1-12 .3 10.8 .1-11.6 .6 8.7 .5-6.7 .1 11.6 .8-3.4 .4-8.8 .8 2 .4 6 .4-.2 .1-10.9 .9 5.5 .6 8.4 .5 6.4 .7-18.6 .3-5.2 .3 15.6 .8-.3 .2-10.1 .6 11.6 .8-8.8 .6-4.5 .2 15.2 .6-3.3 .7-13.7 .3 13.3 .3-8 .5 13.8 .2-17.1 1.3 13.7 .3-15 .4-1.7 .7 16.5 .2-8.8 .4 7.5 .9-6.8 .4 13.4 .8-15.7 .2 9.5 .2-14.2 .1 10.3 .9 2.6 .8-9.9 1-.5 .1 9.8 .5-6.5 .4 10.9 .4-13.3 .4 12 .6-16.7 .3 12.1 .9 .1 .5-4.9 .2-2.7 .7 7.3 .7 0 .1-12.9 .6 19.7 .2-12.3 .7 10.5 .1-17.4 .9-.1 .4 16.4 .7-17.1 .7 18.7 .2-1.2 .7-16.3 .6-.1 .1 11.7 .5-7.7 .4 12.7 .6 1.9 .6-16.5 .4-5.2 .6 17.3 .6-12 .2 9.2 1.4 .5 .1-9.2 .3 2.4 .7 7.1 .2 6.3 .8-14.3 .5-1.3 .1 11 1-5.8 .3 6.9 1-14.5 .1 10.9 .1-11.2 .1 16.8 1.5-3.4 .3-15.4 .2 9.9 .5 7.5 1-11.1 .2 10.6 .2-10.6 .9 9.4 .1-8.3 .8 8.5 .6-9.4 .1 11.2 .6-13.5 .5 9.4 .9-6.9 .3 10.3 .6-11.5 .4 11 .7-13.4 .1 15.4 .8-13.9 .4 10.4 .2-8.1 .4 8.3 .8-2 .3-4.1 .6 9.5 .7-11.7 .3 10.3 .4-5.2 .5-9.9 .1 11.8 1.1 4.6 .7-12.9 .3 3.6 .6 11.9 1-3.8 .1-9.5 .3 9.9 .3-11.7 .5 7.1 .8 10.1 .2-20.4 .8 18.2 .2-9.2 .4 7.8 .6-2.7 .6-8.1 .6 14.3 .7-10.1 .5 7.4 .5-8.5 .3 4.1 .4-8 .5 18.3 .3-13.8 .6 0 .4 11.4 .7 3.4 .8-18.6 .6 16.1 .3-10.7 .3 .4 .8 10 .5-14.4 .1 18.9 .5-16.4 .5 12.1 .9 1.7 .2-12.1 .4 12.3 .1-7.9 1.7-3.3 .1 10.3 .6-9.3 .3 9.6 .2 3.7 .6-6.9 .5-7.6 .3 21.5 .6-20.4 .2 11.5 .9-12.6 .7 13.3 .2-1.1 .6-8.1 .8 11.6 .2-10.8 .4-2.1 .6 12 .5-1.1 .4-7.7 .5-4 .1 16.2 .9-17.9 .4 20 .6-10.4 .9 7.3 .3 .4 .4-10.1 .5 4.3 .4 10.4 1-12.2 .3 10.8 .3 4.5 .4-12.7 1.1 14.3 .3-15.1 .3 1.3 .6 8.8 .4-11.1 .3 12 1 2.7 .3-14.9 .3 19.6 .4-13.7 .6 8.2 .8-12.8 .3 14.7 .4-8.6 .6-4.8 .7 12.6 .2 0 .1-5.3 1.3 8.8 .3-9.6 .3 10.4 .8-9.1 .6 7.4 .3-12 .3 2.9 .1 16.1 1.3-4.2 .3-13.1 .3-5.4 .5 15.9 .5 .9 .4-7 .5 1.7 .2 8.4 1.2-4.9 .2-5.5 .5 16.6 .7-15.1 .2 2.4 .6 11.8 .9-16.5 .4 11.3 .6 .8 .4-11.2 .7 2.8 .2 11.7 .3-12.7 .3 15.8 1.1-11.7 .4 9.6 .6 1.8 .4-9.7 .3 9.6 .3-8.3 .5-1.9 .4 9.8 1-.7 .1-11.4 .6 5.7 .4 14.8 .5-3.1 .4-12.1 1 3.8 .1 8.6 .6-11.3 .3 11.5 .7-15.2 .5 11.7 .6 3.7 .2-7.5 .6 10.7 .4-12.7 1 12.1 .5-9.6 .2 10.3 .8-8.5 .5-7.9 .4 17.9 .6-12.9 .5 11.7 .7-5.1 .3 7 .5 3.6 .4-16.8 .2 11.8 .1-13.4 1.3 5 .5 11.1 .2 2.2 .5-14.3 .8 3.5 .2 7.8 .8-9.4 .5 12.4 .7-.2 .2-11.5 .3 4.2 .4 7.3 .5-.8 .4-10.3 1.1 6.3 .4 7.5 .1-12.3 .6 13.8 .6-10.3 .4 12.2 .8 .6 .2-12.7 .6 11.2 .4-11.7 .5 10.1 .7-7.6 .3 10.8 .5-11.9 .9 11.4 .4-9.6 .2 0 .5 7.9 .9-4.1 .4 8.1 .1 .3 .6-7.6 .8 1.3 .2 8.4 .6-18.2 .7 13.8 .1 4.1 .6-8.3 .8 9.3 .1-14.2 .7 17.8 .4-15.7 .6 1.6 .4 8.8 .5 3.4 .4-10.7 .6 1.5 .4 8.2 .6 2.7 .1-15 .9 3.8 .3 8.8 .7-4.6 .7 7.8 .2 1.4 .4-7.7 .7 5.6 .4-12.9 .7 14.6 .2-10.7 .6 11.4 .2-10.8 1-2.8 .6 16.3 .4-10.7 .4 11.2 .6-15.7 .3 11.3 .5 3.1 .1-6.7 1.3 .3 .2 10.7 .9-2 .3-5.7 .4 5 .6-11.5 .3 1.9 .5 8 .5 5 .1-12.4 1 12.3 .2-13.4 .8-.9 .2 12.8 .7 2.5 .3-11.4 .7 11.7 .4-9.9 .6-5.9 .8 17.7 .5-13.2 .1 15.4 .6-12.5 .1 10.7 .9 1.2 .3-11.8 .6 3.3 .1 6.3 .9 1.2 .2-8.7 .8 9.8 .4-9.2 .8 .7 .4 5.7 .6 5.3 .4-16.9 .9 16.3 .3-15.5 .7 19.3 .3-14.2 .2 7.6 .4-8.3 1.1 10.8 .1-10.7 .6 3.3 .2 6 .8 .4 .2-8.3 1.1-3.6 .4 17.7 .6-10 .1 8.4 .9 .9 .3-9.1 .3-3.4 .1 9.8 1 4.4 .2-13 1.4 11.3 .1-7.1 .2-5.1 .8 15.8 .3 2.2 .3-23.8 1 18.4 .1-7.3 .8-5.3 .4 11.8 .4-9.6 .2 15.4 .6-3.5 .2-8.6 .8 9.1 .4-10.4 .7 8.3 .3-11 .8 3.3 .4 12.9 .5-10.4 .3 10.1 .8-1.8 .2-7.1 .7 7 .1-10 .9 12.4 .3-15 .6 15.1 .2-8.5 .8-3.4 .5 7.3 1.3-5.1 .1 13.7 .1-5.1 .9-8.7 .3 10.2 .3-7.1 .5-3.4 .9 12.2 .3-8.5 .3 7 .5-9.7 .9 12.8 .7-8.2 .2 6.9 .6-10.3 .2 11.8 .6-3.2 .4-9.8 .4 5.8 .6 8.9 .9-11.5 .4 7.7 .5-8.7 .5 10.4 .7 5.6 .2-15.7 .7 11.1 .1-8.2 .9 1.2 .4 3.9 .9-.3 .1-6.9 .2 11.4 .3-7.9 1.1 8.3 .1-10.1 .6 2.1 .4 15.1 .4-15.8 .4 11.4 1-1.9 .1-13 .5 .3 .5 13.5 .9-1.8 .1-11.6 .7 16.5 .4-15.2 .5 9.8 .7-9.6 .7 3.9 .1 5.5 .4 3.5 .8-12.9 .3 11.9 .8-9.6 .5 11.5 .4-5 .4-5.9 .3 10.5 .7-9.4 .6 10.1 .3-7.3 .5 10.2 .4-11.7 .9 6.1 .5 3.7 .4-10 .4 6.5 .2-9.5 .7 4.4 .8 7.5 .1 .8 .8-8.4 .3-3.3 .3 13.4 1.4-3.1 .1-10.3 .1 .2 .1 9 1.1-5 .2 11.4 1-16.7 .2 12 .6 2 .4-8.5 .5 3.3 .7-2.9 .4 9.2 .4-5.2 .9 5 .1-9.6 .5 2.8 .4 8.4 .9 .2 .5-10.7 .3-.5 .4 11.9 .4-12.9 .1 13 .9-12.4 .6 9.2 .5-11.6 .3 14.6 .6-1.4 .8-10.2 .7 4.4 .3 6.5 .8 4.1 .2-13.4 .4 7.6 .7-8.8 .5 2.6 .2 8.7 .6 2.2 .4-10.9 .4 8.8 .2-10.6 .9-1.6 .4 9.8 .5-8.2 .4 8.6 1.1-8 .3 12.2 .2-4.2 .6-10.1 .4 12.9 .4-9.2 1.1 7.6 .1-10.8 .8 11.5 .2-6.3 1-3.2 .2 9.3 .7 5.8 .4-14.5 .9 10.2 .1-9.1 .6 9 .3-10.6 .7 9.5 .4-8.4 .1 3.3 .2 6.6 .8-11.7 .6 9.4 .6 6.5 .6-10.2 .2-.5 .4 12.2 .7-5.6 .7-9.1 .6 7.3 .1-8.1 .7 2.7 .4 10.1 .9-6.6 .3 5 .3-8.1 .4 8.2 .6-1.7 .5-7.2 .9 .5 .1 10 .4-13.7 .4 13.6 1-.2 .5-10.7 .2 2 .3 9.7 .7-11.7 .8 10.7 .1 4 .2-12.6 1-1.3 .7 8.6 .2-7.6 .5 8.8 .4-1.2 .8-4.6 .4-2.3 .7 10.7 .6-11.7 .1 10.1 .5 .4 .5-8.9 .8 11.4 .2-15.5 .8 11.6 .5-4.9 .6-1.4 .4 10.4 .3-11.6 .7 8.8 .2 .6 .7-10.5 .3 9.7 .5-9.6 .9 1.3 .3 9.5 .3-10.4 .5 11.1 .5 6.9 .8-17.8 .2 9 .5-8.8 .6 3 .6 4 .3 7.2 .3-15.3 1.2 1.4 .3 11.2 .5-7.4 .2 5.7 1-1.7 .3-4.5 .3 7.7 .6-10.1 .3-.2 .5 9.4 1-6.5 .2 7 .6 3.4 .5-13 .1 5.5 .4 7.3 1.1-5 .3-8.6 .2 3 .5 10.5 .5-9.2 .1 11.4 1-10.5 .1 8.4 1.3-9.9 .3 7.9 .2-8.9 .5 9.6 .6-11.5 .4 9.6 .7 5.4 .3-13.2 .9-.7 .1 11.7 .5 .5 .1-15.7 1.4 2.9 .3 9.3 .8 2.8 .3-9.6 .2-3.6 .3 15.4 1.2-10.8 .3 11.6 .3-15.4 .6 12.1 .2-1 .1-6.8 .9 8.8 .2-8.3 1.3 8.2 .4-11.2 .3 3.6 .7 6 .1 1.8 .1-11.3 1.5 3 .2 9.3 .7 .6 .4-10 .1 2.8 .2 7.2 1.4-11.3 .3 10.9 .3-2.2 .7-8.7 .1-1.5 .9 14 .5 0 .5-13.2 .5 11.3 .2-8.5 1 .7 .3 11.8 .1 .3 .8-16.5 .6 13.4 .4-9.4 .4 3 .4 6.7 .6-11.4 .6 11.3 .8-9.4 .2 9 .2-9.2 .9 12 .3-12.6 .7 10.2 .1-9.1 .9 5.9 .1-6 .9 12.4 .3-8.5 .7 7.6 .6-10.8 .3 7.5 .2-6.3 .2 7.7 1.6-2 .1-6.4 .3 2.1 .6 12.8 .2-3.5 .2-7.9 .9 7.4 .8-10.5 .1 11.7 .9-13.2 .6 10.6 .1-9.8 .6 3.6 .6 7.5 .3-9.3 .5 10.3 .5 1.1 .4-10.8 .5 0 .8 8.5 .3-8 .7 11.8 .4-7.4 .4 4.3 .4-1 .5-9.7 .5 11.2 .4-6.5 1-1.5 .1 8.4 .6 .3 .7-9.3 .8-2.2 .2 12.6 .2-3.7 .5-6.5 .9 .3 .1 8.2 .5 4.8 .9-9.5 .5 5.6 .2-8.7 .5 10.1 .8-7.1 .2-1.6 .8 7 .9-8.1 .1 9 .6-2.9 .1-9.5 1 2.8 .2 11 .6 .2 .2-10.7 .9 6.3 .1-6.9 1 7.9 .3-7.7 .6-2 .4 11.5 .1 6.2 .9-17.1 .1 1.1 .2 9.7 .8-9.3 .2 9.1 .9-9.8 .7 10.7 .6 .5 .2-7.9 .5 .1 .7 10 .6-2.4 .1-7.5 .5 11.8 .9-9.8 .1 4.7 .8-7.8 .4 0 .7 9 .3-.2 .4-10.9 .6 3.6 .3 10.2 .7-9.3 .4 7.3 .4-.7 .8-8.9 .8 2.3 .2 9.6 .2 1.2 .9-9.2 .6-2.5 .1 7.9 .5-13.8 .8 10.8 .2-5.3 .3 8.9 1.1 .2 .4-5.3 .5 7.3 .1-10.2 .5 12.7 .1-16.5 1.5 10.8 .2-6.9 .2 .2 .1 6 1.1-6.3 .6 9.6 .8-7.1 .3 9.5 .6-12.7 .1 7.8 .6 3 .6-8.7 1-.8 .1 8.3 .1 .8 .1-7.1 1 2.6 .8-8.1 .1 3 .4 10.7 .8-1 .7-11.4 .1 11.9 .6-11.2 .5 6.6 .5-7.4 .5 9.5 .7-4.3 .3-.9 .7 6.1 .6 2.2 .5-7.4 .6-1.6 .4 5.7 .6 4.2 .1-11.3 1 3.2 .3 7.8 .5-12.8 .5 11.2 .6-6.7 .1 5.6 .6 1.9 .4-6.9 .4-3.2 .5 8.9 .5-9.2 .2 10.3 1.4-11.2 .2 10.4 .6 .5 .5-4.1 .2-1.1 .7 7.2 .3-.3 .4-8.4 .7 8.4 .2-8.7 .8 6.5 .2-6.7 .7 7.1 .5-3.6 .6-6 .2 11.3 1.1-7.6 .4 8.8 .2-10.7 .1 10.7 .8-7.4 .1 8.8 1.1-2.3 .4-9 .4 6.8 .6-4.8 .6 2.1 .6 3.1 .7 3.8 .4-8.1 .5 8.1 .4-12.2 .3 4.7 .5 6.6 .5-2.6 .3-7.8 .7-3.7 .1 14.1 1.3 2.1 .1-9 .4 11.3 .4-13 .7-5 .4 15.5 .5-4.3 .1-3.7 1.1-3.5 .4 8.3 .6 1.9 .6-8.1 .3-.5 .5 7.3 .4-8.1 .8 9.8 .3-1.3 .8-8.5 .1 10.6 .8-10.3 .4 10.4 .6-12.3 .4 1.2 .2 10.4 .8-12.2 .3 14.6 .5-2.6 .1-10.2 1.3 9 .1-8.4 1 2.5 .1 5.9 .4-1.1 .9-10.6 .1-.1 .5 11.6 .9 .8 .1-10.7 .7 3.2 .7 5.2 .3 5.2 .4-11.9 .5 10.2 .3-15.2 .8 4.1 .6 11.4 .6-12.1 .4 16.4 .2-1.6 .6-9.8 .8 5.4 .1-8 1 12.7 .3-10.7 .7 3.2 .4 2.6 .7 1.4 .3-9.6 .1-2.6 .2 11.9 1-8.4 .4 10 .4-7.6 .4 10.9 .6 .3 .6-16.3 .5 13.7 .4-11.8 .9 10.9 .4-6.5 .6-3.9 .5 11.1 .1-.7 .6-10.1 .5 9.5 .5-12.1 .5 11.1 .7-10.2 .3 9.7 .5-6.9 .8 .3 .1 12.7 .6-6.1 .1-7.4 1.3 1.3 .4 7.4 .7-6.4 .2 6.7 .6-5.4 .5 6.8 .3-1.3 .6-10 .2 2.6 .4 9.5 .8 2.8 .2-17 1.1 2.5 .4 12.2 .2-11.4 .8 9.3 .2-11.9 .3 11.6 1 3.6 .1-11.5 .5 .7 .4 7.2 .8-7.9 .7 9.5 .9-1.9 .1-5.2 .2 7.5 .4-10.3 .9 2.9 .2 5.1 .4-14.4 .5 17.5 .9-3.6 .5-4.2 .1 9 .2-9.6 .9-2.3 .8 8.5 .2-6.6 .8 7.5 .1-10 .9 14.7 .3-3.1 .6-10.9 .2 12.1 .8-16.6 .2 12.7 .9-5.2 .3 6.8 .4-8.1 1 6.6 .3-4.6 .9-.5 .1 5.8 .6-4.6 .3 4.4 .7-7.2 .4 9.3 .7 1.9 .3-10.8 .2 .2 .3 7.5 1-7.6 .1 7.5 .5-2.3 .4-3.9 1 5.7 .5-5.9 .9 6.7 .1-7.1 .3 9.2 .2-10.2 .6-1.3 .5 6.5 .6 2.5 .7-8.3 .2-2.3 .8 13.1 .3-.5 .3-12.4 1 2.1 .1 8 .5 0 .1-5.8 1.3 1 .5 5.3 .6-6.6 .3 6.9 .6-.7 .1-8.4 .5 11.2 .4-9.3 1.1 1.1 .1 7.9 .8 3.1 .2-11.4 .4-2 .9 7.5 .5 3 .1-8.6 1.1 7.4 .2-7.8 .8 6.9 .3-6.3 .6 .2 .1 4.7 .8-5.1 .1 8.7 .7-1.4 .6-5.4 .2-1.3 .9 10 .3-3.6 .6-8.1 .2 2.7 .2 8.3 1-1 .2-8.3 .8 7.6 .4-10.2 .8 10 .1-7.7 .6-1.3 .1 10.1 1-9.4 .4 9.7 1.2-9.7 .1 7.1 .9-7 .1 11 .6-10.3 .4 11.1 .2-10.5 .8 9.1 .7-.6 .3-10.3 .3 10.7 .3-6.7 1.3 4.6 .1-5.9 .2-1.6 .7 6.4 .6-1.3 .1-9.4 1 2.8 .4 12.9 .2-.9 .1-9.8 1 .4 .2 9.1 .6-2.7 .8-5.5 .4-1.2 .4 8.3 1-1.1 .2-6.4 .3 5.7 .7-5.4 .2 7.2 .5-11.8 .9 .9 .5 10.7 .1-6.6 .5 7.8 .5-11.4 .9 9.5 .5-5 .5 5.8 .1 .6 .4-9.4 1.1 10.1 .3-8.8 .2 13.5 .2-13.1 1.2 9.6 .1-11.6 .6-2.8 .5 12 .4-7.5 .5 3.4 1.1-.7 .2 4.1 .2-6.5 .9 6.5 .7 2.4 .2-7.3 .4 3.8 .4-7.3 .8 1.7 .4 9 .4-2 .4-8.4 1 9.8 .2-11.9 .2 11.4 .5-7.3 .9 6.6 .5-8.6 .1 16.9 .1-16.1 1-1.4 .3 7.9 1-5.5 .1 7.2 .7-7.2 .3 8 .6-.9 .8-7.1 .6 0 .1 6.3 .6-10.5 .6 11.7 .7 2.5 .1-11.3 .4 3.5 .6 4.3 .5 4.5 .3-11.8 .7 11.7 .7-10.3 .7-2.2 .3 11.9 .2-9.3 .2 8.4 1.4-9.1 .3 7.3 .5-7 .1 8 .6-2.2 .7-6.3 .6 12.7 .5-13 .1-2 .1 10.9 1.1 3.2 .4-14.8 .4 1.5 .1 9.5 1.5-.7 .3-8.5 .1 11.5 .1-7.1 1.3 4.3 .5-8.2 .9 .4 .1 7.7 .1-10.5 .4 10.9 .8-7 .2 4.9 .6-8.5 .9 15 .1-15.3 .9 9 .5-6 .5 8.6 .5-8.8 .5 11.2 .7 3 .2-11.8 .7 5.2 .4-5 .7-3.1 .2 9.3 .6 5 .5-13.3 .2 10 .1-8.2 1.2 6.9 .1-6 1 4.1 .3-5.6 .8-1.9 .2 9.1 .6-1.5 .4-5.6 .3 10 .3-12.8 1.1 11.7 .4-8.1 .1 4.8 .2-6.9 .8 1.9 .8 7.5 .8-2.8 .3-5.6 .7 1.8 .2 4.4 .4 .3 .4-7.1 .5 9 .4-10.2 1 10 .3-7 .4-3.6 .7 7.3 .1-7.7 .4 14.1 1.4-3.7 .1-8.4 .1 .7 .2 7.7 .9-7.2 .4 4.7 .5-6 .6 7.7 .6-6.6 .4 9.8 1-10.3 .2 8.9 .3-9.2 .5 10.1 .6-13 .3 7.7 .5-3.4 .4 5.2 .6-7.9 .1 8.5 1.5-7.4 .2 5.5 .8 2.9 .3-6.8 .2 5.7 .5-4.1 .4-5.9 .1 13.4 1.7-3.3 .1-7.4 .1 8.1 .4-6.3 1.1-5.7 .1 13.5 .4-8.9 .6 9.5 1 .2 .2-9.5 .4-1.1 .2 9.4 .8 .8 .6-9.8 .6 1.9 .1 7.4 .6-1.3 .7-6.2 .2 6.6 .8-9.3 .7 8.7 .1-8.1 .9 8.3 .1-8.7 .8-1.8 .1 10.1 .9-6.4 .2 7.8 .9-5.3 .4 6.3 .9-1.5 .1-5.2 .1 6.6 .2-10 1-2.3 .7 10.4 .6-10.1 .3 10.2 .4 2.4 .2-7.1 .6 7 .1-8.2 1.1 8.5 .7-6.6 .3-5.2 .7 8.5 .3 2.6 .2-7.8 .6 8.5 .4-8.6 .8-3 .7 11.6 .5 0 .5-7.7 .7 8.5 .2-10.1 .3 .4 .7 6.5 .4 1 .3-7.1 .7 10.5 .7-12.6 .6 8.5 .4-6 .5-5.1 .2 13.6 .5 2.5 .4-13.7 1 1.4 .4 6.7 .3-6.8 .4 9.9 .8-.6 .5-9.1 .1-.5 .9 11.3 .5-2.6 .4-9.2 .6 1.6 .5 9.9 .2-9.3 .5 4.9 .9 7.2 .3-16.5 .4 3.1 .2 7.8 .8-1.1 .4-11.1 1 6.2 .3 4.5 .6-6.5 .3 9.1 .6-.2 .1-9.4 .7 .6 .3 11.2 .5-9.6 .1 7.9 1.4-.3 .3-8.7 .2 8.1 .4-8.8 .8 6.6 .4-6.1 .4 7.4 .6-8.4 .4 1.2 .1 10 1.5-9.8 .2 10.9 .4-4.2 .4-5.4 .4-.7 .9 5.3 .5-.5 .2-6.3 .4-2.1 .9 13.1 .5-9.5 .2 6 .6-5.1 .4 5.8 .4-6.6 .5 6.6 .9-11.1 .1 12.5 .6-9.4 .4 8.3 .6-4.3 .3 7.3 1-4.6 .1-6 .5 9.3 .4-10.8 .6 .3 .9 11 .1-14.3 .6 13.1 .6-5.1 .4-4.6 .8-.6 .4 14.1 .6-2.9 .5-8.2 .2-1 .1 10.4 1.4-11.5 .2 7.6 .6 4.3 .4-11.4 .4 9.8 .2-12 1.2 13.4 .2-11.2 .4 10.3 .4-9.8 .5 7.7 .4-6.9 .5 .1 .8 9.2 .2-11.1 .2 7.3 .8 1.2 .5-7.4 .9-2.1 .2 9.2 .4 .4 .2-6.8 .8 6.6 .4-14.4 1 14 .2-5.6 .8 1.2 .5 7.9 .6-4.3 .1-6.2 .8 8.6 .2-7 .6 5.4 .6-6.9 .2-3 .6 9.1 .8-5.9 .5 10 .7 2.9 .2-10.1 .3 8 .8-6.1 .6 2.8 .4-8.3 .3 1.1 .3 6.5 .9-2 .2-8.4 .5 15.1 .1-16.7 1 12.3 .7-6.4 .1 8.8 .9-8.9 .3 5.6 .3-8.6 .6 3.8 .3 4.9 .6-6.2 .6 12.3 .4-6.3 .4-6.7 .6 .3 .2 8 .8-7.6 .1 5.4 1.5-4.1 .3 10.7 .3-5.5 .7-8.5 .5 1.2 .2 8.7 .5 2.6 .7-13.4 .6 3.2 .4 7.8 .6-8.9 .4 9.4 .2-10 .5 8.6 .5-7.1 .9 8 .7 .7 .3-8.1 .2-4.5 .7 12 .2-12.3 .5 13 .7-.4 .7-9.6 .5 2.7 .4 10.7 .7-3.1 .3-9.5 .7-2 .4 9.5 .3 2 .4-10.5 .4-.2 .9 8 .6-4.6 .4 8 .1 3.9 .9-12.8 .1 8.4 .5-7.6 .9-1.5 .4 9.7 .3-1 .4-9 .9 1.4 .2 6.3 .6-7.5 .2 7.2 .8-6.6 .3 8.1 .5-10.2 .2 7.9 .8-5.7 .4 6.9 .8-9.1 .2 9.6 .6 .5 .9-5.9 .2 6 .1-8.8 1.3 12.5 .3-11.6 .4 5.6 .7-9.8 .7 4.3 .2 11.2 .3-4.7 .3-11.4 1 13.3 .2-7.8 .4-.1 .8 7.8 .2-9.9 .6 11.6 .5-3.9 .5-7.3 .4 1.3 .8 6.9 .4 2.8 .7-12.3 .1 9.1 .4-10.8 1.4 16 .1-11.9 .1 2.7 .2 4 1.4-10.8 .3 10.6 .3-8.3 .2 8.8 .8-10.4 .3 12.7 .7-2.5 .3-8.5 .7 7.6 .6-8.3 .2 4.3 .5 8.1 .5-9.8 .2 7.5 1-5 .3 2.7 1-4.2 .4 9.6 .2-4.6 .7-5.4 .2 7.5 .8-9 .4 1.2 .4 7.3 .4-3.8 .4-3.6 1-2.8 .5 9.4 .2-.7 .7-5.2 .4-2.1 .6 8 .4 1 .2-8 .6 12.2 .1-11.5 1.1 10.4 .4-9.5 .6-.7 .6 8 .7-10.7 .3 10.5 .2-1.7 .6-6.9 1.2-1.4 .1 6.5 .2 1.7 .7-10 .2 3.2 .9 9.4 .1-9.8 .6 8.7 .9-.2 .1-8.7 .4 9.5 .2-8.2 1.3 .1 .1 8.3 .8-6.2 .4 6.9 1-.4 .1-11.1 .6 9.4 .4-8.8 .1 9.5 .1-11.1 .9 2.4 .1 6.8 1.3-7.2 .4 7.2 .2-8.1 .2 14.6 1.3-10.8 .1 8.3 .4-12.9 .2 12 1.3 .9 .4-10 .2 .3 .3 7.7 .8-10 .2 9 1.4-5.4 .1 7.6 .7-12.4 .2 11.5 .4-1.6 .6-8 .6 .9 .5 9 .2-.2 .3-6.8 1.1-4.7 .3 8.7 .3-6.3 .3 8.2 .8-9 .2 7.5 1.2-1 .3-5.8 .6 8.5 .1-5.3 .6-1.6 .2 5.7 .6 1.6 .2-10 1 11.2 .3-11.9 .6-1.7 .1 9.8 .8-5.5 .5 10.7 .7-9.3 .3 7.6 .5-12.1 .5 7.8 .5-4.6 .4 6.7 .8-5.3 .4 5.9 .4-1 .2-4.8 1.6-6 .1 13.3 .6-1 .3-10.3 .8 11.7 .2-8.1 .7 4.7 .1-4.6 1 9.6 .3-14.7 .7 13.6 .3-10.4 .3 9.1 .2-8.1 .6 7.8 .4-9.6 .6 11.2 .1-6.9 1.3-3.9 .4 9.9 .8-7.5 .3 5.7 .7-10.2 .2 10.9 .4-1.6 .3-5.3 1.3 8.2 .1-8 .2-.1 .1 5.5 1.4-6.5 .2 9.5 .2-9.7 .2 11.4 .9-13.3 .8 6 .2-6.4 .7 9.4 .3-9.3 .1 12.6 1-2.7 .7-7.3 .2 3.9 .7-5.4 .7 11.4 .1-9.6 .4-.9 .2 5.9 1-6 .3 8.3 .5-1.9 .9-5.1 .1-.3 .9 5.7 .1 1.2 .6-7.1 .8 9.1 .5-16 .2 4 .1 9.6 1.2 2 .5-8.9 .3-.2 .6 7.8 .8-6.5 .3 6.7 .2 .7 .1-10.9 1 10.8 .4-7.5 1 9 .3-12.1 .5-.2 .4 11.1 .3-2.5 .5-4.7 1.2 6.4 .1-6.9 .9 7 .1-8.6 .1 10.2 .8-8.2 .8-3.2 .3 8.8 .7 2.6 .2-9.5 .2-2.1 .6 9.8 .8 2.5 .1-10.4 .9-1.4 .5 6.7 .1-5.3 .5 5.8 .9-3.1 .5 6.9 .2-8.4 .7 8 .6-9.1 .2 8.6 .4-5.6 .8 7.6 .2-8.7 .2 6.1 .8-2.5 .5-5.4 .6 5.9 .3-6.3 1 6.6 .4-6.4 .8-.9 .3 9.5 .1-8.2 .6 6.6 .6-6.9 .2 11.2 1.1-9.9 .4 5.8 .2-8.5 .7 6 .7 3.9 .3-7.4 .4-1.7 .2 7.4 1.4 1.9 .1-10.6 .2 7.3 .5-6.5 .5 10.4 .3-7.2 .6-.2 .8 5 .7-9 .4 8.4 .7-5.9 .2 6.8 .6 1.4 .1-9.1 .9 11.9 .1-12.1 .9 9 .4-9.8 .6 3.2 .2 3.7 .5-6.8 .1 7.3" stroke="#0000ff" stroke-width="4.0"/>
<path d="M246.8 692.4l.2 18.6 .1-15.4 .7 12.7 .7 12.1 .3-12.4 .7 1.8 .1 18.6 1 9.8 .2-18.1 .7 8.3 .3 11.5 .2-6 .1 24.2 .9-11.1 .9 18.5 .5-8.9 .2 17.6 .6-16.8 .7 20.7 .3-16.1 .7 17.3 .6-10.4 .1 14.8 .8-15.7 .1 17.3 .9-5 .4 10.4 .3-15.4 .5 21.6 .4-1.6 .1-12.5 1.4 17 .3-17.9 .6 21.7 .5-18.8 .5 1.2 .4 11.7 .7-7.5 .1 17.5 .6-13.6 .7 11.2 .2-16.5 .8 10.3 .1-10.7 .9 10 .2 5.7 .7-15.9 .2 18.9 .4-22.2 1 24.4 .2-19.7 .5-1.9 .4 22.6 1-19.8 .1 11.3 .6-9.5 .2 20.3 1-25 .2 22.3 1-4.7 .2-14.1 .8 2.2 .2 16.1 .7-20.7 .1 12.9 1 1.5 .3-25.5 .2 7.6 .1 17.3 1 4.3 .7-16.8 .3-5 .3 18.4 1-3.9 .4-12 .5 3.3 .1 18.1 .5-19.3 .9 16.3 .5-23 .4 11 .4 6.6 .2-19.9 .8 3.7 .7 11.9 .2 4.5 .3-23.8 1 6.1 .2 11.6 .8-11.7 .5 13.3 .6-21.3 .3 20.1 .2-18.6 .6 13.7 .6 4 .4-17.6 .6 19.3 .3-18.7 1-4.3 .1 19.7 .4-4.4 .8-13.9 .4 15.2 .4-14.4 .4 17 .6-18.6 .8-6.4 .5 13.5 .1 .1 .1-16.5 1.1-1.8 .7 19.1 .2-11.8 .5 15.6 .9-17.7 .4 19.5 .1-5.8 .9-16 .3 13.3 .3-14.8 .7-4.1 .4 18.4 .5-4.5 .7-16.1 .4 19 .2-25 1.1-1.2 .1 17.1 .8-4.7 .4 11.9 .3-4.4 .1-17.8 1 15.1 .6-16.2 .2 16.6 .8-21.2 .3 24.8 .8-23.4 .9-5.7 .1 23.7 .3-10.7 .2-22.8 1 28.3 .2-19.2 .8-10.3 .2 24.5 .9-8.6 .3-16.3 .4 18.3 .2-15.8 1-1.9 .1 14.8 .9 2.6 .2-34 .4 24.5 .9-17.5 .3 19.1 .6-12.8 .2-7.5 .5 16.6 .6-22.1 .1 15.8 .9-4.7 .7-13.6 .4 10.3 .7-10.2 .3 12.1 .3-15.7 .5-1.3 .6 20.4 .8-7.4 .4-14.8 .2 17.9 .8-31.4 .6 18.9 .4-17.2 .7 19.7 .4-21.3 .3 12.7 .6-17.7 .2-3.9 .4 18.5 .8 3 .6-20.8 .3 .7 .7 13.9 .4 3.2 .7-27.7 .2 22.7 .4-23.1 .7-2.7 .3 11.3 1.1-8.3 .2 14.7 .7-2.5 .3-32.5 .4 35.6 .2-22.3 1.2 6.6 .3-18.7 .5 24.2 .5-23.3 .6 10.8 .3-19.5 .7 3.3 .3 23.3 .4-13.9 .4-12.9 .6 16.4 .4-23.1 .4 22.2 .9-32.9 .5 22.9 .5-24.2 .5 20 .4-24.8 .3-6.7 .1 17.7 1.4-.1 .3-27 .1 23.5 .6-18.4 1.2 9.5 .1-28.1 .1 16.9 .9-19.2 .1 13.4 .9-16.9 .2-8.3 .1 22.4 .8-2.5 .9-39.7 .7 .9 .2 22.4 .3-8 .5-11.4 .4 1.1 .6-13 .5 18.4 .7-22.3 .2 12.4 .4-17.8 .7-17.2 .4 27.4 .9-27.6 .2 15.8 .4-4.9 .5-19.8 .7 15.7 .2-24.7 .6 21.3 .8-24.7 .8 9.8 .2-16.8 .4 10.8 .7-17.4 .5 16.3 .1-23.8 1.1 7.8 .3-19.6 .9 29.3 .1-24.3 .2-13.4 .3 21.9 1.1-6.1 .4-22 .3 16.5 .6-23.2 .2-10.1 .5 24.3 .7-11.4 .7-19.5 .3-1.5 .6 17.9 .2-32.6 .1 31.7 1-4.1 .3-30 1 12.8 .4-21 .3-7.8 .7 25.7 .4 5.3 .4-23.7 .4 7.8 .6-11 .5 1.1 .3 14.7 .7-10.4 .3-14.9 1-9.5 .2 16.7 .9-14.7 .3 11.1 .2-3.8 .6-23.2 .5-1.6 .8 28 .3-30.2 .3 21.5 .5-21.8 .9 15.2 .7-2.9 .2-20.4 .3-6.1 .3 27.2 .6-26.5 .1 25.1 1.1-29.4 .6 27 .6-20.8 .5 14.2 .7 1 .2-15.6 .2 25.4 .2-32.2 .8-5.7 .2 32.9 .9-6 .7-19.6 .2-15.4 .6 44.1 .9-12.1 .1-30.6 .4 31.6 .1-24.4 1.1 23.8 .7-32.3 .3 28.3 .2-15 1.1 9.3 .4-12 .3-11.9 .6 26.4 .4-22.8 .3 30.8 .6-9.2 .1-19.5 1.4 18.6 .2-20.6 .7 29.5 .1-25.8 1.2 .5 .1 19.7 .3-19.2 .3 18.5 .7-16.5 .2 13.8 .6-14.4 .8 11.2 .3 8.2 .3-16.2 .6 9.5 .4-14.6 .7-1.7 .7 22.1 .3-5.7 .7-20.1 .2 3.8 .2 18.1 1-16.2 .6 20.1 .8-21.6 .2 28 .7-26.3 .1 24 .6-8.7 .6 14.5 1-22.4 .1 29.7 .1-34.1 .4 29.6 1.1 17 .1-37.1 .4 26.3 .9-21.1 .2 17.5 .8-22.9 .1 5.5 .5 19.1 .9 12.1 .2-26.2 1.2 2 .1 23 .1-22.1 .4 25.1 .8-15.8 .7 25.4 .6-31.2 .3 15.3 .3-11.1 .7 24 .2-4.7 .6-15.5 .8-.4 .5 16.6 .5-14.8 .5 20.5 .1-.6 .5-24.7 1 17.5 .1 23.2 .8-20.1 .4 16.4 .3-21.8 .3 15.8 .8-13.5 .3 20.3 .5-19.2 .8 30.8 .4-19.7 .4 30.2 1.2-1.9 .1-29.4 .1 9.9 .6 21.4 .5-21.1 .3 21.2 .6 5.5 .1-23.4 1.4 27.2 .3-25.5 .4 5 .2 27.9 .7-29.4 .1 21.9 .8-10.1 .4 16.8 .8-20.4 .4 25.3 .4-24.3 .2 30.9 .9-28.1 .3 21.5 .7 18.5 .5-24.3 1.2 3 .1 30.5 .6-11.1 .1-11.8 .8 18.2 .4-21.7 .3 7.1 .4 18 .5-9.6 .8 18.5 .3-7.6 .1-9.4 .8 23 .1-28.3 1.3 8.2 .4 15.6 .4-8 .2 23.3 .7-21.9 .5 22.1 .4 5.4 .1-24.3 1-2.2 .1 34.6 1.3-17.9 .4 24.2 .3 5.4 .6-22.8 .6-9.1 .5 31.1 .1-17.9 .1 17.2 .9-15.4 .6 44.5 .8-10.2 .1-28.3 .5 29 .4-16.2 .6-2.5 .4 24.2 .7 2 .1-19.6 1 8.5 .7 17.4 .1-20.5 .6 24 .9 3.5 .4-16.4 .5-7 .5 30.4 .1-6.5 .8-11.9 .7-.9 .3 23.4 .8 8.9 .2-25.1 .3 6 .8 23.4 .5-18.9 .4 15.6 1-2.7 .1-14.2 .6 21 .4-14.7 .1 19.9 .6-18 .4 17.8 .5-19.2 .5-1.5 .5 28.2 .7-2.4 .4-18.2 1 .6 .3 15 .6-16.6 .4 23.5 .1 13.8 .2-29.6 1 14.1 .7-15.9 .1 23.1 .9-21.2 .6 20.1 .4-14.1 .1 4.2 .8 14.4 .4 7.1 .6-26.8 .8 6 .3 24.2 .2-2.6 .1-15.1 .9 4.8 .1 20.5 .8-20.7 .4 17.2 .6-26.8 .8 31.9 .3-.6 .3-20.9 1 30.2 .5-18.9 .5 28.2 .4-30.3 .6 37.7 .5-26.5 .1 1.5 .9 21.4 .2-22.7 .7 25.6 .4 0 .6-15.6 1 20.4 .1-16.7 .2-4.5 .1 24.8 .9-19.2 .8 17.9 .2 8.4 .7-21.8 .2 2.5 .9 27.8 .1-3.4 .1-21 1.3 11.6 .4 13.1 .6 .2 .2-10.3 .4-6.2 .6 23.1 .5 7.1 .3-19 1.1 4.8 .4 15.4 .1-14.7 .5 21.5 .9-15.4 .5 13.3 .1-10 .9 16.7 .5-19.1 .1 19.2 1-10.2 .3 8.8 .2-6.4 .9 22.4 .1-1.9 .8-18.9 .8 20.3 .2-15.6 .6 6.4 .1 16.2 .6-17.1 .8 17.8 .9 2.6 .1-13.8 .5 2.1 .4 20.2 .2-9.3 .4 11.5 1.1-17.9 .3 25.9 .4-19.5 .6 19.5 .7 7.2 .1-17.9 .5-3.3 .7 27.3 .8-14.4 .3 15.2 .6-1.3 .1-13.4 .8 22.3 .1-14.8 .7 1.4 .7 12.2 .3-9.5 .4 13.9 .8 6.7 .1-18.8 .7 8 .7 8.9 .2 7.8 .7-16.3 .6 6.7 .1 9 .7 4 .4-12.5 .5-.7 .5 20.8 .6 2.6 .2-17.3 1 13 .4-17.6 .2 3.7 .4 16.8 .6 5.5 .4-13.5 .6 17.5 .6-21 .8 31.1 .1-28.6 .9 20.7 .2-11.5 .8-1.4 .1 15.2 1.1 12.5 .2-18.9 .8 14 .2-21.1 .3 20.2 .5-11.4 .8 1.8 .2 20.7 .6-23.8 .4 21.7 .6 1.1 .4-11.9 .4 10.9 .9-10.7 .7-1.3 .3 23.6 .2-14.7 .4 13.7 .5-16.6 .2 22.4 .8-.7 .2-21.4 .8 8.7 .6 16.3 .5-3.9 .7-22.3 .3 24.6 .7-12 .2 15.5 .2-11.6 .8 .1 .5 12.4 1.3-7.2 .1 9.1 .7-16.9 .2 19.5 .4 4.7 .6-16.2 .2-2.1 .5 18.6 .7-15.8 .3 22.3 .9-18.4 .2 15.9 .4-4 .1-7.9 1.1 5.5 .7 16.6 .5-18.9 .1 16.1 .5 2.8 .1-14.7 1 1.8 .4 16.5 .6 1.5 .3-15 1 1.9 .2 15.3 .9-4 .3-8.7 .4 1.2 .7 15.5 .5-13 .1 9.9 1-12.6 .4 16.8 .2-13.9 .7 14.9 .3-7.3 .1 11.7 .9 2.7 .1-15.5 1 4.1 .3 14.2 .6-14.1 .3 16.9 .6-9.6 .5-11.8 .5 18.4 .5-20.6 .5 20.9 .6-13 .5 18.8 .4-16.1 .6 10.4 .4-12.3 .5 .5 .2 24 1.3-18.4 .4 13 .1 1.1 .1-12.3 1-4.6 .1 20.2 .9-6.9 .8-15.3 .3 6.7 .2 12.1 .7-12 .7 8.9 .3-10.7 .7 10.3 .4 .4 .3-10.8 .7 1.6 .6 14.3 1-14 .1 13.7 .3-2.2 .6-12.2 1 2.2 .1 14.8 .1-16.9 .2 18.5 1.2-4 .2-13.9 .4-1.2 .6 17.2 .8-14.5 .2 16.4 .5-11.5 .7 10.1 .2-7.8 .4-5.7 .6 14.4 .6-14.8 .4 18.1 .2-16 .8-2.8 .6 13.9 .8 5.8 .2-20.1 .5 3.7 .4 13.9 1-14.5 .4 9.4 .7-16.3 .3 16.2 .2-9 .5 12.4 .8-15.1 .5 9.8 .2-17.6 .7 22.2 .2-14.6 .4 13.7 .6 2.5 .5-21.2 .9 15.7 .1-11.4 .7-8.3 .7 28.8 .2-5.9 .7-11.9 .3 9.3 .3-10.3 .7 16.9 .7-23.8 .2 1.6 .2 18.1 1.2-1.7 .2-10.7 .8 18.9 .4-23 .6-.8 .1 16.7 .5 1 .8-15.5 .2-1.2 .8 15.7 .3 1.7 .3-23.9 .6 6.6 .2 9.5 1-14.4 .2 19 .7-2.2 .3-11.4 .8-3.6 .4 12.8 .8-.4 .1-18.9 1 15.9 .4-21.2 .3 18.1 .3-9.6 1 19.4 .3-21.8 .3 12.8 .3-8.9 .6-1.5 .8 12.4 .3-13 .7 12.7 .8-17.2 .3 12.2 .5 .8 .4-11.1 .4 11.3 .7-9.8 .2 10.3 .1-13.7 1.6-.4 .1 10.5 .3-7.6 .2 15.9 .8-3 .3-23.7 .9 1.9 .2 17.6 .4-11.3 .4 9.9 .8 2.6 .6-14.4 .2 12.4 .1-16.5 1.3 11.5 .1-5.2 1 11 .3-20.8 1 2.9 .1 17.2 .1-2.7 .2-14 .9 10.4 .3-18.4 .6 9.2 .6 19.9 .8-10.8 .2-14.5 .5 12.1 .7-7.5 .7 2.1 .3 7.9 .8-7.2 .2-9.5 .4-.4 .7 9.6 .5-13.7 .5 16 .2-13.8 .3 12.2 .8-15.5 .7 19.3 .1-19.8 .2 16 1.2-17.3 .1 17.7 .5 2.9 .1-12.7 1.3-2.9 .5 12 .5-2.7 .2-9.6 .4 19.4 .4-17.9 .6 14.7 .6-19.2 .4 15.3 .5-12.1 .6-7.5 .7 19.2 .7-.5 .1-13.8 .6-3.6 .6 18.5 .6-16.1 .4 15.3 .4-8.2 .2-7.3 1.4-2.9 .1 14.9 .1-3.7 .8-22.3 .6 15.7 .5 12.6 .3-15.9 .6 15.6 .6-17 .2 19.2 .4-22.6 .6 12.1 .5-3.1 .5 8.6 .6-12.2 .7 12.9 .5 5 .1-17.3 .7 17.7 .4-15 .5 10.4 .4-20.3 .7 23.4 .6-13.4 .2 8.4 .1-10.3 1.4-4.4 .4 20.7 .3-21.7 .2 25 .7-19.7 .7 13.5 .2-3.8 .5-9.9 1 11.6 .4-16.9 .7 2.8 .2 17.6 .6-16 .4 14 .3-1.2 .4-8.2 .7-2.6 .4 18.2 .6-6.5 .2-12.4 .8 17.8 .2-22.5 .7 5 .4 15.5 .9-12.9 .5 16.5 .1-.6 .5-16 .9 6.4 .2 10.9 1-1.5 .2-8.7 1 8.6 .1-12.3 .6 2.4 .4 14.8 .1 5.5 .5-23.9 .5 21.6 .4-21.6 .7 7.6 .1 18.8 1.2-6.5 .5-11.2 .7 10.8 .3-10.6 .1-1.6 .5 14.3 .5 2.5 .8-19 .2-2.5 .5 23.2 .7-17 .4 17.5 .4-14.2 .9 8.3 .2 6.2 .8-17.2 .3 17.7 .6-12.4 .3-1.6 .3 12.6 .8-2.9 .6-5.2 .4 7.1 .6-8.7 .3 18.1 .5-16.2 .5 15.3 .3-15.7 .7 5.6 .7 8.8 .2-17.8 .6 24.8 .5-16.1 .3 10.9 .8-12.9 .7 11.7 .3-10.5 .3 13.2 .6-.7 .3-10.4 .8 9.7 .2-13.5 .8 6.4 .2 9.4 .8-12.9 .2 15.6 1.4-.6 .1-12 .9-6.6 .1 19.7 .2-17 .5 14.9 .8-9.7 .4 10.6 .4-8.9 .3 9.1 .5-14.7 .9 21.6 .5-16.9 .4 15.7 .3-15.1 .1 13.9 .8-10.5 .4 15.5 .6 3.8 .8-15.6 .8-.6 .2 13.6 .2-13.8 .6 11.3 .8 1.6 .1-13.9 .9 6.4 .5 15.6 .2-19.3 .4 17.3 1.1-7.6 .3 7.7 .9-13.8 .1 15.2 .5-5 .5 12.1 .6-13.7 .1 10.7 .5 5.7 .4-16.8 .5-9 .2 23.6 .9-13.6 .5 11.2 .5 2.6 .4-14.7 1.3 14.3 .1-14.1 .1 21.8 .2-14.4 1.2-2.1 .2 11.4 .6 2.3 .2-15.2 1 .3 .2 14.1 .4-6.1 .6 13.7 .5-14.8 .8 12.4 .1-1.8 .5-15.5 .5 19.7 .6-14.2 1 11.8 .3-11.8 .3-.3 .4 14.2 .6 .6 .6-12.5 .6 12.7 .4-11.4 .8 3.1 .3 12.1 .6 .5 .1-12.7 .4 3.3 .4 13.7 1.1-2.9 .1-12 1-4.6 .3 17.7 .1-12.9 .1 14.5 1.4 3.1 .4-11.2 .2 8.9 .7-11.4 .4 10.3 .2 7.3 .6 2.1 .8-15 .2 2.8 .9 10.2 .5-10.6 .5 13.5 .2-8.2 .8 11.7 .3-1.8 .3-9.3 .7 11 .2-14.2 .8 12.8 .4-10.1 .5 17.8 .1-15.1 1-2.2 .3 13 .5-18 .1 22.1 1.4-1.8 .4-15.1 .5 20.3 .2-18.8 .4 17.7 .6-23 1 14.3 .2 7.4 .3-2.6 .8-6.2 .1 2.3 .8 7.4 .3-8.8 .8 9.3 .5 .6 .2-6.2 .8-2.9 .1 7.8 1.3 .8 .1-9.6 .1 .8 .6 13.8 .5-10.2 .4 9.8 .9 1.3 .5-9.1 .3 6 .4-9.9 1 14.2 .2-5.7 .3-10.5 .4 14.9 .9-8.8 .4 13.1 .2-8.6 .4 14.7 1 1.4 .5-17.6 .6-.9 .3 17.7 .2-18.4 .5 15.9 .9-.2 .1-11.2 .5 2.3 .8 16 .2-3.9 .8-11 .7-1.9 .3 13.4 .4-16.4 .4 17.7 .4-9.5 .1 7.8 1-10.1 .8 9.3 .7 1.3 .2-13 .4 16.4 .2-10 1.4-4 .1 15 .1-4.4 .4-7.9 .6 15.9 .1-12.4 1 2 .7 10.1 .3-13.7 .1 13.4 1.3-1.1 .1-8.2 .8 14.5 .4-17 .4-2.1 .7 15.4 .6-10.3 .1 11.8 1.2-.2 .1-14.1 .3 15.5 .7-12.4 .3-2.4 .6 13.9 .2-17.1 .1 17.6 1.3-.9 .4-8.7 .7 10.9 .1-17.7 .5 21.4 .3-12.4 1 .2 .1 12.7 1.3-12.9 .1 9.1 .6-10.9 .1 17.5 .6-4.1 .2-11.3 .6 10.3 .6-13 .8-2.6 .5 18 .2-9.3 .1 7.1 .9-8.2 .1 8.5 .9-8.2 .4 10 .6-10.5 .5 8.5 .6 2.5 .2-8.5 1.1 6.5 .1-10.1 .6 1.9 .7 10.4 .2 3.7 .7-10.2 .8 8.5 .2-14.3 .3 12.7 .1-12.1 .8 4.8 .1 13.9 1.4-14.9 .1 18.8 .5-6.1 .8-11.9 .1 7.3 .5-9.9 .7-1.6 .7 9 .2-6.5 .8 11.5 .7-.7 .3-13 .3 6 .2 16.2 .8-18.1 .2 16.2 .6-6.7 .8-12.3 .4 13.3 .6-23.9 .6 19.5 .2-8.5 1.2 10.3 .1-15.7 .5 17.9 .5-12.6 .2-4 .7 12.7 .3-9.8 .1 12.6 1.3-9.4 .1 12.4 1-5.2 .2-5 1 10.5 .1-13.8 .1-2 .6 10 .9 .1 .3-10.6 .2 3.6 .2 8.5 1.2 1.7 .1-14.6 .9 13.4 .5-19.4 .6 19.9 .1-11.5 .4 1.6 .1 13.1 1-7.7 .5-6.5 .9 6.1 .3-10.3 .2-1.3 .8 14.1 .4-1.1 .3-10.3 .9 11.7 .4-13.4 .4 14.8 .7-12 .5-1 .4 16.8 .3-12 .7 9.6 1-6.3 .1-7.2 .3 2.2 .2 6 .8 1.4 .6-13.1 .3 14 .1-10.3 .9 .6 .1 11.7 .8-2.6 .5-10.1 .6 8.8 .4-10 .5 2.7 .4 12.3 1.4 2.2 .1-21.5 .1 2.5 .5 11.9 .9 6.2 .4-13.8 .2 .3 .1 12.3 1-14.1 .3 13.1 .6-14.5 .6 12.7 .9-3.2 .4-8.1 .6 8 .4-10.2 .1 9.8 .1-9 1.5-.1 .3 13.4 .1-2.1 .9-6.4 .6 9.6 .4-16.2 .6 15.2 .3-9.8 .3-.7 .7 10.2 .3-12.7 .4 10.6 .7 9.3 .2-23.4 .7 2.7 .1 15 1-19 .4 19.3 1.2-16 .1 14.9 .2-11.8 .3 11.8 .6-13.8 .9 10.1 .1 .2 .4-8 .6 8.5 .8-6.6 .2 .8 .1 12.7 1-17.7 .1 20.5 1.3-3.5 .4-17.1 .2 21.1 .8-14.5 .3 13.9 .7-13.8 .6-4.5 .4 16.4 .6-10.1 .4 7.1 .2-8.8 .4 12.9 .5-1.2 .2-11.8 .8 .1 .8 14.1 .6-4.8 .1-15.7 .9 4.7 .4 16.5 .4-14.2 .6 11.1 .4 .8 .6-12.9 .6 6.7 .5 9.5 .5-4.8 .1-10.7 .6 13.4 .1-11.7 1 16.6 .7-15.9 .3 4.1 .3 14.8 .6-3.1 .5-12.3 .4 11 .9-14.6 .7 3.7 .2 13.2 .6-1.7 .2-10.6 .6 11.5 .7-11.3 .5-2.4 .1 13.7 .7-6.5 .7 9.2 .6-10.5 .4 8.6 .1-12.5 .1 11.9 1.4 .7 .3-8.8 .3 11.8 .1-13.2 1.4 1.6 .3 9.8 .5-11.8 .5 10.5 .6-6.3 .1 6.4 .6 6.2 .6-12.8 .7-1.2 .1 10.7 .6 1.8 .6-12.5 .4 2.6 .6 16.5 .8-14.5 .2 8.2 .4-7.4 .7 11.4 .3-12.9 .6 15.2 .4-16.4 .7 13.5 .1 2.8 .5-13.2 1 14.5 .1-14.4 1 15.5 .2-12.3 1 9.3 .1-11.4 .3 11.2 .4-12.7 .5 18.1 .5-18.9 .6 1.5 .7 14 .6 1.7 .3-11.6 .6 .7 .5 7.8 .1-8.1 .8 12.7 .4-12.7 .3 15.6 .6-9.4 .4 5 .6 3.1 .4-10.5 .5-5.6 .6 15.7 .4-7.9 .9 9 .1-9.9 .6 12.4 .5-9.5 .5 8.9 .5-2.4 .3-10.3 .8 13.8 .3-10.7 .6 4.6 .1 6.7 .9-3.8 .3-6.8 1 10.6 .5-8.2 .1 5 .2 4.3 1.3 3.5 .3-12.8 .2 10.5 .1-13.1 1.1 5.8 .4 14.7 .6-10.7 .6 7 .4-15 .2 18.5 .8-4.3 .4-8.5 .6 13.5 .2-14.7 .6 14.3 .8-11.4 .4 8.4 .2-8 .8-.4 .4 9.5 .6-10.9 .6 9.9 .2-9.8 .5 13.6 .9 1.5 .5-12.6 .1 14 .1-13.3 1 0 .1 11.1 1-7.3 .6 11.6 .2-2.8 .6-9.1 .9 10.3 .3-8.6 .6-4.4 .2 12.5 .4 3.3 .6-9.9 .5 7.8 .5-14 1 6.1 .2 11.1 .2 2 .6-14 1 10.3 .2-8.8 .6 16.1 .4-16.7 .4 13.9 .2-12 1.1 2.6 .3 15.8 .6-18.1 .1 8.2 .9-5.3 .2 10.1 .4-1.3 .6-9.5 .9 1.1 .3 12 .2-2.6 .2-8.1 1.2 12.9 .1-16.2 .6 1.5 .5 10.7 .6-7.8 .2 11.1 1.4-9.2 .1 10.4 .3-4.8 .2-5.3 1.1 10.2 .3-13.2 .3 11.5 .7-8.6 .8 14.2 .3-14.7 .1 14.6 .1-13.8 1.1-1.6 .3 18.3 1.1-.7 .2-13.3 .3 9.4 .4-6.7 1.1 7.8 .2-6.4 1 10.2 .1-15.4 .5 11.4 .4-13 .7 17.1 .4-12.6 .1 7.3 .1-8.6 1 11.4 .3-8.2 .7 8.7 .1-7.3 .9 1 .3 9.9 .6-1.5 .4-11.8 .6-.4 .1 15.1 1-.4 .7-6.4 .6 7.8 .1-13.3 .9 3 .4 8.9 .2-8.5 .8 9 .2 0 .4-6.3 .8 7.9 .6-11.2 1 11.4 .1-9.6 .7-.9 .3 14.1 .3-12.1 .2 8.7 .7 3.7 .5-13.4 .4 3.9 .6 6.2 .6-4 .7 6.2 .2 1.6 .8-10.2 .6 8.7 .3-6.3 .2 7.8 .2-4.7 1.3-1.2 .1 7.4 1.2-12.6 .1 12.3 .5-11.1 .1 10.9 .6 1.1 .4-11.1 .7 12.7 .2-7.8 .7 6.8 .5-9 .4 2.5 .9 8.9 .6-1.7 .3-11.9 .4 .3 .4 9.2 .6-7.1 .7 12.1 .1 .8 .1-15 1.5 15.8 .2-16.7 .4 3.4 .2 9.7 .8-6.6 .3 5.6 .6 5.6 .1-14.2 .9 .7 .8 13.2 .1-2.2 .9-6.9 .7 6.2 .2-6 .2-5.1 .6 14.4 .5 .3 .5-9.4 .6-.3 .6 11.4 .7-5.1 .3-9.7 .2 2.1 .1 15.5 1.3-12.4 .2 10.8 .4-9 .1 8.5 1-13.1 .7 17.3 .8-16.4 .3 18 .2-5.1 .1-16.3 1 5.5 .3 8.7 .7-6.3 .3 8.9 1-1.2 .4-9.5 .2 .1 .7 12.5 .2 2.7 .1-10.8 1.7 4 .1-4.5 .2-2.9 .5 8.7 .6-2.8 .4 7 .5-2.8 .8-8.7 .2 3.8 .4 5.1 .5-6.9 .8 15.7 .6-14 .5 8.2 .3-12.3 .4 13 .4 2.2 .9-11 .1 9.9 .5-12.3 .7 11.6 .4-6.4 .4 6.7 .9-15 .1 18.2 .1-12.4 1.4 13.2 .1-13.8 .6 12.6 .3-14.6 .6 14.2 .1-14.7 .9 1.6 .8 13.4 .1-.1 .5-13.5 .6 1.9 .3 10.4 .7-12.1 .7 8.4 .2-4.6 .6 8.3 .5-9.9 .7 8.4 .6-6.8 .2 8.6 .6 .5 .2-8.1 .7 2.6 .8 7.2 .3-9 .2 9.4 .8-8.4 .2 11.4 .8-15.1 .4 14.6 .4-10.1 .1 9.1 1.4-14.5 .4 12.8 .5-8.1 .1 9.9 .6-12.7 .3 16.4 .7-14.7 .7 10.4 .2-6.5 .8 10.8 .4-11 .4 8.7 .6-13.2 .2 11.8 1.1-9.6 .3 7.8 .2 2.6 .9-8.3 .1 .4 .2 10.2 1-17.3 .6 18.8 .8-13.5 .2 9.9 .2 5.4 .9-11.5 .5-4 .2 13.6 .5-13.3 .5 13.3 .9-.9 .3-12.2 .2 1.2 .2 9.8 1.2 8.6 .4-19.9 .4 15.4 .3-12.5 .5 1.4 .6 12.8 .5-1.6 .1-13.7 1 2.5 .2 8.3 .7-6.9 .4 6.6 .9-7.8 .4 8 .2-.7 .2-10.3 1.3 17.5 .1-13.4 .4-3.3 .5 10.6 1.1-6.5 .3 6.3 .2-4.7 .4 8.1 .5 .4 .8-9.9 .6-.4 .2 7.4 .5 .8 .5-6.9 .5-3.6 .7 8.5 .3 4.9 .4-11.8 .5 .7 .1 8.3 1.1-9.4 .3 8.5 .9-11.2 .4 15.3 .2-11 .6 10.6 .9-7.7 .1 6.3 .4-11.2 .1 11.7 1.3-12.1 .5 13.1 .3-1.2 .7-8.2 .3 10.6 .4-8 1.2 5.8 .1-11.2 .7 2.6 .3 12 .1-13.9 .2 11.8 1 1.2 .2-11.4 .6 9.8 .8-9.9 .6 10.6 .1-8.9 1-.5 .1 7 .9 3.5 .4-11.4 .6 1.1 .4 8.8 .5 .8 .2-9 .5-3.6 .8 12 .2-11.8 .5 18.3 .9-3.2 .1-10.7 .6-.6 .3 8.9 .5 .1 .1-10.6 1 8.2 .8-6 .2 .9 .3 7.2 .6-6.8 .9 5 .1 1.6 .8-7.2 .3 6.8 .5-8.8 .5 .8 .5 10.1 .9-1.7 .3-10.3 .6 .1 .2 10.8 .5 .2 .3-7 .8-3.5 .6 7.8 .6-4.1 .5 7.1 .1-9.8 .5 10.9 .5-9.6 .5 8.5 .6-1.2 .5-8.3 1 10 .3-5.6 .6 6 .3-9 .2-.4 .6 8.8 .4 .5 .8-6.8 .2 11 .6-10.9 .4-5.3 .6 11.9 .9 1.5 .3-10.7 .4 11.9 .4-12.1 .6 11.9 .6-10.4 .7 9.2 .1-10.3 .5 12.1 .5-14.8 .4 4.6 .8 8.5 .8-7.4 .3 7.5 .3-.9 .3-12.2 .5 13.8 .1-6.4 1.3 2.3 .5 4.6 .5 1.1 .4-9.9 .3-1.1 .4 7.8 .9-15.1 .4 19.3 .7 .6 .3-10.8 .4 11.3 .3-8.4 .5-1.3 .1 6.1 1-6 .5 6.9 .4 .1 .2-7.1 1.6 10.7 .1-9.2 .3 8 .3-11.4 .7-2 .4 12.1 .6 1.4 .2-12.7 .8 .8 .4 9.3 .5-8.8 .1 6.5 1 5.4 .2-10.6 .6 1 .9 7.2 .3-6.1 .2 7.3 .7-3.2 .3-4.7 1-2 .2 8.8 .5-8.1 .5 9.5 .8-8.8 .2 10.8 .6-12.5 .6 9.8 .7-8.8 .1 9.4 .8 .1 .2-7.7 .6-1.2 .4 11.6 .5-9.3 .1 7.8 1.6 4.8 .1-11.5 .3-2.3 .2 9.7 .7-5.3 .7 6.8 .2-9 .8 9.8 .2-11.8 .1 11.2 1.3 5 .4-16.1 .7 2.6 .3 7.3 .6 2.4 .2-13.1 1 4.5 .3 6 .1-1.2 .1-5.1 1 8.6 .5-10.8 .5 10.2 .1-8.6 1.3-1.3 .3 7.4 .4-10.6 .7 14.3 .2-8.3 .3 6 1.1-8.3 .3 7.4 .7 2.4 .3-6.2 .2-.8 .6 11.7 .4-.2 .8-10.3 .3 8.2 .1-9 1 7.7 .2-11.8 1.1 5 .4 3.9 .7-6.3 .3 7.6 .6 4.1 .4-10.2 .5 2.4 .5 9 .3-11.2 .6 10.7 .3-11.1 .1 10.4 .9 .8 .1-11.6 .8-5.1 .8 14.2 .7-2.1 .3-11.9 .8 6 .3 8.5 .2-9.6 .3 10.8 .7-.7 .5-8.9 .4 9.8 .2-15.2 .8 9.3 .6 7.3 .8-2.4 .2-10.3 .8 .8 .1 11.5 .6-.5 .7-13.2 .7-.9 .1 10.3 .8 2 .5-7.9 .1 11.7 .1-10.7 1.7-1.5 .1 9.5 .5-.7 .5-8.3 .3 10.7 .6-11.9 .2 10.1 .1-10.2 1 5.5 .4 7.8 .7-1 .4-10.9 .6 1.7 .3 7.6 .7-.3 .2-12.4 .8 11.8 .7-11.1 .3 1.2 .2 13.9 1-7.9 .1 8.7 .6-2.3 .1-12.4 .8 7.8 .9-6.7 .6 2.8 .1 10 .5-11.3 .1 8.7 1.3 3.7 .4-10.5 .5-1.7 .2 9.7 .8-.3 .5-8.7 .1 9.2 .6-10.5 .8-.3 .1 11.8 .6-9.2 .5 8 .4-8.8 .5 10.9 .7-.9 .6-9.2 .6-1.4 .5 9.3 .3-9.6 .4 9.4 .4-7.4 .2 7.4 1-9.3 .7 9.1 .7-1.6 .2-6.5 .4-2 .7 9.5 .1 3 .6-8.9 .4 7.9 .2-6.7 .8 9.6 .9-14.5 .2 10.6 .1-10.1 1.6 3.7 .1 10.8 .7-10.5 .3 8.1 .3-9.4 .4 8.3 .8-12.9 .2 14 .8-6.6 .2 9.2 .4-10.6 .5 6.7 .6-8.4 .8 10.4 .2 .5 .5-9.2 .8 6.2 .4-4.5 .2-5.5 .9 13.9 .2-1.5 .4-13.2 .6 3.2 .8 12.3 .1-2.3 .2-9.2 .8 .6 .2 8.9 .9-8.6 .3 7.4 1.4-7.4 .1 6.7 .1-9 .8 11.5 1-9.7 .1 10.9 .2-10 .4 11 1 1.3 .4-15.3 .5 3.6 .1 8.2 .9-9.2 .1 12.2 1-3.4 .4-10.5 .2 10.6 .7-7.1 .3-.8 .8 9.7 .1-9.9 .1 8.2 1-.1 .5-5.8 .6 7 .2-7.5 .8-1.2 .2 8.4 .7 .7 .1-11.5 .9 10.4 .3-11.4 .6 2.6 .5 8.5 .6-3.3 .7-5.2 .3 8.1 .5-8.8 .4 .4 .9 11.4 .1-2.8 .8-7.1 .6-.8 .5 5.8 .5-4.6 .1 6.1 .6-6.6 .7 9.3 .6-2 .1-4.6 1 9.5 .3-10.2 .2 5.1 .9-11.7 .2 11.2 .3-9.8 .6 13.8 .1-11 .9 12.7 .6-10.6 1-1.5 .2 11.8 1-10.5 .1 8.4 .5-8.6 .2 9.4 .4-14.4 .5 14.3 .6-.9 .7-6.5 .4-2.2 .7 7 .6-9.1 .3 11.5 .4-1.9 .6-7.6 .2 2.3 .4 6.9 .6-10.9 .4 11.5 .6-2.5 .6-6.4 .9-2 .1 8.8 .5-.4 .5-5.6 .6 6.8 .3-5.9 .6-4.9 .3 13.1 1-8.8 .5 4.4 .1 3.8 .5-11.7 .5 12 .8-15.7 .3 6.8 .5 6.8 .4 .2 .2-11.7 1.2 12.9 .4-8.5 .4 10.5 .4-11.5 .9 4.6 .4 6.9 .3-7.9 .4 9.5 .4-4.7 .9-8.9 .3 9.6 .6-6.8 .8 7.7 .2-7 1 7.6 .1-10.7 .6 9.6 .4-7.3 .5-1.3 .5 7.6 .3-1.2 .6-6.4 .6 6.7 .2-7.6 .8-1.3 .5 11.5 .3-7.2 .7 6.1 .3-10.2 .4 14.7 .5-2.3 .4-11.8 .5 1.9 .5 9.8 1.1-7.1 .2 4.7 .2 .8 .2-7.7 1.2-.6 .5 6.3 .7 4.4 .2-13.7 .7 12.7 .1-8.2 .4 8.7 .2-8.3 1.4 .5 .2 3.9 .2 4 .8-5.2 .3 7.1 .3-9 1 5.1 .4-6.3 .6 1.7 .1 10.4 1-16.4 .4 15.8 .1-10.5 .5 8.8 .5 4.9 .6-14.8 .6 6.2 .7-8.6 .1 13.5 .2-12.3 1 1.8 .4 7.3 .4-6.1 .9 8.3 .1-.5 .6-13.2 .5 9.7 .1-4.6 1 .6 .2 6.1 1.2-4.8 .2 5.7 .6-8.6 .4 7.6 .7 .9 .3-8.3 .7 2.2 .3 8.8 .6-1.7 .4-9.7 .2 8.3 .8-6.8 .7 3.8 .3-4.9 .4 7.4 .4-7 .6 1.2 .7 6.7 .3-9.5 .6 9.1 .2-6 .9 6.7 .3-7.2 .4 5.6 .4 .7 .1-8.8 1.5 12.2 .2-5.6 .3 3.4 .8-8.5 .2 3.7 .7 4.8 .6 7.8 .4-18.6 .3 6.1 .1 2.9 1 4.3 .6-9.3 1-1.8 .1 5.7 .1 4.2 .6-12.3 .5 2.9 .4 9.5 .6-.6 .1-5.6 .9-6.4 .7 13.2 .2-1.4 .6-10.1 .6 11.3 .2-8.8 .7-3.4 .7 14.7 1-4.9 .1-6.7 .2 .5 .3 7.7 1.4-7.6 .1 9.6 .7 1.9 .3-11.4 .2-.3 .4 9.6 .6 .7 .5-13.1 .4 3.6 .4 6.6 1.2 .4 .3-12.1 .5 4.7 .1 9.3 1.1-12.7 .3 11.5 .9-1.9 .1-8.1 .1 12.4 .8-15.3 .4 4.8 .2 9.2 1-2.6 .4-3.5 .2 4.7 .4-7.6 .7 7.2 .8-8.4 .6-.1 .3 7.7 .8-6.7 .2 8.6 .3-5.3 .1-4.4 1 2.2 .6 10.9 .2-2.4 .1-9.2 1.3-2.1 .5 11.6 .6-4.8 .4-8.9 .7 1.2 .3 14.8 .3-14.5 .6 11 .4 .7 .4-9.1 .9-3.9 .1 13.6 .8-8.9 .2 9.4 .8-4.6 .5-7.4 .1 3.5 .6 5.7 .6 3.8 .2-11.3 .7 6.6 .5-5.2 1 .5 .3 12 .3-5.5 .3-9.9 1 2.6 .3 5.7 .3-3.5 .7 3.7 .3 4.9 .8-12.2 .2 9.7 .7-6.5 .6-3.3 .5 11.4 .1-.7 .5-8.6 .6 3.5 .1-5.6 1.2 2 .2 9.2 .4-3.8 .5-6.4 .5 8 .2-9.2 1.2 1.7 .5 11.5 .7-12.8 .2 11.9 .8-2.2 .2-7.7 .3 6.9 .5-7.8 1 6.8 .3-7.2 .1 6.3 .1-5.1 .9 6.4 .9-5.9 .1 0 .4 7.2 1.2 3.7 .3-8.9 .5-4.9 .4 11.3 .6-1.2 .1-9.2 .5 0 .2 8.7 .8-6 .5 9.2 .7-3.9 .4-8.4 .5 7.1 .7-4.8 .8-1 .2 7.8 .7-5.8 .1 5.6 .4 1.7 .2-8.7 .9 8.8 .4-11.2 .6 2.6 .4 7.5 .7-10.2 .6 8.6 .8 4.1 .3-11.5 .3-.8 .3 9.2 .6-5 .8 5.3 .2-1.8 .8-6.4 .1 5.9 .6-5.1 .6-.7 .3 9 .7-8.4 .3 6.7 1.1 .7 .3-6.8 .2 .9 .1 5.8 1-11 .4 10.6 .6-7.6 .4 11.1 .4-3.6 .8-5.9 .7 3.3 .3 2.8 .3 .7 .4-7.2 .5 .5 .9 7.7 .7-.9 .2-8.7 .2 1 .9 11.2 .2-3.1 .1-10 1 8.2 .4-9 .4 12.8 .9-10.9 .7-1.3 .3 7.3 .6-5 .4 9 .1-9.3 .2 10.8 1.3-2 .3-9 .6 10.2 .5-7.9 .6-5 .4 13.8 .5-9.3 .2 7.9 .4-10.3 .1 9 1.4-9.7 .1 13.7 .8-12.3 .1 6.7 .7 1.1 .7-7.5 .1-1.3 .8 12.3 .3-9.9 .4 7.4 .5-7.4 .4 9.3 .6-1.7 .6-8 1 8.7 .3-8.3 .6 9.4 .4-9.6 .5 5.6 .4-5.8 .3 8.9 .5-5.8 .4 3.5 .9-7.9 .3 .8 .7 10.1 .1-9.3 .2 6.9 1.3-9 .4 10.7 .6-1.8 .1-5.8 1-2.7 .3 9.7 .2 .6 .3-7.7 .7 6.7 .8-12.3 .5 5 .5 10.3 .6-2.4 .4-9.3 .2-.8 .8 11.1 .3-9.8 .4 6.9 .9-6.5 .3 10.3 .8-1.2 .2-7.8 .2 .1 .6 8 .5-.7 .7-9.3 .8-2.9 .3 11.6 .7 1.1 .3-9.9 .9 10.3 .1-8.1 .3 9 .7-11.2 .3 .9 .4 11.6 .4-10.5 .8 8.1 .2-7.5 .8 7.6 .3-8.7 .8 12.1 .1-7 .4-6.8 .6 7.1 .4-4.3 .7 4.3 .3-8 1 1 .5 8.3 .1-7.3 .8 9.2 .3-1.9 .8-5.9 .1 5 .4-4.6 1 1.2 .4 3.3 .2-6.9 .1 8.5 1.4 .6 .1-8.6 .8 11.2 .2-9.1 .6 6.7 .6-12 .2 2.4 .9 11.8 .2-9 .8 6 .1-2.3 .2-5.7 .8 8.3 .6-9.1 .4 10.2 .9-6.6 .3 7.2 .2-8.6 .6-4.4 .2 13.9 .8-8.5 .1 6.9 1.1-8.9 .7 9.3 .1-9.3 .8 12.8 .6-12.1 .1 8 .9-7.8 .5 6.8 .6-9.3 .1 14.8 .8-4.8 .2-9.4 .8 .4 .2 7.6 .5-8.1 .4 8 .5-6.8 .2 10.3 .9-10.9 .4 15 .5-13.7 .9 5.8 .3-7.3 .7 6.2 .2-3.6 .4 6.5 .9-1.9 .2-5.1 .4-1.2 .5 8.9 .5 .9 .2-9.9 .8 9 .5-11.1 .7 .3 .6 11.6 .2 1.5 .2-8.8 1.2 6.4 .1-9.2 .7 8.9 .2-9.7 1.2 1.3 .3 7 .2-5.3 .8 7.9 .1-8.2 .1 5.1 1.4 2.9 .3-11.5 .2 2 .2 9.3 1-1.3 .6-7 .2 1.9 .5 7 1-1.9 .1-8.6 .9 8 .4-6.5 .9 6.8 .1-10.7 .5 3.2 .2 8 .6-1.6 .2-7.9 .6 .8 .2 7.3 .8 2 .1-8.8 1.5 7.1 .2-6.1 .3 1.6 .1 8.6 1-2.4 .2-10.5 .8 10.3 .3-7.3 .7 8.8 .6-12.1 .3 12.1 .4-5.9 1-5.6 .4 9.7 .1-5.9 .8 6.6 .2 2.7 .4-10.9 .8-1.1 .2 10.9 .8-8.8 .4 7.9 .5-9.4 .5 7.5 .4-5.7 .1 6.9 .9-8.3 .1 9.4 1.1-3.4 .3-9.4 1.1 5.5 .3 4.1 .6-.3 .3-6.3 .4-.5 .3 7.8 .9 1.7 .4-11.7 .7 5.3 .3 4.9 .2-6 .2 9.6 .9-9.6 .5 5.9 1-.7 .2-8.7 .6 11.9 .5-7.7 .2 5.5 .4-12.4 .7 14.3 .3-9.7 .5 12.8 .4-12.4 .7 8.3 .4-8.4 .5 7.1 .6-6.7 .4 1.7 .8 11.7 .6-12.4 .4 11.8 .2-7 .2-6.8 1 8.2 .2-6.8 .6 7.4 .8-6.5 .2 5.6 .2-9.4 .9 1.1 .5 10.5 .5-.7 .4-10.4 .7 3 .2 9.6 .7-.4 .1-8.2 .8 9.4 .4-11.4 .6 .2 .1 7.1 .9-6.5 .9 7.7 .1 1.3 .9-8.8 .5 .5 .2 8.2 1-5.9 .3 4 .6 .7 .3-8.9 .3 7.5 .4-6.6 .5 8.3 .4-6.9 .6 7.5 .6-8.3 .5-1.2 .1 7.3 .9 1.5 .1-6.7 .8 7.6 .5-11.4 1.1 7.6 .2-7.8 .4 6.3 .4 3.4 .6-8 .4 8.4 .6 2.3 .4-8.8 .6 8.4 .2-16.9 1.1 4.8 .3 9.1 .4-7.9 .6 11.5 1-3.7 .1-6.3 .2 6 .7-8.9 .7 2.5 .4 7.4 .3 2.5 .3-9.6 .7 1.3 .2 6.2 .7-12.8 .8 11.5 .7-3 .3 7 .1 .6 .6-10.6 .4-.5 .5 8.1 .6-6.7 .3 5.8 1.4 2.9 .1-11.9 .7 9.7 .2-4.2 .2-4.8 .2 15.4 .8-2.5 .5-11.9 .6 1.7 .7 6.7 .4 .5 .7-8 .1 5.6 .5-5.3 .7 1.5 .7 8.9 .5-9.9 .5 9.1 .1-11.9 .6 10.8 .5-1.9 .3-7.3 .7 4.2 .4 5.4 .7-1.7 .4-8.3 .4 .1 .5 9.1 1-7.4 .1 6.1 .4 1.4 .1-8 1 8 .7-7.8 .3 3.8 .4-5.5 .7-.7 .7 11.2 .5-1.6 .2-6.5 .6-3.5 .7 9.4 .9-5.3 .1 6.2 .1 3.6 .5-10.4 .5 8.2 .8-16 .3 12.1 .1-8.8 .9 4.2 .3 9.7 1-11.8 .2 7.9 .9-8.1 .4 11.3 .3-9.9 .4 6.9 .4-.1 .1-8.1 1.4-.2 .1 7.3 .9-6.4 .4 9.6 .1-.4 .4-8.4 .7 5.7 .8-5.1 .5 3.7 .4-5.9 .8 6.8 .2-4.8 .6-2.1 .5 8.2 .6 2.3 .1-7.5 .9 5.2 .1-6.9 .5-1.5 .5 11.9 .4-9.2 .1 6.6 .9-10.4 .8 12.7 .2-8.9 .9 6.6 .5 2.4 .4-9.5 .4 6.2 .4-7.3 .4 1 .6 10 .5-2.5 .3-7.5 .6 .7 .6 7 1-6.7 .3 7 .2-10.5 .4 13.3 .5-11.2 .6 7 .8-11.1 .4 13.1 .7-11.1 .3 11 .2 1.1 .5-12.8 .5 8.1 .4-4.4 .7 5.8 .8-8.8 .1-2 .9 12.8 .6 2.7 .1-10.1 .8 .4 .5 7.9 .5-10.5 .5 14.9 .1-4.1 .5-10.3 1 7.1 .3-7.8 .2 9.3 .4-11.7 .7 11.1 .8-6.9 .1-3.2 .5 12 .9 2.4 .1-10.8 1-2.5 .1 7.6 .8 .9 .2-7.1 .9-3.2 .3 11 .6 .6 .1-9.8 .6 8.2 .4-6 1 4.9 .4-8.9 .2 10.9 .8-8.7 .1 8.6 .8-5.6 1 7.9 .1-9 .5-2.8 .5 7.2 .3 1.2 .7-7.1 .3 8.8 .6-10.7 .2 4.7 .1 6 1.3 .6 .2-8.1 .4 7.2 .6-8.4 .4 8.9 .5-6.3 1-3.9 .3 10.9 .3-8.4 .7 9.1 .2-9.2 .4 8.5 1 1.4 .5-9.4 .5 9.1 .5-8.4 .2-3.8 .7 9.1 .4-4.9 .2 6.2 .7-9.2 .4 11.9 .6-13.5 .3 9.7 .6-5.8 .4 5.3 1-3.8 .4 3.4 .2 0 .8-5.9 .8 10.6 .2-11.3 .7 8.3 .1-4.4 .4 2.7 .5-8.5 1 5 .3 6.5 .2-.9 .6-8 .6 8.4 .6-7.3 .4 8.4 .4-7.4 .4-5.6 .2 11.3 1.2-5.8 .4 10 .3-3.7 .3-6.8 1.2 5.2 .2-8.2 .7 11.3 .4-8.5 .3-1.3 .7 9.8 .1-.9 .9-13.6 .3 11.5 .4-7.8 .8-.3 .5 12.6 .9-14.9 .1 14.1 .2-9.6 .5 6.2 .6 .1 .4-7.5 .6 7.3 .7-6.8 .1 .4 .4 7.3 .8-9.7 .3 11.1 .6-1.2 .3-8.9 .6 9 .5-8.9 .6 8.8 .8-10.8 .3 11.1 .7-6.1 .1-1 .1 5 1 .7 .3-7.3 .7 10.6 .5-13.1 .5 9.3 .4-6.1 .6 8.9 .8-9.8 .9-1.4 .1 11.2 .1-9.7 .5 9.8 .5-2.3 .8-7.6 .2 9.6 .6-8.3 .6-.4 .3 4.2 .6 2.1 .4-4.7 .5-1.2 .6 7.3 .6-6.2 .2 5.9" stroke="#ff00ff" stroke-width="4.0"/>
<path d="M246.8 725.6l0 13.6 .6-16.8 .1 22.9 .7-6.2 .6 24.5 .2-9.3 .9 24.1 .6 9 .3-16.5 .6 6.1 .1 22.8 .7-12.7 .6 24.3 .6-18.1 .5 13.4 .1-8.2 .9 21.8 .1-7.5 .2 11.4 1.3-16.2 .4 23.6 .3-21.7 .2 16.3 .8 13.6 .6-19 1 14.2 .1-18.4 .1 11.1 .9 11.3 .3 6.8 .3-16.8 .5-4 .5 23 .7-24.4 .3 20.3 .5-11.6 .2 13.3 1.6-9.1 .1 20.2 .2-27 .8 21.1 .1-12.9 .6 12.8 .4-18.1 .4 19.9 1.2-3.9 .2-12.3 .2-.9 .1 18.9 1.1-27.8 .4 19.1 .9-10.4 .1 16.7 .4-2.9 .8-14.1 .2 1.2 .2 21 1.3-2.8 .4-19 .6 15.8 .1-12.8 .8-8.7 .4 13.8 .6-15 .1 22.4 .7-15.1 .2 16.5 .6-3.7 .2-12.5 1.2 11 .4-10.4 .3 .9 .3-11.9 .6 18.6 .9-10.9 .3 .1 .3 12.1 .7-5 .2-10.1 1 8.7 .5-12.3 .2-3.5 .5 25.2 .4-18.3 .4 5.8 1-8.3 .4 12.9 .4-1.7 .6-13.2 .4-6.3 .6 20.5 .3-17.7 .1 20.5 1-20.4 .6 14 .6-3.9 .1-12.7 .7 17.4 .7-15.3 .3 15.7 .2-18.8 .8 19 .2-19.9 .7 2 .5 7.5 .5 3.6 .8-14.4 .1 13.2 .8-16.9 .8-3.9 .3 16 .2-2.3 .1-21.6 1.3 9.1 .4 12.5 .5 1.2 .4-19.1 .4-2.3 .6 18.8 .8-13.3 .2 9.5 .2-25.2 .6 21 .4-10.1 .6 13.4 .8-18.9 .2 19.5 .6-18.2 .6 14.4 .6 3.3 .1-20.4 1 14.1 .4-14.5 .5 17.2 .5-15.9 .2-4.7 .3 19.7 .7-27.4 .5 17.4 .6-7.4 .7-14.5 .1-.8 .9 14.4 .2-13.3 .5 19.3 .8-.6 .4-15.7 .3 8.2 .1-20 .8 4 .8 19.5 .3-7.9 .7-11.3 .4 9.2 .2-14.2 .6 .8 .2 17.1 .9-17.9 .4 8.5 1 5.7 .4-19.8 .5-5.3 .1 19.9 .7-1.4 .6-20.3 .3 14.5 .7-16.1 .2-5.5 .6 20.1 .4-4.1 .4-12.5 .6 9.3 .5-14.2 .6 12.7 .3-18.3 1.4-.4 .1 14 .3 1 .4-23.1 .5 17.9 .7-15.2 .3-7.2 .1 30.6 .8-34.6 .4 15.4 .8-.9 .2-15.1 1 18.1 .2-15.7 1.2 6.5 .1-12.8 .1 12.6 .5-22.9 .5 9 .1-11.5 1.5 18.6 .3-23.9 .9 4.7 .1 14.7 .1-4.8 .6-16.8 .9 16.2 .3-16.9 .2 3.7 .5-9.3 .5 15.4 .8-21 .6 14.1 .4-26.8 .7 16.9 .3-21.4 .6 35.4 .4-39.4 .4 21.7 .2-16 .6 12.6 .2-19.4 1 11.6 .6-13.7 .3 8 .8-16.9 .1-11.4 .4 23.2 .8-20.6 .3 15.3 .6-1.5 .8-23.3 .9 11.3 .1-9.8 .5 8.4 .4-20.5 .2 12.9 .5-15.8 .5 15.2 .6-17.5 1-2.3 .2 11.5 .2 9.9 .2-37.2 .8 21.1 .9-16.9 .1-12.2 .9 24 .9-29.5 .1 18.3 .5-8.7 .2-15.2 .5 13.9 .7-28.2 .7 12.3 .3-14.7 .4 13.4 .4-18.1 .4 2.8 .9-10 .3 18.7 .3-19 .7 4.8 .3-21.5 .5 20.9 .6-17.1 .6 3.6 .6-17.2 .2-.1 .9 13.8 .2-27.3 .5 16.8 .4-15.6 .1 11.3 1-7.2 .8-8.3 .6-13.7 .1 23.8 .4-15.1 .8-17 .4 1.1 .6 11.4 .8-21.5 .2 23.3 .6-23.4 .2 17 .4-21.9 .1 19.7 1.5-7 .3-18.2 .7-4.5 .2 17.1 .7-5.1 .1-12.6 .4 4.9 .9-13 .2 18.7 .8-18.2 .5 4.2 .1-10.4 .6-4.6 .5 18.3 .6-28.3 .2 31.1 .7-1.1 .1-22.6 1-14.1 .7 19.9 .1-2.4 .8-15.6 .7-7.2 .4 15.4 .1 .9 .8-24.6 .3 24 .5-18.8 .8 13.4 .4-26.1 .3 1.3 .4 26.1 .7-28.1 .2 24.5 .7-8.1 .1-18.8 .8-1.9 .6 21.9 1 2.9 .3-13.2 .2 7.7 .8-19.5 .1 24.7 .6-23.1 .8 26 .4-24.8 .4-12.7 .3 23.5 .9-16.1 .5 16.2 .3 8.4 .2-28.8 .8 4.4 .3 23.2 1-18.6 .1 9.7 .6 .6 .6-22.2 .2-.5 .8 24.6 .3-21.9 .4 22.3 .6-2 .3-19.1 1.1 1.4 .4 27.7 .6-27.3 .3 20.8 .2-24.6 .9 26.2 .1-5.7 .2-24.8 1.2 30.3 .4-23.4 .3 22.3 .8-23.2 .1 22.9 .4-26.7 .6 4.6 .5 28.4 1-23.5 .1 13.8 .6 6.8 .3-22 .7 3 .7 24.9 .5-16.7 .2 16.9 .5-1.1 .3-19.6 1.1 1.3 .3 22.9 .6-20.8 .4 24.2 .3-8.3 .4-23 .9 34.7 .1-17.8 .6 17.5 .7-25.5 .2 13.1 .2 16.5 1 3.2 .3-26.4 .6 27.8 .4-19.7 1.3 18.7 .1-34.4 .6 16.9 .4 19 .5-13.7 .1 11.3 .7-8.1 .2 14.2 .8-17.5 .3 17.1 .7 5.1 .7-16.3 .5 2 .1 12.2 1-5 .4 20.9 .2-26.7 .3 33.3 1-4.8 .1-24.4 .7 7 .4 14.8 .6-12.1 .4 13.5 .9 5 .1-24.6 .4 8.5 .5 16.8 .7 2.5 .7-23.1 .7 28.6 .2-22 .3 18.6 .4-18.7 .9 33 .4-21.6 .3 33.6 .5-34 .8 21.6 .2-12.7 .5-12 .5 26.8 .4-10.4 .1 9.1 1.3 11 .5-15.6 .2-5.3 .7 29.5 .2-16.4 .8 18 .3-2.8 .7-12.5 .7 3.1 .3 13.8 .4 12.8 .4-18.4 .5 2.3 .1 14.4 .8-25 .2 23.6 .8 13.7 .4-22.1 .6 3.8 .5 25.4 .5-27.1 .4 22.2 .6-22.5 .5 20 .7 9.4 .4-22.8 .9 4.1 .3 12.8 .3 3.6 .8-14.2 .2 2.9 .3 25.6 .8-5.1 .2-20.1 .8 4.7 .7 22.8 .7-4.1 .2-13.6 1 30.1 .1-25.1 .2 24 .1-23.5 .9 21.3 .1-17.6 .9 4.7 .7 22.8 .7-3.3 .4-13.1 .2 4.6 .1 30.1 1.4-12.7 .3-14.4 .5 2.9 .1 10.5 1.1 7.9 .2-17.5 .4 4.6 .2 13.3 .7 9.9 .3-21.8 1.1 24.2 .3-15.7 .4 1 .7 18.7 .1-.9 .6-20.8 .6 3 .6 22.3 .6 4.7 .2-7.8 .4 1.5 .6 17.5 .6-26.6 .4 23.9 .5 9.5 .4-28.2 .5 9.6 .6 26.9 .5-24.9 .4 16.4 .7 2.5 .4-13.8 .6-4.3 .4 21.9 1.2 4.3 .1-17 .3 18.9 .3-20.1 .9 9.6 .5 13.4 .1 15.2 .8-21.9 .7-6.6 .1 17.3 .6-9.8 .6 13 .2-12.8 .2 19 1.3-16.1 .1 18.9 .8 3.9 .4-18.3 .6 27 .2-19.7 .5-6.2 .5 29.5 .4-15.5 .8 14.6 .3-15.4 .4 18.3 .9 2.3 .4-23 .7 25.7 .1-25.1 .5 11.2 .4 19.8 1.3-16.7 .1 17.7 .1-13.9 .9 26.2 .1-5.6 .6-26 .6 27.8 .3-17.6 .5 17.7 .9-15.1 .2 21.3 .7-16.8 .4 18.6 .2-15.9 .7-6.5 .5 28.9 .6-12.9 .2 11 .8 .5 .4-11.6 .9-5.8 .3 15.9 .7-6.7 .3 13.7 .2-12.7 .6 19.7 1.2-1.6 .1-13.6 .2-3.1 .7 16.9 .2-16.4 .8 24.2 .8-4.4 .3-15.1 .7-2.2 .2 25.3 .7-12.6 .1 12.5 .4-5.5 .6 12.7 .9-1.9 .1-12.8 .6 20.8 .6-10.5 .2 18.7 .1-15.9 1.3 12.1 .4-14.8 .6 28.5 .1-16.5 .6-5.4 .1 21.5 1.2 1 .5-19.6 .2 8.2 .8 17.2 .3-8.6 .3 10.2 .6 5.8 .5-16.7 1 5.1 .3 10.6 .3-8.2 .7 18 .1-24.8 .4 31.3 .7-20.8 .1 14.4 1.2-12.4 .2 19.2 .6 4.4 .3-15.1 .9 .4 .1 10 .9 7.7 .2-15.3 .8 .1 .2 14.6 .8-10.4 .4 19 .4-19.6 .6 23.2 .4-19 .4 17.4 .9 3.6 .1-13.9 .4-7.2 .1 29.2 1-9.7 .4-8 .6 13.5 .4-16.2 .6 2.9 .4 21.7 1.1-25.2 .2 23.1 .3-.1 .4-13.4 1.1 16.1 .2-11.8 .7 5.2 .1 12.7 .4-2.8 .6-12.5 .6 3.6 .3 7.1 1-13.3 .3 16.5 .3-6.9 .8 15 .7-10.3 .3 12.5 .7 5.4 .2-17.3 .3 17.9 .8-25 .5 26.2 .4-13.4 .3 12.6 .7-16.3 .7-1.5 .4 21.7 .7-11.8 .3 13.9 .5-.7 .1-11.5 1.1-2.5 .2 16.9 .3-11.2 .1 15.6 1-10.2 .3 11.8 .9-16.8 .4 19.6 .2-13.9 .8 15.4 .4-10.6 .7 11.2 .3 .3 .3-15.8 .7 27.8 .4-25.7 .9 21.7 .3-15.4 .2 5.9 .5 9 .7-15.4 .4 15.8 .5-8 .1 9.7 1-16.9 .3 25.3 1.1-2.5 .3-10.9 .3-5.2 .3 17 .6-8.8 .8 13.7 .1-8.7 .2 7.5 .8-11.4 .1 13.3 .9 1.5 .4-5.5 .7 9.1 .3-17.1 .7 2.6 .8 14.6 .1 .3 .1-9.9 1.1 1.3 .6 19.3 .3-24.6 .1 15 1.2 12.4 .4-25.5 .2-.6 .9 20.1 .2 .8 .4-12.6 1-3.8 .4 16.7 .6 7.3 .1-23.5 .4 16.1 .2-18.2 .9 17.4 .3-8.5 .8-1.1 .2 13.2 .7-14.2 .1 18.3 1.3 1.7 .1-22.7 .6 1 .6 12.4 .2 .8 .6-11.9 .5 20.8 .1-20.3 .8 17.6 .6-15.5 .5 13.3 .7-8.9 .4-3.8 .2 13.5 .7 .6 .8-18.7 .3 5.9 .4 14.1 .6-15 .4 17.4 .5 .2 .8-17.1 .6 1.8 .4 15.1 .2 .6 .5-17.3 .4 21.2 .1-17.5 .9 17.5 .1-15.7 .9-13 .6 33.3 1-26.5 .2 15.9 .2-10.3 .4 12.3 .6-13.7 .9 13.3 .5 2.7 .4-19 .7 4.8 .4 13.3 .2-14.4 .4 13.6 1.1-15.3 .3 10.3 .1-10.6 .8 21.3 .6 5.4 .2-25.1 1.2 10.4 .1-7.8 .1 12.1 .6-13.2 .5 10.6 .3-10.8 .7 10.5 .7-11.6 .8 12.3 .3-13.8 .1 3.7 .1 13.2 1-5.8 .1-13.2 1.2 15.7 .2-10 .5 6.6 .7-14.3 .4 19.4 .2-16.9 .7-3.3 .1 14.8 .9-10 .8 12.2 .5-9.8 .1 4.1 .5-10.3 .5 20.5 .5-7.5 .1-14.2 1.4 1.6 .4 7.4 .2-17.6 .1 17.5 1.2 3.5 .4-19.1 .4 22.3 .3-14.4 .7 10.1 .4-11.4 1.2 13.5 .1-16.7 .3-.3 .7 14.8 .7 5.8 .2-18.2 .2 1.9 .9 10.7 .2-5.3 .1-11 1.3 .7 .4 13.9 .1-16 .9 7.3 .6 1.7 .1-11.3 .8 17.1 .5-13.9 .1 10.1 .2-17.4 1.4 9.6 .3 5.9 .1 5.2 .9-17.4 .1-.8 .9 12.9 .2 2.7 .8-16.1 .9 13.7 .1-10.6 .1-10.9 .1 15.8 1.7-7.7 .1 12.3 .5 2.9 .4-25.7 .7 5.6 .1 16.5 .5 1.2 .5-11.3 .4-14.7 .9 21.1 .2 3 .8-15.4 .3-4.9 .3 14.2 1-11.7 .1 11.8 .5-13.6 .7 12.5 .2-16.1 .9 16.1 .1 1.7 .8-20.8 .6 23.3 .1-21.5 .5 1.6 .1 10.2 .9-8.7 .6 12.3 .6-3.4 .7-8.6 .2 8.8 .3-10.4 .6 12.4 .1-15.3 1.1-1.6 .6 13.9 .6-17.9 .4 19.7 .2-2.4 .5-14 .5 11.1 .2-10.2 .8 2.6 .2 16.5 1.3-4.5 .4-11.4 .3-7.2 .3 24 .5-2.8 .6-13.6 .6-4.4 .7 17.9 .2-3.5 .7-15 .4 17.1 .4-14.6 .9 14.3 .1-17.9 1.2 5.9 .1 12.8 .3-15.6 .4 16.4 .5-1.5 .8-20.2 .1 4.2 .5 13.2 1 .3 .4-12.8 .1-3.1 .1 17.8 1.4 .8 .3-14.7 .2 1.7 .8 13.3 .4-15.7 .7 12.6 .2-2.3 .8-15.8 .2 25.1 .7-14.3 .4 6.3 .4-8.7 1 8.7 .2-10.7 .2 2.5 .4 11.3 1-15.3 .1 19.6 .7-3.4 .3-14.4 .6 21.1 .7-31.9 .6 8.3 .4 16.2 .2 9.4 .2-18.5 1-2 .6 13.8 .2 .7 .1-16.5 1.5-9.4 .2 26.3 .7-6 .3 6.9 .7-12.8 .3 14.1 .2-11.3 .5 8.3 .5 8.2 .1-16 1.1-5.9 .4 24 .8-15.9 .4 10 .3-9.5 .1 8 .8 3.9 .6-15.3 .5 14.4 .5-17.1 .5 17.8 .7-13.3 .2 21.5 .2-19.7 .9 2.7 .5 8.1 .9 1.9 .3-13.8 .4-.2 .4 11.8 .9-11.3 .4 15.7 .3-19.7 .4 18 .5 .5 .8-9 .7 10.8 .2-12.8 .2 4.1 .5 14.4 .7-16 .2 19.9 1.2 1.3 .2-21.4 .3 6.7 .7 8.8 .4-13.7 .7 10.8 .1 4 .4-18.3 1.1 3.8 .1 19 .6-13.3 .3 15.1 1.3-8.6 .1-13.1 .3 2.1 .2 8.7 .8 5.8 .7-8.8 .3 13.2 .4-14.9 .4-.5 .2 13.2 .9-11.4 .7 14.8 .6-16 .2 14.1 .6-2 .3-12 .9 4.8 .4 11.6 .7-6.6 .3 5 1 9.4 .1-16.2 .2 .4 .3 8.7 1.1-12.7 .3 20.2 .8 2.5 .3-22.7 .5 8.9 .1 12.5 .5-12.6 .5 10.4 .7-7.1 .6 8.3 .2-11.1 .4 17.5 .7-13 .1 9.9 1.2 6 .5-11.8 .1-4.1 .4 15.7 1.2 .3 .2-14 .4-1 .2 16.1 .6 0 .1-15.7 .9 5.1 .5 16.2 .5-14.7 .9 17.3 .3-4.9 .2-6.1 1.2-5.6 .3 14.5 .1-15.7 .1 13 1.1 6.8 .7-11.2 .2 8.2 .4-8.2 .5-3.3 .1 19.5 .9-12.8 .6 13.1 1.2-12.3 .1 11.4 .5 .2 .2-10.3 .9 13.2 .3-13.8 .3 18.5 .7-16.7 .4-2 .7 10.2 .3 3.1 .6-14.1 .8 24.3 .2-19.1 .3 14 .7-13.2 .4 19.6 .3-20.4 1.1 1.8 .2 15 .6-2.1 .5-12.5 .5 11.6 .2-8.7 .5 4.1 .4 7.1 .9 3.5 .1-14.8 .6 .5 .4 18.7 1-16.7 .3 20 .2-17.6 .8 13.9 .2 3 .4-11.2 .7-.8 .1 11.2 1.2 2.9 .1-11.7 .5-3.5 .4 11.7 1 7.6 .1-21.8 1.1 8.3 .2 7.3 .3-13.2 .7 15 .4-8.7 .7 13.6 .2-14.2 .3 15.5 .7-12.7 .5 13 .5-5.4 .5-10.8 .9 12.3 .1-10.3 .8 .7 .4 14.8 .7-16 .1 21.9 .6-25.5 .2 22.7 .8-15.2 .7 12.9 .1 4.3 .4-16.9 .7-.4 .7 11.7 .8 8.3 .2-19.5 1 17 .1-15.4 .3 11.6 .6-7.2 1-1.6 .1 13.4 .7-13.9 .2 18.3 .6-4.1 .5-9.5 .2 1 .8 8.8 .7-10.7 .2 14.2 .3-12.6 .1 10.1 1-4.8 .7 10.8 .2-3.6 .4-10.1 .6 10.8 .5-10.4 1 12 .2-13 .6-3 .2 12.4 .4-6.4 .6 9.9 .8 5.4 .4-13.6 .6 1.4 .5 13.3 .6-2.3 .1-7.1 .8 7.3 .4-12 .7 11.6 .1-10 .5 2.3 .8 12 .1-1.8 .1-7.1 1.4 6.3 .4-10.5 .2-2.5 .1 18.2 .8-22.5 .1 25.7 1.3-6.6 .2-9.8 .4 15 .2-14.1 1.6 4.1 .1 10 .7 2.5 .3-10.4 .1 10.9 .6-17 .9 20 .1-16.2 .5 3.1 .8 6.4 .3-6.6 .3 10.2 .5-16.2 .9 15.9 .1-1.8 .6-10.5 .9 13.9 .3-10 .3 7.2 .5-12.3 1 15.9 .2-14.7 .3 2.1 .3 12.6 1.2-12.4 .2 9.3 .6 5.8 .2-14.8 .9 16.7 .3-13.1 .2-3.3 .1 13.6 1.5 1.5 .2-14.4 .7-1.5 .4 14.5 .2 2.2 .7-13.1 .3 1.6 .1 8.3 1-10 .2 12.3 1-7.6 .5 9.9 .3-9.2 .7 7.6 .5-7.9 .1 6.6 .5-12.9 .2 12 1.2 .7 .4-7.4 .4-2.3 .6 11.6 .4-10.1 .2 14.1 .7 1.2 .3-14.6 1-5.5 .4 22.1 .3-5.9 .5-14.2 .4 2.8 .8 12.4 .3-3.3 .8-7.4 .1 8.4 .4-9.5 1.4 5.5 .1-6.4 .3-3.5 .6 15.4 .4 1.6 .4-14 .8 10.5 .5-7.9 .3 .1 .2 10.6 .8-15.7 .6 15.5 .2-11.6 .6 9.8 .4-2 .9-7.3 .3 7.7 .2-12.7 1.2 1.4 .3 10 .1-4.7 .2 8.5 1-2.4 .3-7.7 .6 9.4 .4-8.7 .5-1.3 .5 8.3 .7 6.5 .2-18.4 .7-1 .1 19 1-16.6 .3 12.5 1-15.9 .1 15.6 .6 4.4 .7-16.8 .2 3 .4 7 1-3.3 .1 6.6 .4-4.7 .4-8.3 1.1 11.8 .1-11.7 .8-.1 .4 11.6 .8 2.5 .2-11.7 .7 12.4 .4-12.2 .3 8.5 .2-15.1 .6 4.9 .5 7.8 1-11.8 .4 17 .3 1.8 .4-15.7 1 2.8 .2 7.4 .4 3.1 .3-17.3 .9 14.7 .5-15.9 .1 16.1 .1-10.7 1.3 13.1 .5-13.9 .5 1.8 .2 13.4 .9-15.2 .3 11.2 .2-12.4 .6 9.9 .9-9.5 .4 16.8 .6-18.2 .4 12.7 .5 3 .1-11.5 .5-5.3 .1 10.4 1.1 5.6 .3-8.4 .7 6.2 .2-11 1.1 1.5 .3 15.4 .3-4.2 .5-11.6 .5 12.8 .7-15.1 .2 11.9 .2-12.2 1.2 12.5 .1-11.8 .5 13.6 .6-5.8 .8 3.6 .2-5.2 .5-7.4 .7 11.2 .3 5.4 .4-17.3 .5-2 .1 13.7 1.4-.9 .4-7.5 .3 9.1 .6-13.2 .4 5 .7 7.6 .1-8.8 .5 17.7 .6-20.1 .5 12.3 1-7.4 .2 10.6 .6-8 .5 10.3 .7-14.1 .3 14.9 .7-15.8 .2 12.2 .7-7.7 .3 10.4 .4-4.5 .6-6.2 .6-2 .1 11.4 .5-12.4 .8 13.7 .7-13.8 .3 17.5 .6-11.3 .4 12.9 .2-18.4 .2 13 .8 3.4 .1-7.8 .9 9.3 .9-16 .5-1.2 .5 15.5 .7-12.6 .3 12.3 .7-4.7 .2 7.9 .3-7.6 .1 8.6 1 0 .2-10.4 .8 1.9 .7 17.6 .1-9.9 .8-10 .3 5.5 .1-13.9 1.2 7.8 .5 12.6 .1-10.6 .6 11.9 1.2-13.4 .1 13.4 .2-9.7 .1 11.6 1-17.7 .3 19.6 .7-11.6 .4 8.9 .8-2.1 .2-11.1 .8 16.1 .2-14.5 .5 12.3 .7-12 .6 .8 .4 12.8 .2 1.3 .8-12.3 .3-.9 .7 13.4 .6-.6 .4-11.3 .6 10.5 .5-13.3 .2 17.3 .3-10.4 1.1 .4 .3 8.9 .2-.9 .9-11.4 .1 1.2 .9 12.8 .7-.7 .3-7.4 .5-1.6 .5 6.6 .5-5.5 .1 9 .5-6.7 .6 14 .8-7.8 .4-8.4 .4 14.3 .3-14.8 .6 7.9 .5-5 .5 0 .3 11.5 .6-.3 .1-9.7 1.4-6.4 .1 13.9 .4 1.4 .2-8 .9 9.6 .7-10.8 .2 3.3 .9 9.9 .3-2.8 .7-10.7 .2 1.6 .4 12.7 .6-7.2 .8 13.6 .5-3.3 .5-13.6 .3 10.5 .6-12.9 .7 13.1 .4-4.8 .5 6 .4-10.2 .4-.3 .2 15.1 1.1 .6 .4-10.8 .6-1.3 .3 15.3 .6-3 .5-11.9 .2-4 .7 15.9 .4-1.1 .2-11 .6 10.9 .6-13.9 .5 7.1 .4 16 .5-5 .6-8.7 .5 7.2 .7-11.3 .8 11.8 .2-12.2 .2 2.9 .8 13.6 .8 3.8 .3-13.8 .2 7.5 .3-11.7 .7 1.1 .8 13.7 .5 2.4 .1-13.2 .5-2.2 .6 12 .9-11.3 .1 11.1 .5 1.8 .7-5.3 .8-6.1 .2 16.2 .7-13.7 .3 9.4 .4-10 .6 9.9 .6 2.7 .5-14.4 .5 1 .1 19.9 .7-17.3 .3 8.7 .7-7.7 .2 9.3 .7-11.3 .3 13.5 1-15.1 .5 14.8 .6-11.4 .3 11.1 .3 .2 .3-12.9 .7 18.7 .1-10.4 1.6 6.5 .1-6.4 .1 1.1 .8 6.1 .2-8.5 .4 10.3 1.2-9.6 .3 16.6 .3-17.9 .2 13.2 .8-14.7 .6 12.9 .2-9.7 .1 19.1 1.1-4.7 .4-7.4 .6-4.3 .6 9.1 .2 1.5 .4-9 .6-1.1 .9 14 .3-4.2 .6-14.7 .2 5.8 .2 10 .8-7.1 .9 12.1 .2-2.8 .8-10.9 .5 14.8 .4-11.2 .6 .2 .5 7.7 .2 .7 .4-9.3 .5-.5 .9 7.7 .2-6.1 .8 7 .1-5.8 .6 11.7 1.2 2.9 .1-13.9 .3 11.1 .4-10.4 1 12.3 .2-14.8 .7 .8 .3 12.4 .6 .4 .5-7.7 .1 7.2 .1-8.7 1.4-.1 .1 9.4 .9-11.2 .1 11.2 .4 4.1 .9-11 .2 2.5 .1 8.5 .8 2.5 .5-14.7 .5 1.1 .6 9.3 .5-7.5 .8 11.1 .2-10.2 .5 10.2 .9 .3 .3-11.9 .2 5.3 .6 6.7 1.2-9.1 .1 12.5 .2-3.2 .7-6.7 .6-4.6 .5 6.8 .5-1.7 .4 8.3 .3-2.9 .8-10 .7 3 .3 11.3 .1-13 .5 12.6 .5-10.8 .5 13.7 .6-11.6 .7 12.5 .2-2.4 .2-10.2 1.6 9.3 .1-12.2 .3 5.6 .3 11.8 .6 .6 .5-12.1 .6 7.2 .7-6.4 .3 8.9 .2-8.2 .6 7.7 .4-9.5 .6 8.9 .4-9 1.2-4.7 .3 15.4 .5-8.7 .4 11 .8-12.9 .2 12.7 .2 1.2 .2-17.5 .8 5.1 .6 12.7 .6 .1 .6-7.3 .7 4.9 .3-5.1 .8-1 .3 11.3 .1-.1 .6-10.4 .4 5.2 .6-9.2 .9 9.3 .4 5 .3-8.2 .3 8.7 .5-9.1 .9 10 .1-8.9 .5 9.9 1.3-11.2 .1 11.9 .3-2.3 .3-10.3 .6 15.3 .5-12.8 .4 7.6 .4-12.7 1.1 15.2 .1-10.7 .4 9.5 .5-7.6 .6 9.7 .4-13.3 .9 9.7 .4-5.8 .2-2.3 .6 10.3 .4-7.9 .5 9.6 .5-13.3 .5 16.8 .5-12.9 .8 8.1 .7-9.1 .4 14.7 .9-5.1 .1-7.5 .2-3.4 .1 18.1 1-5.4 .6-7.7 .3-2 .3 10.3 .6 .8 .6-8.9 .6-4 .6 11.6 1-9.8 .1 7.2 .6 5 .3-12 .2 13.7 .6-8.6 .6-1.3 .4 7 .4-8.9 .9 11.1 .1-10.1 .5 10.6 .5 0 .1-9.4 1.1-3.1 .4 14.4 .5-.4 .1-11.5 .8-1.6 .4 7.7 1-5.4 .5 8 .1 4.8 .8-11.5 .7 .2 .1 6.6 1 2.6 .2-11.8 .6 13.5 .2-15 1.2 2.6 .1 8.1 .1-12.1 .8 15.1 1 .6 .1-8 .9 6.3 .1-5.1 .2 5 .8-5.8 .9 9.5 .1-11.7 .2 10.8 .5-7.2 .6 9.5 .4-13.4 1 2.4 .2 9.7 .3-9 .5 7.6 .8-6.9 .5 8.1 .3 2.5 .3-14.6 .7 16.2 .3-11.3 1.3-1.2 .1 11 .6-11.1 .4 11.6 .5-10.1 .5 7.5 .7-9.6 .3 10.1 .3 1.6 .3-10.4 1 1.7 .3 5.9 .8-8.3 .3 12.3 .1-2.3 .2-9.6 .9 7.5 .7-5.7 .4 .4 .7 8.8 .6 3 .3-7.6 .3 2.6 .4-10.2 .7 2.6 .2 11.9 1.1-3.3 .1-9.2 .6-.2 .3 13.4 1.1-9.5 .3 7.2 .3-8.1 .4 12.8 .5-1.8 .7-13.6 .3 17.5 .4-14.6 .5 .5 .9 8.7 .1-13 .1 10.4 .9 3.4 .8-9.1 .2-.2 .6 9.2 .8 3.4 .1-14.9 .6 15.4 .5-14.4 .4 10.9 .5-9.1 .9-2.2 .1 10.9 .7 .2 .7-12.2 .3 12.2 .6-10.6 .6 13.8 .2-13.7 .6 1.5 .6 11.8 1-3.3 .1-9.6 .2 4.5 .7 8.6 .4-4.1 .2-8.1 .7 3.8 .3 4.2 1 1.2 .2-7.8 .4 12.7 .8-12.5 .2-4.9 .5 10.4 1-.3 .3-3.4 .3 12 .7-16.2 .6 5.3 .1 5.4 .5-1 .1-7 1.1 12 .4-12.5 1 1.4 .3 10.9 .2-11.6 .1 7.4 1-.5 .6-7.6 .2-.1 .6 10.3 .8 5.4 .4-12.9 .3-5.5 .5 14.1 .8-.6 .4-13.5 .2 6.3 .2 5.3 .8 .6 .1-9.5 1.5 11.1 .3-9.6 .5 1.7 .2 6.7 .6 .8 .6-7 .8 2.9 .3 5.3 .1 .6 .6-11.2 .6 1.4 .2 10.8 1.2-4.5 .2-5.4 .6-.6 .2 11.5 .9-1.8 .1-9 .4 8.7 .1-5.9 1 6.5 .1-10.3 1.2 9.4 .1-8.2 1.3 11.6 .1-7.8 .9 7.6 .1-13 .3 1.7 .3 9.1 .7 .2 .6-5.5 .3 0 .8 7.8 .3-10.6 .6 8.5 .3-6.5 .8 9.8 .3-12.7 .4 12.1 .8-10.5 .1 7.2 .9 2.8 .2-10.2 .5 9.1 .4-8.2 .9 8.4 .2-10.6 .5-.4 .1 13.1 1.3-12.2 .1 7.2 .4-6.4 .5 10.3 .5-7.8 .5 6.2 1.1 5.3 .2-12.2 .6-2.2 .1 11.2 .7-1.2 .4-9 .4-1.9 .9 11.3 .2-10.2 .4 10.1 1 3.9 .3-12.5 .7-1.1 .4 8 .5-8.6 .1 8.5 .7-8 .3 12.7 .7-2.1 .4-5.7 .8-.9 .4 8.3 .4 2.8 .6-16 .7 12.7 .3-8.1 .2 8.2 .8-10.5 .4 2.4 .4 11.3 1-15.1 .3 13.4 .2-10 .5 7.7 .9-8.9 .3 10.5 .2-9.4 .4 7.7 .8 .6 .2-10.9 1 4.4 .5 7.1 .6-8.6 .1 8.1 .8 2.3 .4-11.3 .2 .8 .1 8.2 1-4.7 .5 8.5 1-2.4 .2-6.7 .4 9.8 .3-12.2 .9-1 .2 15.7 .4-13.7 .4 12.3 .8-1.3 .7-13.1 .5 14.4 .5-12.2 .3-2 .6 8.7 .2-5.1 .2 10.5 .9-3 .1-11.6 1.2 4.9 .5 8.8 .6 .6 .1-12.1 .5 3.7 .8 8.6 .5-5 .4-5 .2 6.8 .9-8.7 .5 .4 .1 8.6 .6-1.5 .4-7.1 .6 5.1 .8 6.6 .1-10.5 .2 10.6 .9-7.4 .8 6.4 .2 2.1 .7-10.3 .3 1.8 .8 6.8 .1 3.3 .4-13.1 1.2 2.6 .3 9 .7-.3 .3-9.1 .5-2.6 .1 13.2 .6-10.7 .8 9.7 .2-1.7 .8-7 .3-2 .2 7.4 .7 .6 .7-10.4 .7 8.8 .3-9.5 .2 10.3 .2-7.7 1 10.5 .3-8.3 .7-.9 .7 8.3 .2-7.8 .3 10.9 .6-3 .9-8.7 .2 1.3 .8 9.1 .5-10.7 .2 10.3 .6-.5 .3-10.2 1.1 2.4 .2 7.2 .6-4.1 .2 6.5 .9 5.3 .3-13.4 .3 1.8 .7 6.3 .2 2 .9-7.2 .6-5.6 .3 11.2 .3-9.7 .3 10 .6-8.3 .6 8.9 .4-.3 .1-7.3 1.1-3.2 .2 8.5 .8-7.9 .4 10.9 .4-7.8 .2 6.8 1.3-10 .4 12.4 .2-14.6 .5 12.8 .5-.9 .4-8.2 1 7.7 .3-7.6 .4-.2 .3 10.7 .7-13.4 .3 13.8 .5-1 .9-11.9 .5 10.8 .5-9.4 .2-.2 .4 6.9 .6 4.5 .7-9.4 .4 6.2 .6-6.4 .2 7.9 .2-10.2 .8 3 .8 7.3 .4-7.9 .2 10.2 .6-3.7 .6-6.1 .9 5.5 .4-4.6 .7 8.9 .2-10.7 1-.1 .1 8.7 .1-6 .6 6.2 .5-.4 .5-9.8 .8 2.5 .4 8.1 .2-8.5 .2 11.5 1.2-12.1 .5 8.9 .2 2.9 .7-15.2 .3 11.5 .1-8.3 .8 12 .5-10.3 .5-.5 .6 10.1 .5-11.1 .3 9.4 1.4-7.9 .1 8.4 .1-1.3 .4-7 1 .3 .4 7.4 .3-.4 .8-8.8 .6 13.2 .4-13.4 .2 2.7 .1 7.8 1 .7 .6-8.2 .2 8.4 .9-9 .5 7.9 .2-9.3 .6 9.9 .4-10.8 .4 10 .1-7.3 1 13.8 .7-12.5 .6 4.7 .5-9.4 .1 9.9 .9-3.7 .2 9.7 .7-11.4 .2-1.2 .6 7.2 .8 3.2 .5-9 .5-1.3 .1 9.8 .7 2.9 .3-12.6 .9-.4 .5 5.2 .1-3.5 .5 7.8 .7-10.3 .2 10.1 .8-8.3 .6 7.5 .3-1 .5-8.8 .4 3.8 .4 11.5 .6-4.9 .2-9.2 1 2.9 .7 10.2 .5-3.9 .4-8.7 .8 .1 .2 12.5 .3-2.3 .8-10.4 .2-.4 .3 11.3 .7-1.3 .7-10.2 .2 9.7 .2-9.7 1 3.7 .7 5.5 .7-10.2 .3 7.7 .2-1.9 .1 7.4 .9-11.7 .3 7.5 .6-3.7 .1 8.9 1.4-8.2 .1 5.7 .4-1.3 .6-5.8 .4-.3 .5 7.5 .5-9 .6 12.8 .5-9.7 .8 6.3 .1-8.6 .9 6.7 .1-5.9 .5 6 .7 2.5 .4-9.2 .4-1.8 .9 12.4 .1-.2 .2-9.3 1.4-3.3 .3 11.8 .1-10 .8 9.7 .4 .8 .6-10.4 .3 9.9 .3-8 1-1.9 .4 13.6 .4-5.6 .4-5.4 .4 11.9 .9-12.4 .7 6.2 .2-12.3 .6 5.8 .1 10.7 .6-9 .7 9 .3-9.7 .4 8.2 .7-1.8 .2-5.7 1.1-2.8 .4 10.8 .5-2.9 .5-4.3 .7 5 .2-8.8 .2-.5 .1 9.6 1.5 6.5 .3-11.6 .2 7.4 .5-12.1 1 9.7 .2-9.3 .3 8.9 .4-5.6 .6-4.2 .7 15.3 .3-15.7 .5 10 .9 1.9 .4-7.6 .2-1.3 .8 6.8 .6 2.9 .1-7.6 .6-.6 .7 10.1 .1-9.5 .8 6.8 .3 1.8 .7-7.1 .7 5.3 .3-6.3 .3 11.3 .1-11.3 1.3 8.1 .4-11.2 .6 5.1 .4 6.7 .3 1 .3-10.4 .6 8.2 .3-7 .7-3.7 .1 11.2 1-9.2 .6 7 .7 1.5 .1-8.3 1 8.6 .3-10.3 .1 10.3 .8-9.4 .3 2.2 .4 6.5 .6 1.1 .1-7.8 1 .1 .4 9.2 .5-.4 .4-11.2 .6 8.4 .1-8 1.6 4.7 .1 6.4 .1-2.4 .8-9.6 .2 .8 .9 11.2 .5-2.8 .1-5.4 .6 8.9 .3-12.3 .6 .3 .9 10.6 .3 2 .3-12.3 1 8 .4-7.1 .3-1.5 .7 9.7 .6-7.7 .4 8.2 .5-6.3 .1 6.7 .9-2.4 .5-7.5 .2 .9 .3 9.4 .7 3.5 .5-14.3 .4 10.7 .4-9 .8 1.6 .6 8.9 .3-1.1 .7-9.6 .7-1.1 .3 12.7 .4-10.8 .4 9.2 .6-2.6 .7-8.1 .1 2.3 .2 9.2 .8-1.4 .9-9.5 .6 1.8 .3 7.6 .6-8.2 .1 9.3 .6-10.2 .3 15.5 1.4-12.9 .1 6.8 .9 1.6 .1-11.7 .6 2.3 .3 5.6 .2 4.5 .1-10.1 1.3 .9 .5 6.7 .5-1.5 .4-10.7 .3 9.7 .5-6.4 .6 1.8 .2 7.6 .8 .5 .7-5.2 .5 3.8 .5-8.3 .6-1.5 .1 9 .5-3.2 .1 11.1 1-8.6 .3-6.7 .5 12.6 .5-9.6 .6 4 .7-7.1 .3-.5 .4 11.7 .7-9.7 .7 9.1 .2-12.8 .8 10.9 .1-8.8 .4 7.1 .7 3.3 .7-6.3 .7-3.9 .4 12.5 .2-7.6 .1 5.7 .9-.2 .3-7.3 1.1 5.5 .3-5.1 .8-3.6 .3 9 .1 .6 .9-12.1 .5 6.4 .2 7.9 .4-.5 .4-8.6 .8-1 .4 9.6 .6-11 .6 9.2 .4-7 .4 8.5 1.2-10 .1 9.4 .5-3 .5-6.5 .6-3.6 .3 11.8 .4-1.3 .2-5.4 .6-.4 .4 10.8 .8-13.1 .2 13 1.1-11 .1 5.8 .8 1.4 .1-4.4 .7 7.5 .6-10.1 .6 10.5 .4-12.4 .6-1.8 .5 13.6 .2-.8 .1-7.3 1.4 2 .3 6 .5 .9 .5-11.6 .1 9.4 .5-8 .9 6.3 .1-8.7 1 4.6 .4 8.7 .9-3.2 .1-7.2 .9 8.5 .1-7.5 .6-3.1 .4 11.6 .1-2.3 .9-9.1 .1 9.8 .8-6.5 .6 5.1 .2-4.6 .9-1.9 .3 9.3 .2-11 .5 8.3 .6-8.1 .1 10.9 .8-12.8 .5 11.5 .5-.1 .1-8 1 9.5 .7-11.6 .3 2.6 .1 5.3 1.2-4.8 .5 11.5 .6-5.6 .1-7.1 .4-.8 .8 7.6 .4-3.3 .2 5.7 .6-9 .4 5.7 .7-3.8 .4 6.2 .6-7.9 .1 7.5 .8-11 .2 15.2 1.6-4.4 .1-9.1 .2 9.7 .5-8.1 .4 8.8 .4-11 1 2.5 .2 5.7 .9-5.7 .4 8.7 .3-12.3 .3 11.5 1-.2 .3-6.8 .7 9.1 .4-15.4 .2 13.6 .8-9.2 .6 .4 .1 8.7 .8-7.4 .2 5 .8 1.9 .4-9.3 .4 1.4 .6 6.6 .4 2.2 .7-6.9 .1 3.4 .4-4.2 .7 2.1 .5 6.5 .6-2 .2-6.8 .8 14 .4-12.5 .9-3.9 .1 9.8 .6 .3 .6-8.1 .2 13.6 .2-10.1 1 4.5 .2-9.4 .7 8.3 .8-8 .7 0 .3 11.5 .1 2.6 .6-13.7 1-1.8 .3 11.9 .2-10 .1 8.9 1.2-8.1 .5 8.3 .3-9.3 .7 9.6 .1 3 .6-11.9 1 2.3 .2 8.2 .8-3.2 .3-5.1 .5 7.8 .2-8.9 .5 4.3 .8-9 .5 12 .2-7.1 .8 8 .4-6.4 .3-3.2 .3 9 1.2-8.1 .3 7.7 .1-9.7 .9 11.7 .5-1.1 .5-7.2 .3-1 .4 8.1 .5-8.1 .1 7.7 .9-1.7 .3-9 .6 10.9 .4-5.7 .6 9.6 .2-12.9 1.6 10 .1-9 .5 1.9 .2 8.9 1.2-9.7 .1 8.7 .2-2 .8-7.4 .1 8.2 .4-9.8 .6 7.9 .5-8.1 .5 4.8 .5 8.3 1-10.5 .1 12.5 .4-3.8 .8-8.4 .8 5.3 .2-5.6 .2-1.8 .8 9.1 .6-9.3 .4 10.5 .4-11.8 .4 14.7 .4-2.9 .9-8.1 .5 .4 .2 5.1 .4 2.7 .9-10.3 .5 2.1 .5 6.9 .9 8.3 .1-14.8 .1 6.5 .8-10.9 .3 5.2 .4 2.5 .9 1.2 .2-4.5 .8 1.6 .1 5 .6 1.9 .7-10.2 .2-.5 .1 13.3 1.1-4.6 .3-8 .5 2.4 .4 9.7 .6-11.8 .4 7 1.1-3.8 .3 7.2 .4-3.2 .7-8.2 .5 9.3 .4-4.8 .7-2.6 .1 8.7 .8-11.4 .5 12.3 .1-10.4 .8 6.5 .4-.3 .3-7.8 .7-.4 .7 11.3 .9-12.2 .1 11.5 .6-3.1 .3-10.9 .4 16.1 .6-13.6 .2 10 .6-8 .6 1.1 .2 8.1 1-9.6 .5 8.5 .2 5.1 .1-7.5 .9 5.1 .3-8.3 1.1 .2 .1 8.6 .6-7.3 .7 9.2 .6-12 .3 9.8 .3-12.1 .7 13.1 .7-10.8 .1 8.3 .4-8.7 .8 11.1 .6-10.1 .5 5.5 .5-7.4 .2 10.9 .6-7.7 .4 4.9 .6-6.3 .6 10.2 .2-9.1 .1 8.5 1-.9 .1-11.6 1.4 2.2 .3 8.8 .1-8.6 .5 8.1 .6-.2 .8-7.3 .3-1.4 .3 7.2 .9 2.9 .4-10.1 .2 9.1 .5-6.8 .6-4.1 .1 12.3 .9 1 .4-11.7 .7-3.8 .7 12.4 .1 .7 .9-6.1 .6-.8 .1 8.8 .4-2.8 .8-9.8 .2 11.3 .9-11.2 .3 10.4 .4-8.5 .6-.3 .4 8.1 .6 2.5 .7-11.5 .2-2.1 .7 10.8 .6-7 .5 7.9 .3 1 .3-7.7 1.3-2.3 .1 11.4 .2 .1 .1-12.1 .8-1.7 .2 10.1 1.6-6.3 .1 9.2 .1 .3 .9-9.1 .9 7.2 .1-9.1 .1 .3 .9 10.4 .2-8.5 .5 11.3 .8-5.1 .5-7.3 .2 11.6 .3-11.5 .7 1 .8 7.2 .9-7.8 .1 6.1 .3-7.1 .7 12.3 .7-.3 .3-13.2 .2 .4 .3 7.4 .7-4.1 .1 7 1-9.3 .4 8.1 .6-9.7 .6 8.7 .6-5.2 .4 10.5 .8-6.5 .3-9.1 .6 12.5 .3-7.3 .4-.2 .4 7.3 .9-10.9 .3 9.7 .3-.9 .8-5 .2 7.3 .3-6.7 1 4.3 .5-5.4 .1 .5 .6 8.4 .5 1.1 .3-10 .7-1.5 .1 8.6 1 1.1 .3-8.9 .7-2.3 .4 10.9 .8 4.2 .5-8.5 .1-2.6 .2 5.3 .9 2.7 .4-9.4 .5 2.8 .8 4.9 .7-6.8 .4 9.4 .1-1 .5-10.9 1.1 2.4 .3 8.3 .3-7.5 .3 8.4 .6-.5 .5-6.9 .5 3.5 .3-7.5 .6 2.4 .2 6.3 1.2-8.2 .5 9.1 .1 2.6 .1-11.5 1.4 2.4 .1 11.7 .9-13.5 .1 8.4 1-1.5 .2-8.3 .8 11.2 .2-7.9 .4-1.7 .3 6.8 .5 2.7 .9-10.5 .2 11.5 .8-9.5 .5 9.3 .4-8.9 .2 7.3 .1-8.4 1.3 10.4 .2-10.1 .6 5.5 .2-7.4 .8 8.3 .4-7.5 .6 8 .3-9.3 .7 7.8 .4-6.2 .6-1.8 .4 10 .8 .6 .5-8.6 .6-3 .3 12.7 .3-.8 .3-8.6 .7 9.3 .4-11.8 .6 14.7 .3-13.4 .7 9.5 .5-8.8 .4 7.3 .4-6.3 .6-.2 .2 7.7 .8-6.2 .1 5.8 1.3-5.3 .1 5.8 1.1-10.9 .3 8.8 .1 .8 .5-8.1 .5 11.7 .5-13.4 .7 13.4 .3-9.6 .5-5 .4 13.2 .8-7.7 .6 6.3 .4-10.2 .4 9.4 .6-5.9 .2 7.2 1.2-7.3 .2 6.7 .7-9.6 .1 11.3 .6-9.5 .2 6.9 .7-5.8 .8 7.3 .2 .9 .8-9.9 .6 8.6 .4-8.7 .7 2 .3 5.9 .1 3.6 .2-7.9 .8 6.7 .6-14.4 1 13.8 .2-9.2 .4 10.6 .3-12.7 .5 13.9 .8-13.3 .6 10.5 .1-11.5 .9 1.6 .5 10.8 .3-8.6 .6 7.5 .4-6.5 .6 7.4 .6-10.1 .5 10.9 .1-8.7 .4 5.1 1-8 .1 9 .5-.3 .9-8.1 .1 9.8 .9-9.4 .2 7.2 .7-4.4 .4-3.6 .3 9.5 .6-3 .8-2.8 .1 6.2 .5-6.7 1-.8 .1 6 .5-1 .4-7 .7 .7 .4 7.7 .4 3 .4-9.3 1.1 8.4 .3-13.3 .7 15.8 .4-12.9 .3 1.2 .7 6.6 .1 4.3 .6-10.4 .4 5.3 .2-6.3 1 8.7 .2-5.5 1 1.8 .2-8.7 .4 3.6 .5 8.6 .9 1.8 .5-12.4 .7 11.5 .2-7.3 .3-4.7 .7 11.6 .7-7.9 .1 9 .4-10.3 .4 9.8 1 .1 .2-11.5 .9 1.4 .1 8.3 .8-7.6 .4 8.5 .4-.9 .6-8.5 .6-.3 .1 8.1 .6-4.9 .1 7.6 .8-1.9 .5-10.6 .7 13.4 .4-10.1 .5 7.2 .3-6.2 .8-4.2 .3 8.7 .5 3.7 .2-9.7 1 9.4 .2-7.7 1.1-2.3 .1 10.4 .5-11.7 .7 10.1 .4 1.8 .7-9.8 .3 1.1 .3 7.4 1.3-.1 .1-6.2 .1 0 .2 8.8 1.6-10.8 .1 8.3 .1-7.9 .4 6.5 1.4 2.5 .1-8.2 .7 6.9 .2-7.7 .3 1.4 .8 7.3 .1-6.7 .8 7.5 .4-1.1 .6-10.8 .8 2.6 .3 8.2 .1 1.3 .5-8.3 .5 1.3 .1 4 1-5.4 .8 7.3 .5-10.4 .1 9.2 .5 3.1 .4-10.9 1.2 .3 .3 6.2 .3-5.3 .6 9.3 .2-3.1 .1-8.1 .9-1.8 .9 13.2 .2-.2 .3-9.8 .6 7.2 .6-8 .4 9.3 .8-10 .7 .8 .1 7.7 .5-8.8 .4 12.1 .7-2.3 .4-9 .4 1.2 .6 7.9 .4 1 .6-10.1 .6 7.4 .6-4.6 .3-3 .1 6.4 1.3-7.4 .4 10.6 .7-9.3 .2 8.3 .2 .3 .5-8.3 .6 8.6 .5-8.6 .6 9.6 .6-10.3 .7 9.3 .4-10.8 .1 2.5 .8 6.8 .2-6.8 .9 12.3 .2-11.7 .7 5.4 .6-1.2 .2-7.3 1 1.9 .2 10.2 .4-7.8 .3 5.9 .7-5.6 .6 8.9 .6-1.4 .5-8 .6 11.8 .3-16.1 .3 4.3 .5 9.5 .9-9.4 .1 8.1 .6-12.8 .3 10.2 .7 3.9 .6-9.9 .3-.3 .8 6.9 .1-.3 .1-7.9 .9 3.1 .4 4.5 .7-3.8 .4 7.8 .7-13.7 .3 10.3 .6-1.6 .8-7.7 .2 15.3 .3-18.6 1.4 14.5 .1-6.8 .2-4.7 .5 9.1 .5 1.9 .1-6.9 .9 3.3 .5-5.6 .8 8.1 .4-4.4 .7 5.5 .1-11.4 .5 8.8 .4-9.1 .7 9 .6-5.1 .3 9.2 .5-10.7 .4 2.2 .9 4.6 .6 2.3 .3-4.7 .6 7.3 .1-11.3 1.3-.9 .1 10.5 .3-6 .2-4.6" stroke="#dc9c00" stroke-width="4.0"/>
</g>
<g fill="#000">
<rect x="150.8" y="38.2" width="4.7" height="1318.6"/>
<rect x="1837" y="38.2" width="5.5" height="1318.6"/>
<rect x="139.9" y="38.2" width="1702.6" height="5.3"/>
<rect x="139.9" y="1330.6" width="1702.6" height="5.2"/>
<rect x="125.3" y="130.1" width="26" height="4.6"/>
<rect x="139.9" y="222.4" width="12" height="4.6"/>
<rect x="125.3" y="314.8" width="26" height="4.6"/>
<rect x="139.9" y="407.1" width="12" height="4.6"/>
<rect x="125.3" y="499.5" width="26" height="4.6"/>
<rect x="139.9" y="591.8" width="12" height="4.6"/>
<rect x="125.3" y="684.1" width="26" height="4.6"/>
<rect x="139.9" y="776.5" width="12" height="4.6"/>
<rect x="125.3" y="868.8" width="26" height="4.6"/>
<rect x="139.9" y="961.2" width="12" height="4.6"/>
<rect x="125.3" y="1053.5" width="26" height="4.6"/>
<rect x="139.9" y="1145.8" width="12" height="4.6"/>
<rect x="125.3" y="1238.2" width="26" height="4.6"/>
<rect x="244.7" y="1335" width="4.1" height="9.8"/>
<rect x="338.2" y="1335" width="4.6" height="21.8"/>
<rect x="432.1" y="1335" width="4.1" height="9.8"/>
<rect x="525.6" y="1335" width="4.6" height="21.8"/>
<rect x="619.5" y="1335" width="4.1" height="9.8"/>
<rect x="713.0" y="1335" width="4.6" height="21.8"/>
<rect x="807.0" y="1335" width="4.1" height="9.8"/>
<rect x="900.4" y="1335" width="4.6" height="21.8"/>
<rect x="994.4" y="1335" width="4.1" height="9.8"/>
<rect x="1087.8" y="1335" width="4.6" height="21.8"/>
<rect x="1181.7" y="1335" width="4.1" height="9.8"/>
<rect x="1275.2" y="1335" width="4.6" height="21.8"/>
<rect x="1369.1" y="1335" width="4.1" height="9.8"/>
<rect x="1462.6" y="1335" width="4.6" height="21.8"/>
<rect x="1556.5" y="1335" width="4.1" height="9.8"/>
<rect x="1650.0" y="1335" width="4.6" height="21.8"/>
<rect x="1743.9" y="1335" width="4.1" height="9.8"/>
</g>
<g font-size="57" text-anchor="middle">
<text x="153.1" y="1419.3">0</text>
<text x="340.5" y="1419.3">10</text>
<text x="527.9" y="1419.3">20</text>
<text x="715.3" y="1419.3">30</text>
<text x="902.7" y="1419.3">40</text>
<text x="1090.1" y="1419.3">50</text>
<text x="1277.5" y="1419.3">60</text>
<text x="1464.9" y="1419.3">70</text>
<text x="1652.3" y="1419.3">80</text>
<text x="1839.7" y="1419.3">90</text>
</g>
<text transform="translate(986.2 1523) scale(1.052 1)" font-size="68" text-anchor="middle">2θ (Degrees)</text>
<text transform="translate(78.2 686) rotate(-90) scale(1 1.053)" font-size="67.4" text-anchor="middle">Intensity (a.u)</text>
<g font-size="70">
<rect x="1515.1" y="61.5" width="282.4" height="505.8" fill="none" stroke="#000" stroke-width="1.3"/>
<line x1="1524.9" y1="108.4" x2="1681.9" y2="108.4" stroke="#000000" stroke-width="5.0" stroke-linecap="round"/>
<text x="1701.7" y="130.0">S0</text>
<line x1="1524.6" y1="190.7" x2="1682.2" y2="190.7" stroke="#ff0000" stroke-width="4.3" stroke-linecap="round"/>
<text x="1701.7" y="212.5">S1</text>
<line x1="1525.2" y1="272.6" x2="1681.6" y2="272.6" stroke="#00ff00" stroke-width="5.6" stroke-linecap="round"/>
<text x="1701.7" y="295.1">S2</text>
<line x1="1525.1" y1="355.7" x2="1681.7" y2="355.7" stroke="#0000ff" stroke-width="5.4" stroke-linecap="round"/>
<text x="1701.7" y="377.6">S3</text>
<line x1="1525.0" y1="438.2" x2="1681.8" y2="438.2" stroke="#ff00ff" stroke-width="5.2" stroke-linecap="round"/>
<text x="1701.7" y="460.1">S4</text>
<line x1="1524.5" y1="520.9" x2="1682.3" y2="520.9" stroke="#dc9c00" stroke-width="4.2" stroke-linecap="round"/>
<text x="1701.7" y="542.6">S5</text>
</g>
</svg>
</body></html>
